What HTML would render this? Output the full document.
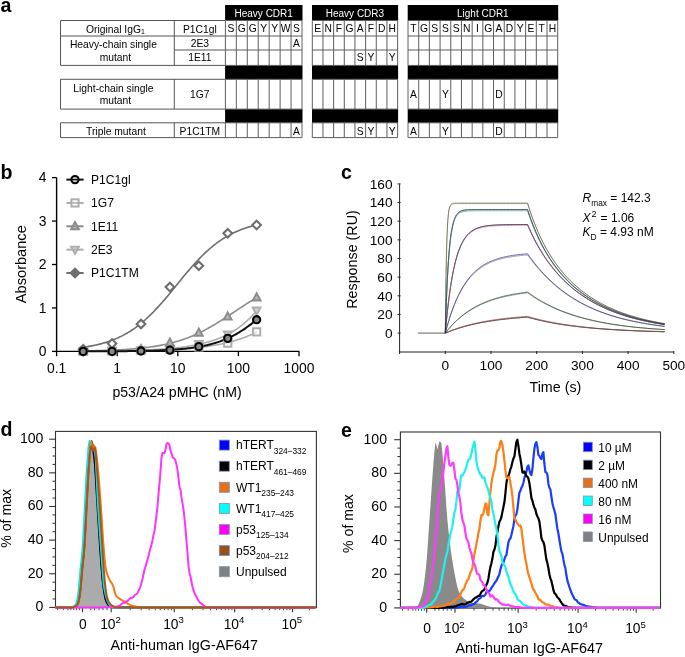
<!DOCTYPE html>
<html><head><meta charset="utf-8"><style>
html,body{margin:0;padding:0;background:#fff;width:685px;height:657px;overflow:hidden}
svg{display:block;will-change:transform}
text{font-family:"Liberation Sans", sans-serif}
</style></head><body>
<svg width="685" height="657" viewBox="0 0 685 657">
<text x="0.50" y="11.70" font-size="19.6" text-anchor="start" font-weight="bold" fill="#000" >a</text>
<text x="0.50" y="178.90" font-size="19.6" text-anchor="start" font-weight="bold" fill="#000" >b</text>
<text x="341.00" y="178.80" font-size="19.6" text-anchor="start" font-weight="bold" fill="#000" >c</text>
<text x="0.50" y="436.40" font-size="19.6" text-anchor="start" font-weight="bold" fill="#000" >d</text>
<text x="341.00" y="436.60" font-size="19.6" text-anchor="start" font-weight="bold" fill="#000" >e</text>
<rect x="225.10" y="5.00" width="77.40" height="15.50" fill="#000" stroke="none" stroke-width="0" />
<text x="263.70" y="16.90" font-size="10.0" text-anchor="middle" font-weight="normal" fill="#fff" >Heavy CDR1</text>
<rect x="225.10" y="65.40" width="77.40" height="13.90" fill="#000" stroke="none" stroke-width="0" />
<rect x="225.10" y="109.10" width="77.40" height="13.70" fill="#000" stroke="none" stroke-width="0" />
<rect x="312.00" y="5.00" width="86.10" height="15.50" fill="#000" stroke="none" stroke-width="0" />
<text x="354.95" y="16.90" font-size="10.0" text-anchor="middle" font-weight="normal" fill="#fff" >Heavy CDR3</text>
<rect x="312.00" y="65.40" width="86.10" height="13.90" fill="#000" stroke="none" stroke-width="0" />
<rect x="312.00" y="109.10" width="86.10" height="13.70" fill="#000" stroke="none" stroke-width="0" />
<rect x="407.70" y="5.00" width="150.50" height="15.50" fill="#000" stroke="none" stroke-width="0" />
<text x="482.85" y="16.90" font-size="10.0" text-anchor="middle" font-weight="normal" fill="#fff" >Light CDR1</text>
<rect x="407.70" y="65.40" width="150.50" height="13.90" fill="#000" stroke="none" stroke-width="0" />
<rect x="407.70" y="109.10" width="150.50" height="13.70" fill="#000" stroke="none" stroke-width="0" />
<line x1="60.50" y1="20.50" x2="225.40" y2="20.50" stroke="#555" stroke-width="1" />
<line x1="60.50" y1="36.00" x2="225.40" y2="36.00" stroke="#555" stroke-width="1" />
<line x1="174.30" y1="50.00" x2="225.40" y2="50.00" stroke="#555" stroke-width="1" />
<line x1="60.50" y1="65.40" x2="225.40" y2="65.40" stroke="#555" stroke-width="1" />
<line x1="60.50" y1="20.50" x2="60.50" y2="65.40" stroke="#555" stroke-width="1" />
<line x1="174.30" y1="20.50" x2="174.30" y2="65.40" stroke="#555" stroke-width="1" />
<line x1="60.50" y1="79.30" x2="225.40" y2="79.30" stroke="#555" stroke-width="1" />
<line x1="60.50" y1="109.10" x2="225.40" y2="109.10" stroke="#555" stroke-width="1" />
<line x1="60.50" y1="79.30" x2="60.50" y2="109.10" stroke="#555" stroke-width="1" />
<line x1="174.30" y1="79.30" x2="174.30" y2="109.10" stroke="#555" stroke-width="1" />
<line x1="60.50" y1="122.80" x2="225.40" y2="122.80" stroke="#555" stroke-width="1" />
<line x1="60.50" y1="137.60" x2="225.40" y2="137.60" stroke="#555" stroke-width="1" />
<line x1="60.50" y1="122.80" x2="60.50" y2="137.60" stroke="#555" stroke-width="1" />
<line x1="174.30" y1="122.80" x2="174.30" y2="137.60" stroke="#555" stroke-width="1" />
<line x1="225.40" y1="20.50" x2="302.00" y2="20.50" stroke="#5e5e5e" stroke-width="1" />
<line x1="225.40" y1="36.00" x2="302.00" y2="36.00" stroke="#5e5e5e" stroke-width="1" />
<line x1="225.40" y1="50.00" x2="302.00" y2="50.00" stroke="#5e5e5e" stroke-width="1" />
<line x1="225.40" y1="65.40" x2="302.00" y2="65.40" stroke="#5e5e5e" stroke-width="1" />
<line x1="225.40" y1="79.30" x2="302.00" y2="79.30" stroke="#5e5e5e" stroke-width="1" />
<line x1="225.40" y1="109.10" x2="302.00" y2="109.10" stroke="#5e5e5e" stroke-width="1" />
<line x1="225.40" y1="122.80" x2="302.00" y2="122.80" stroke="#5e5e5e" stroke-width="1" />
<line x1="225.40" y1="137.60" x2="302.00" y2="137.60" stroke="#5e5e5e" stroke-width="1" />
<line x1="225.40" y1="20.50" x2="225.40" y2="65.40" stroke="#5e5e5e" stroke-width="1" />
<line x1="225.40" y1="79.30" x2="225.40" y2="109.10" stroke="#5e5e5e" stroke-width="1" />
<line x1="225.40" y1="122.80" x2="225.40" y2="137.60" stroke="#5e5e5e" stroke-width="1" />
<line x1="236.34" y1="20.50" x2="236.34" y2="65.40" stroke="#5e5e5e" stroke-width="1" />
<line x1="236.34" y1="79.30" x2="236.34" y2="109.10" stroke="#5e5e5e" stroke-width="1" />
<line x1="236.34" y1="122.80" x2="236.34" y2="137.60" stroke="#5e5e5e" stroke-width="1" />
<line x1="247.29" y1="20.50" x2="247.29" y2="65.40" stroke="#5e5e5e" stroke-width="1" />
<line x1="247.29" y1="79.30" x2="247.29" y2="109.10" stroke="#5e5e5e" stroke-width="1" />
<line x1="247.29" y1="122.80" x2="247.29" y2="137.60" stroke="#5e5e5e" stroke-width="1" />
<line x1="258.23" y1="20.50" x2="258.23" y2="65.40" stroke="#5e5e5e" stroke-width="1" />
<line x1="258.23" y1="79.30" x2="258.23" y2="109.10" stroke="#5e5e5e" stroke-width="1" />
<line x1="258.23" y1="122.80" x2="258.23" y2="137.60" stroke="#5e5e5e" stroke-width="1" />
<line x1="269.17" y1="20.50" x2="269.17" y2="65.40" stroke="#5e5e5e" stroke-width="1" />
<line x1="269.17" y1="79.30" x2="269.17" y2="109.10" stroke="#5e5e5e" stroke-width="1" />
<line x1="269.17" y1="122.80" x2="269.17" y2="137.60" stroke="#5e5e5e" stroke-width="1" />
<line x1="280.11" y1="20.50" x2="280.11" y2="65.40" stroke="#5e5e5e" stroke-width="1" />
<line x1="280.11" y1="79.30" x2="280.11" y2="109.10" stroke="#5e5e5e" stroke-width="1" />
<line x1="280.11" y1="122.80" x2="280.11" y2="137.60" stroke="#5e5e5e" stroke-width="1" />
<line x1="291.06" y1="20.50" x2="291.06" y2="65.40" stroke="#5e5e5e" stroke-width="1" />
<line x1="291.06" y1="79.30" x2="291.06" y2="109.10" stroke="#5e5e5e" stroke-width="1" />
<line x1="291.06" y1="122.80" x2="291.06" y2="137.60" stroke="#5e5e5e" stroke-width="1" />
<line x1="302.00" y1="20.50" x2="302.00" y2="65.40" stroke="#5e5e5e" stroke-width="1" />
<line x1="302.00" y1="79.30" x2="302.00" y2="109.10" stroke="#5e5e5e" stroke-width="1" />
<line x1="302.00" y1="122.80" x2="302.00" y2="137.60" stroke="#5e5e5e" stroke-width="1" />
<text x="230.87" y="32.20" font-size="10.3" text-anchor="middle" font-weight="normal" fill="#000" >S</text>
<text x="241.81" y="32.20" font-size="10.3" text-anchor="middle" font-weight="normal" fill="#000" >G</text>
<text x="252.76" y="32.20" font-size="10.3" text-anchor="middle" font-weight="normal" fill="#000" >G</text>
<text x="263.70" y="32.20" font-size="10.3" text-anchor="middle" font-weight="normal" fill="#000" >Y</text>
<text x="274.64" y="32.20" font-size="10.3" text-anchor="middle" font-weight="normal" fill="#000" >Y</text>
<text x="285.59" y="32.20" font-size="10.3" text-anchor="middle" font-weight="normal" fill="#000" >W</text>
<text x="296.53" y="32.20" font-size="10.3" text-anchor="middle" font-weight="normal" fill="#000" >S</text>
<line x1="312.30" y1="20.50" x2="397.60" y2="20.50" stroke="#5e5e5e" stroke-width="1" />
<line x1="312.30" y1="36.00" x2="397.60" y2="36.00" stroke="#5e5e5e" stroke-width="1" />
<line x1="312.30" y1="50.00" x2="397.60" y2="50.00" stroke="#5e5e5e" stroke-width="1" />
<line x1="312.30" y1="65.40" x2="397.60" y2="65.40" stroke="#5e5e5e" stroke-width="1" />
<line x1="312.30" y1="79.30" x2="397.60" y2="79.30" stroke="#5e5e5e" stroke-width="1" />
<line x1="312.30" y1="109.10" x2="397.60" y2="109.10" stroke="#5e5e5e" stroke-width="1" />
<line x1="312.30" y1="122.80" x2="397.60" y2="122.80" stroke="#5e5e5e" stroke-width="1" />
<line x1="312.30" y1="137.60" x2="397.60" y2="137.60" stroke="#5e5e5e" stroke-width="1" />
<line x1="312.30" y1="20.50" x2="312.30" y2="65.40" stroke="#5e5e5e" stroke-width="1" />
<line x1="312.30" y1="79.30" x2="312.30" y2="109.10" stroke="#5e5e5e" stroke-width="1" />
<line x1="312.30" y1="122.80" x2="312.30" y2="137.60" stroke="#5e5e5e" stroke-width="1" />
<line x1="322.96" y1="20.50" x2="322.96" y2="65.40" stroke="#5e5e5e" stroke-width="1" />
<line x1="322.96" y1="79.30" x2="322.96" y2="109.10" stroke="#5e5e5e" stroke-width="1" />
<line x1="322.96" y1="122.80" x2="322.96" y2="137.60" stroke="#5e5e5e" stroke-width="1" />
<line x1="333.62" y1="20.50" x2="333.62" y2="65.40" stroke="#5e5e5e" stroke-width="1" />
<line x1="333.62" y1="79.30" x2="333.62" y2="109.10" stroke="#5e5e5e" stroke-width="1" />
<line x1="333.62" y1="122.80" x2="333.62" y2="137.60" stroke="#5e5e5e" stroke-width="1" />
<line x1="344.29" y1="20.50" x2="344.29" y2="65.40" stroke="#5e5e5e" stroke-width="1" />
<line x1="344.29" y1="79.30" x2="344.29" y2="109.10" stroke="#5e5e5e" stroke-width="1" />
<line x1="344.29" y1="122.80" x2="344.29" y2="137.60" stroke="#5e5e5e" stroke-width="1" />
<line x1="354.95" y1="20.50" x2="354.95" y2="65.40" stroke="#5e5e5e" stroke-width="1" />
<line x1="354.95" y1="79.30" x2="354.95" y2="109.10" stroke="#5e5e5e" stroke-width="1" />
<line x1="354.95" y1="122.80" x2="354.95" y2="137.60" stroke="#5e5e5e" stroke-width="1" />
<line x1="365.61" y1="20.50" x2="365.61" y2="65.40" stroke="#5e5e5e" stroke-width="1" />
<line x1="365.61" y1="79.30" x2="365.61" y2="109.10" stroke="#5e5e5e" stroke-width="1" />
<line x1="365.61" y1="122.80" x2="365.61" y2="137.60" stroke="#5e5e5e" stroke-width="1" />
<line x1="376.28" y1="20.50" x2="376.28" y2="65.40" stroke="#5e5e5e" stroke-width="1" />
<line x1="376.28" y1="79.30" x2="376.28" y2="109.10" stroke="#5e5e5e" stroke-width="1" />
<line x1="376.28" y1="122.80" x2="376.28" y2="137.60" stroke="#5e5e5e" stroke-width="1" />
<line x1="386.94" y1="20.50" x2="386.94" y2="65.40" stroke="#5e5e5e" stroke-width="1" />
<line x1="386.94" y1="79.30" x2="386.94" y2="109.10" stroke="#5e5e5e" stroke-width="1" />
<line x1="386.94" y1="122.80" x2="386.94" y2="137.60" stroke="#5e5e5e" stroke-width="1" />
<line x1="397.60" y1="20.50" x2="397.60" y2="65.40" stroke="#5e5e5e" stroke-width="1" />
<line x1="397.60" y1="79.30" x2="397.60" y2="109.10" stroke="#5e5e5e" stroke-width="1" />
<line x1="397.60" y1="122.80" x2="397.60" y2="137.60" stroke="#5e5e5e" stroke-width="1" />
<text x="317.63" y="32.20" font-size="10.3" text-anchor="middle" font-weight="normal" fill="#000" >E</text>
<text x="328.29" y="32.20" font-size="10.3" text-anchor="middle" font-weight="normal" fill="#000" >N</text>
<text x="338.96" y="32.20" font-size="10.3" text-anchor="middle" font-weight="normal" fill="#000" >F</text>
<text x="349.62" y="32.20" font-size="10.3" text-anchor="middle" font-weight="normal" fill="#000" >G</text>
<text x="360.28" y="32.20" font-size="10.3" text-anchor="middle" font-weight="normal" fill="#000" >A</text>
<text x="370.94" y="32.20" font-size="10.3" text-anchor="middle" font-weight="normal" fill="#000" >F</text>
<text x="381.61" y="32.20" font-size="10.3" text-anchor="middle" font-weight="normal" fill="#000" >D</text>
<text x="392.27" y="32.20" font-size="10.3" text-anchor="middle" font-weight="normal" fill="#000" >H</text>
<line x1="408.00" y1="20.50" x2="557.70" y2="20.50" stroke="#5e5e5e" stroke-width="1" />
<line x1="408.00" y1="36.00" x2="557.70" y2="36.00" stroke="#5e5e5e" stroke-width="1" />
<line x1="408.00" y1="50.00" x2="557.70" y2="50.00" stroke="#5e5e5e" stroke-width="1" />
<line x1="408.00" y1="65.40" x2="557.70" y2="65.40" stroke="#5e5e5e" stroke-width="1" />
<line x1="408.00" y1="79.30" x2="557.70" y2="79.30" stroke="#5e5e5e" stroke-width="1" />
<line x1="408.00" y1="109.10" x2="557.70" y2="109.10" stroke="#5e5e5e" stroke-width="1" />
<line x1="408.00" y1="122.80" x2="557.70" y2="122.80" stroke="#5e5e5e" stroke-width="1" />
<line x1="408.00" y1="137.60" x2="557.70" y2="137.60" stroke="#5e5e5e" stroke-width="1" />
<line x1="408.00" y1="20.50" x2="408.00" y2="65.40" stroke="#5e5e5e" stroke-width="1" />
<line x1="408.00" y1="79.30" x2="408.00" y2="109.10" stroke="#5e5e5e" stroke-width="1" />
<line x1="408.00" y1="122.80" x2="408.00" y2="137.60" stroke="#5e5e5e" stroke-width="1" />
<line x1="418.69" y1="20.50" x2="418.69" y2="65.40" stroke="#5e5e5e" stroke-width="1" />
<line x1="418.69" y1="79.30" x2="418.69" y2="109.10" stroke="#5e5e5e" stroke-width="1" />
<line x1="418.69" y1="122.80" x2="418.69" y2="137.60" stroke="#5e5e5e" stroke-width="1" />
<line x1="429.39" y1="20.50" x2="429.39" y2="65.40" stroke="#5e5e5e" stroke-width="1" />
<line x1="429.39" y1="79.30" x2="429.39" y2="109.10" stroke="#5e5e5e" stroke-width="1" />
<line x1="429.39" y1="122.80" x2="429.39" y2="137.60" stroke="#5e5e5e" stroke-width="1" />
<line x1="440.08" y1="20.50" x2="440.08" y2="65.40" stroke="#5e5e5e" stroke-width="1" />
<line x1="440.08" y1="79.30" x2="440.08" y2="109.10" stroke="#5e5e5e" stroke-width="1" />
<line x1="440.08" y1="122.80" x2="440.08" y2="137.60" stroke="#5e5e5e" stroke-width="1" />
<line x1="450.77" y1="20.50" x2="450.77" y2="65.40" stroke="#5e5e5e" stroke-width="1" />
<line x1="450.77" y1="79.30" x2="450.77" y2="109.10" stroke="#5e5e5e" stroke-width="1" />
<line x1="450.77" y1="122.80" x2="450.77" y2="137.60" stroke="#5e5e5e" stroke-width="1" />
<line x1="461.46" y1="20.50" x2="461.46" y2="65.40" stroke="#5e5e5e" stroke-width="1" />
<line x1="461.46" y1="79.30" x2="461.46" y2="109.10" stroke="#5e5e5e" stroke-width="1" />
<line x1="461.46" y1="122.80" x2="461.46" y2="137.60" stroke="#5e5e5e" stroke-width="1" />
<line x1="472.16" y1="20.50" x2="472.16" y2="65.40" stroke="#5e5e5e" stroke-width="1" />
<line x1="472.16" y1="79.30" x2="472.16" y2="109.10" stroke="#5e5e5e" stroke-width="1" />
<line x1="472.16" y1="122.80" x2="472.16" y2="137.60" stroke="#5e5e5e" stroke-width="1" />
<line x1="482.85" y1="20.50" x2="482.85" y2="65.40" stroke="#5e5e5e" stroke-width="1" />
<line x1="482.85" y1="79.30" x2="482.85" y2="109.10" stroke="#5e5e5e" stroke-width="1" />
<line x1="482.85" y1="122.80" x2="482.85" y2="137.60" stroke="#5e5e5e" stroke-width="1" />
<line x1="493.54" y1="20.50" x2="493.54" y2="65.40" stroke="#5e5e5e" stroke-width="1" />
<line x1="493.54" y1="79.30" x2="493.54" y2="109.10" stroke="#5e5e5e" stroke-width="1" />
<line x1="493.54" y1="122.80" x2="493.54" y2="137.60" stroke="#5e5e5e" stroke-width="1" />
<line x1="504.24" y1="20.50" x2="504.24" y2="65.40" stroke="#5e5e5e" stroke-width="1" />
<line x1="504.24" y1="79.30" x2="504.24" y2="109.10" stroke="#5e5e5e" stroke-width="1" />
<line x1="504.24" y1="122.80" x2="504.24" y2="137.60" stroke="#5e5e5e" stroke-width="1" />
<line x1="514.93" y1="20.50" x2="514.93" y2="65.40" stroke="#5e5e5e" stroke-width="1" />
<line x1="514.93" y1="79.30" x2="514.93" y2="109.10" stroke="#5e5e5e" stroke-width="1" />
<line x1="514.93" y1="122.80" x2="514.93" y2="137.60" stroke="#5e5e5e" stroke-width="1" />
<line x1="525.62" y1="20.50" x2="525.62" y2="65.40" stroke="#5e5e5e" stroke-width="1" />
<line x1="525.62" y1="79.30" x2="525.62" y2="109.10" stroke="#5e5e5e" stroke-width="1" />
<line x1="525.62" y1="122.80" x2="525.62" y2="137.60" stroke="#5e5e5e" stroke-width="1" />
<line x1="536.31" y1="20.50" x2="536.31" y2="65.40" stroke="#5e5e5e" stroke-width="1" />
<line x1="536.31" y1="79.30" x2="536.31" y2="109.10" stroke="#5e5e5e" stroke-width="1" />
<line x1="536.31" y1="122.80" x2="536.31" y2="137.60" stroke="#5e5e5e" stroke-width="1" />
<line x1="547.01" y1="20.50" x2="547.01" y2="65.40" stroke="#5e5e5e" stroke-width="1" />
<line x1="547.01" y1="79.30" x2="547.01" y2="109.10" stroke="#5e5e5e" stroke-width="1" />
<line x1="547.01" y1="122.80" x2="547.01" y2="137.60" stroke="#5e5e5e" stroke-width="1" />
<line x1="557.70" y1="20.50" x2="557.70" y2="65.40" stroke="#5e5e5e" stroke-width="1" />
<line x1="557.70" y1="79.30" x2="557.70" y2="109.10" stroke="#5e5e5e" stroke-width="1" />
<line x1="557.70" y1="122.80" x2="557.70" y2="137.60" stroke="#5e5e5e" stroke-width="1" />
<text x="413.35" y="32.20" font-size="10.3" text-anchor="middle" font-weight="normal" fill="#000" >T</text>
<text x="424.04" y="32.20" font-size="10.3" text-anchor="middle" font-weight="normal" fill="#000" >G</text>
<text x="434.73" y="32.20" font-size="10.3" text-anchor="middle" font-weight="normal" fill="#000" >S</text>
<text x="445.43" y="32.20" font-size="10.3" text-anchor="middle" font-weight="normal" fill="#000" >S</text>
<text x="456.12" y="32.20" font-size="10.3" text-anchor="middle" font-weight="normal" fill="#000" >S</text>
<text x="466.81" y="32.20" font-size="10.3" text-anchor="middle" font-weight="normal" fill="#000" >N</text>
<text x="477.50" y="32.20" font-size="10.3" text-anchor="middle" font-weight="normal" fill="#000" >I</text>
<text x="488.20" y="32.20" font-size="10.3" text-anchor="middle" font-weight="normal" fill="#000" >G</text>
<text x="498.89" y="32.20" font-size="10.3" text-anchor="middle" font-weight="normal" fill="#000" >A</text>
<text x="509.58" y="32.20" font-size="10.3" text-anchor="middle" font-weight="normal" fill="#000" >D</text>
<text x="520.28" y="32.20" font-size="10.3" text-anchor="middle" font-weight="normal" fill="#000" >Y</text>
<text x="530.97" y="32.20" font-size="10.3" text-anchor="middle" font-weight="normal" fill="#000" >E</text>
<text x="541.66" y="32.20" font-size="10.3" text-anchor="middle" font-weight="normal" fill="#000" >T</text>
<text x="552.35" y="32.20" font-size="10.3" text-anchor="middle" font-weight="normal" fill="#000" >H</text>
<text x="115.40" y="32.50" font-size="10.3" text-anchor="middle" font-weight="normal" fill="#000" >Original IgG<tspan font-size="7" dy="1.5">1</tspan></text>
<text x="113.40" y="48.00" font-size="10.3" text-anchor="middle" font-weight="normal" fill="#000" >Heavy-chain single</text>
<text x="115.40" y="60.50" font-size="10.3" text-anchor="middle" font-weight="normal" fill="#000" >mutant</text>
<text x="113.40" y="92.00" font-size="10.3" text-anchor="middle" font-weight="normal" fill="#000" >Light-chain single</text>
<text x="115.40" y="104.40" font-size="10.3" text-anchor="middle" font-weight="normal" fill="#000" >mutant</text>
<text x="115.90" y="134.90" font-size="10.3" text-anchor="middle" font-weight="normal" fill="#000" >Triple mutant</text>
<text x="199.85" y="32.50" font-size="10.3" text-anchor="middle" font-weight="normal" fill="#000" >P1C1gl</text>
<text x="199.85" y="47.10" font-size="10.3" text-anchor="middle" font-weight="normal" fill="#000" >2E3</text>
<text x="199.85" y="61.30" font-size="10.3" text-anchor="middle" font-weight="normal" fill="#000" >1E11</text>
<text x="199.85" y="98.00" font-size="10.3" text-anchor="middle" font-weight="normal" fill="#000" >1G7</text>
<text x="199.85" y="134.90" font-size="10.3" text-anchor="middle" font-weight="normal" fill="#000" >P1C1TM</text>
<text x="296.53" y="47.10" font-size="10.3" text-anchor="middle" font-weight="normal" fill="#000" >A</text>
<text x="360.28" y="61.30" font-size="10.3" text-anchor="middle" font-weight="normal" fill="#000" >S</text>
<text x="360.28" y="134.90" font-size="10.3" text-anchor="middle" font-weight="normal" fill="#000" >S</text>
<text x="370.94" y="61.30" font-size="10.3" text-anchor="middle" font-weight="normal" fill="#000" >Y</text>
<text x="370.94" y="134.90" font-size="10.3" text-anchor="middle" font-weight="normal" fill="#000" >Y</text>
<text x="392.27" y="61.30" font-size="10.3" text-anchor="middle" font-weight="normal" fill="#000" >Y</text>
<text x="392.27" y="134.90" font-size="10.3" text-anchor="middle" font-weight="normal" fill="#000" >Y</text>
<text x="413.35" y="98.00" font-size="10.3" text-anchor="middle" font-weight="normal" fill="#000" >A</text>
<text x="413.35" y="134.90" font-size="10.3" text-anchor="middle" font-weight="normal" fill="#000" >A</text>
<text x="445.43" y="98.00" font-size="10.3" text-anchor="middle" font-weight="normal" fill="#000" >Y</text>
<text x="445.43" y="134.90" font-size="10.3" text-anchor="middle" font-weight="normal" fill="#000" >Y</text>
<text x="498.89" y="98.00" font-size="10.3" text-anchor="middle" font-weight="normal" fill="#000" >D</text>
<text x="498.89" y="134.90" font-size="10.3" text-anchor="middle" font-weight="normal" fill="#000" >D</text>
<text x="296.53" y="134.90" font-size="10.3" text-anchor="middle" font-weight="normal" fill="#000" >A</text>
<line x1="56.60" y1="177.50" x2="56.60" y2="352.10" stroke="#000" stroke-width="1.4" />
<line x1="56.00" y1="351.40" x2="299.40" y2="351.40" stroke="#000" stroke-width="1.4" />
<line x1="52.00" y1="351.40" x2="56.60" y2="351.40" stroke="#000" stroke-width="1.3" />
<text x="46.50" y="356.20" font-size="13.9" text-anchor="end" font-weight="normal" fill="#000" >0</text>
<line x1="52.00" y1="307.95" x2="56.60" y2="307.95" stroke="#000" stroke-width="1.3" />
<text x="46.50" y="312.75" font-size="13.9" text-anchor="end" font-weight="normal" fill="#000" >1</text>
<line x1="52.00" y1="264.50" x2="56.60" y2="264.50" stroke="#000" stroke-width="1.3" />
<text x="46.50" y="269.30" font-size="13.9" text-anchor="end" font-weight="normal" fill="#000" >2</text>
<line x1="52.00" y1="221.05" x2="56.60" y2="221.05" stroke="#000" stroke-width="1.3" />
<text x="46.50" y="225.85" font-size="13.9" text-anchor="end" font-weight="normal" fill="#000" >3</text>
<line x1="52.00" y1="177.60" x2="56.60" y2="177.60" stroke="#000" stroke-width="1.3" />
<text x="46.50" y="182.40" font-size="13.9" text-anchor="end" font-weight="normal" fill="#000" >4</text>
<line x1="56.60" y1="351.40" x2="56.60" y2="356.20" stroke="#000" stroke-width="1.3" />
<text x="56.60" y="372.70" font-size="13.9" text-anchor="middle" font-weight="normal" fill="#000" >0.1</text>
<line x1="117.20" y1="351.40" x2="117.20" y2="356.20" stroke="#000" stroke-width="1.3" />
<text x="117.20" y="372.70" font-size="13.9" text-anchor="middle" font-weight="normal" fill="#000" >1</text>
<line x1="177.80" y1="351.40" x2="177.80" y2="356.20" stroke="#000" stroke-width="1.3" />
<text x="177.80" y="372.70" font-size="13.9" text-anchor="middle" font-weight="normal" fill="#000" >10</text>
<line x1="238.40" y1="351.40" x2="238.40" y2="356.20" stroke="#000" stroke-width="1.3" />
<text x="238.40" y="372.70" font-size="13.9" text-anchor="middle" font-weight="normal" fill="#000" >100</text>
<line x1="299.00" y1="351.40" x2="299.00" y2="356.20" stroke="#000" stroke-width="1.3" />
<text x="299.00" y="372.70" font-size="13.9" text-anchor="middle" font-weight="normal" fill="#000" >1000</text>
<text x="26.20" y="264.20" font-size="14.6" text-anchor="middle" font-weight="normal" fill="#000" transform="rotate(-90 26.2 264.2)">Absorbance</text>
<text x="177.00" y="396.80" font-size="14.1" text-anchor="middle" font-weight="normal" fill="#000" >p53/A24 pMHC (nM)</text>
<polyline points="83.13,351.23 84.59,351.23 86.04,351.22 87.50,351.21 88.96,351.21 90.42,351.20 91.88,351.19 93.33,351.18 94.79,351.17 96.25,351.16 97.71,351.15 99.17,351.14 100.62,351.13 102.08,351.12 103.54,351.11 105.00,351.10 106.46,351.08 107.92,351.07 109.37,351.06 110.83,351.04 112.29,351.03 113.75,351.01 115.21,351.00 116.66,350.98 118.12,350.97 119.58,350.95 121.04,350.93 122.50,350.91 123.95,350.89 125.41,350.87 126.87,350.85 128.33,350.82 129.79,350.80 131.25,350.78 132.70,350.75 134.16,350.72 135.62,350.70 137.08,350.67 138.54,350.64 139.99,350.61 141.45,350.58 142.91,350.54 144.37,350.51 145.83,350.47 147.28,350.43 148.74,350.39 150.20,350.35 151.66,350.31 153.12,350.26 154.57,350.22 156.03,350.17 157.49,350.12 158.95,350.07 160.41,350.01 161.87,349.95 163.32,349.89 164.78,349.83 166.24,349.77 167.70,349.70 169.16,349.63 170.61,349.56 172.07,349.49 173.53,349.41 174.99,349.33 176.45,349.24 177.90,349.15 179.36,349.06 180.82,348.97 182.28,348.87 183.74,348.76 185.20,348.65 186.65,348.54 188.11,348.43 189.57,348.30 191.03,348.18 192.49,348.05 193.94,347.91 195.40,347.77 196.86,347.62 198.32,347.46 199.78,347.30 201.23,347.14 202.69,346.96 204.15,346.78 205.61,346.59 207.07,346.40 208.52,346.19 209.98,345.98 211.44,345.76 212.90,345.53 214.36,345.29 215.82,345.04 217.27,344.78 218.73,344.51 220.19,344.23 221.65,343.94 223.11,343.63 224.56,343.32 226.02,342.99 227.48,342.65 228.94,342.29 230.40,341.92 231.85,341.53 233.31,341.13 234.77,340.71 236.23,340.28 237.69,339.83 239.15,339.36 240.60,338.87 242.06,338.36 243.52,337.83 244.98,337.28 246.44,336.70 247.89,336.11 249.35,335.49 250.81,334.84 252.27,334.17 253.73,333.47 255.18,332.75 256.64,331.99" fill="none" stroke="#adadad" stroke-width="1.6" stroke-linejoin="round" />
<polyline points="83.13,351.19 84.59,351.19 86.04,351.18 87.50,351.17 88.96,351.15 90.42,351.14 91.88,351.13 93.33,351.12 94.79,351.11 96.25,351.09 97.71,351.08 99.17,351.06 100.62,351.05 102.08,351.03 103.54,351.02 105.00,351.00 106.46,350.98 107.92,350.96 109.37,350.94 110.83,350.92 112.29,350.90 113.75,350.88 115.21,350.85 116.66,350.83 118.12,350.80 119.58,350.77 121.04,350.75 122.50,350.72 123.95,350.68 125.41,350.65 126.87,350.62 128.33,350.58 129.79,350.54 131.25,350.50 132.70,350.46 134.16,350.42 135.62,350.38 137.08,350.33 138.54,350.28 139.99,350.23 141.45,350.18 142.91,350.12 144.37,350.06 145.83,350.00 147.28,349.94 148.74,349.87 150.20,349.80 151.66,349.73 153.12,349.65 154.57,349.57 156.03,349.49 157.49,349.40 158.95,349.31 160.41,349.21 161.87,349.11 163.32,349.01 164.78,348.90 166.24,348.79 167.70,348.67 169.16,348.54 170.61,348.41 172.07,348.28 173.53,348.14 174.99,347.99 176.45,347.83 177.90,347.67 179.36,347.50 180.82,347.32 182.28,347.13 183.74,346.94 185.20,346.74 186.65,346.52 188.11,346.30 189.57,346.07 191.03,345.83 192.49,345.57 193.94,345.31 195.40,345.03 196.86,344.74 198.32,344.44 199.78,344.12 201.23,343.79 202.69,343.44 204.15,343.08 205.61,342.70 207.07,342.31 208.52,341.89 209.98,341.46 211.44,341.01 212.90,340.54 214.36,340.05 215.82,339.53 217.27,338.99 218.73,338.43 220.19,337.84 221.65,337.23 223.11,336.58 224.56,335.91 226.02,335.21 227.48,334.48 228.94,333.71 230.40,332.91 231.85,332.08 233.31,331.20 234.77,330.29 236.23,329.34 237.69,328.34 239.15,327.30 240.60,326.21 242.06,325.08 243.52,323.89 244.98,322.66 246.44,321.36 247.89,320.01 249.35,318.60 250.81,317.13 252.27,315.59 253.73,313.99 255.18,312.32 256.64,310.57" fill="none" stroke="#adadad" stroke-width="1.6" stroke-linejoin="round" />
<polyline points="83.13,350.92 84.59,350.90 86.04,350.87 87.50,350.85 88.96,350.82 90.42,350.79 91.88,350.76 93.33,350.73 94.79,350.70 96.25,350.66 97.71,350.62 99.17,350.58 100.62,350.54 102.08,350.50 103.54,350.46 105.00,350.41 106.46,350.36 107.92,350.31 109.37,350.25 110.83,350.20 112.29,350.14 113.75,350.07 115.21,350.01 116.66,349.94 118.12,349.87 119.58,349.79 121.04,349.71 122.50,349.63 123.95,349.54 125.41,349.45 126.87,349.35 128.33,349.25 129.79,349.15 131.25,349.04 132.70,348.92 134.16,348.80 135.62,348.67 137.08,348.54 138.54,348.40 139.99,348.26 141.45,348.11 142.91,347.95 144.37,347.78 145.83,347.61 147.28,347.42 148.74,347.23 150.20,347.04 151.66,346.83 153.12,346.61 154.57,346.38 156.03,346.15 157.49,345.90 158.95,345.64 160.41,345.38 161.87,345.10 163.32,344.80 164.78,344.50 166.24,344.18 167.70,343.85 169.16,343.51 170.61,343.16 172.07,342.78 173.53,342.40 174.99,342.00 176.45,341.58 177.90,341.15 179.36,340.71 180.82,340.24 182.28,339.76 183.74,339.26 185.20,338.75 186.65,338.22 188.11,337.67 189.57,337.10 191.03,336.51 192.49,335.91 193.94,335.29 195.40,334.65 196.86,333.99 198.32,333.31 199.78,332.62 201.23,331.90 202.69,331.17 204.15,330.42 205.61,329.65 207.07,328.87 208.52,328.06 209.98,327.25 211.44,326.41 212.90,325.56 214.36,324.70 215.82,323.82 217.27,322.93 218.73,322.03 220.19,321.12 221.65,320.19 223.11,319.26 224.56,318.31 226.02,317.36 227.48,316.41 228.94,315.44 230.40,314.48 231.85,313.51 233.31,312.53 234.77,311.56 236.23,310.59 237.69,309.62 239.15,308.65 240.60,307.69 242.06,306.73 243.52,305.77 244.98,304.83 246.44,303.89 247.89,302.96 249.35,302.05 250.81,301.14 252.27,300.24 253.73,299.36 255.18,298.49 256.64,297.64" fill="none" stroke="#8c8c8c" stroke-width="1.6" stroke-linejoin="round" />
<polyline points="83.13,347.35 84.59,347.13 86.04,346.90 87.50,346.66 88.96,346.41 90.42,346.14 91.88,345.87 93.33,345.57 94.79,345.26 96.25,344.94 97.71,344.60 99.17,344.25 100.62,343.87 102.08,343.48 103.54,343.07 105.00,342.64 106.46,342.19 107.92,341.71 109.37,341.22 110.83,340.70 112.29,340.16 113.75,339.59 115.21,339.00 116.66,338.38 118.12,337.73 119.58,337.05 121.04,336.35 122.50,335.62 123.95,334.85 125.41,334.05 126.87,333.22 128.33,332.36 129.79,331.47 131.25,330.53 132.70,329.57 134.16,328.57 135.62,327.53 137.08,326.46 138.54,325.35 139.99,324.20 141.45,323.01 142.91,321.79 144.37,320.53 145.83,319.24 147.28,317.90 148.74,316.53 150.20,315.13 151.66,313.69 153.12,312.22 154.57,310.71 156.03,309.17 157.49,307.60 158.95,306.01 160.41,304.38 161.87,302.73 163.32,301.06 164.78,299.36 166.24,297.64 167.70,295.91 169.16,294.16 170.61,292.39 172.07,290.62 173.53,288.84 174.99,287.05 176.45,285.26 177.90,283.46 179.36,281.67 180.82,279.89 182.28,278.11 183.74,276.34 185.20,274.59 186.65,272.84 188.11,271.12 189.57,269.41 191.03,267.73 192.49,266.07 193.94,264.43 195.40,262.82 196.86,261.24 198.32,259.69 199.78,258.18 201.23,256.69 202.69,255.24 204.15,253.82 205.61,252.43 207.07,251.09 208.52,249.78 209.98,248.50 211.44,247.27 212.90,246.07 214.36,244.90 215.82,243.78 217.27,242.69 218.73,241.64 220.19,240.62 221.65,239.64 223.11,238.70 224.56,237.79 226.02,236.91 227.48,236.07 228.94,235.26 230.40,234.48 231.85,233.73 233.31,233.02 234.77,232.33 236.23,231.67 237.69,231.04 239.15,230.44 240.60,229.86 242.06,229.31 243.52,228.78 244.98,228.27 246.44,227.79 247.89,227.33 249.35,226.89 250.81,226.47 252.27,226.07 253.73,225.69 255.18,225.33 256.64,224.98" fill="none" stroke="#6e6e6e" stroke-width="1.6" stroke-linejoin="round" />
<polyline points="83.13,351.35 84.59,351.35 86.04,351.35 87.50,351.34 88.96,351.34 90.42,351.34 91.88,351.33 93.33,351.33 94.79,351.32 96.25,351.32 97.71,351.31 99.17,351.31 100.62,351.30 102.08,351.30 103.54,351.29 105.00,351.29 106.46,351.28 107.92,351.27 109.37,351.26 110.83,351.26 112.29,351.25 113.75,351.24 115.21,351.23 116.66,351.22 118.12,351.21 119.58,351.20 121.04,351.18 122.50,351.17 123.95,351.16 125.41,351.14 126.87,351.13 128.33,351.11 129.79,351.09 131.25,351.08 132.70,351.06 134.16,351.04 135.62,351.01 137.08,350.99 138.54,350.97 139.99,350.94 141.45,350.91 142.91,350.88 144.37,350.85 145.83,350.82 147.28,350.79 148.74,350.75 150.20,350.71 151.66,350.67 153.12,350.63 154.57,350.58 156.03,350.53 157.49,350.48 158.95,350.43 160.41,350.37 161.87,350.31 163.32,350.24 164.78,350.18 166.24,350.10 167.70,350.03 169.16,349.95 170.61,349.86 172.07,349.77 173.53,349.67 174.99,349.57 176.45,349.47 177.90,349.35 179.36,349.23 180.82,349.11 182.28,348.97 183.74,348.83 185.20,348.68 186.65,348.53 188.11,348.36 189.57,348.18 191.03,348.00 192.49,347.80 193.94,347.60 195.40,347.38 196.86,347.15 198.32,346.91 199.78,346.65 201.23,346.38 202.69,346.10 204.15,345.80 205.61,345.49 207.07,345.16 208.52,344.81 209.98,344.45 211.44,344.06 212.90,343.66 214.36,343.24 215.82,342.79 217.27,342.33 218.73,341.84 220.19,341.33 221.65,340.80 223.11,340.24 224.56,339.66 226.02,339.05 227.48,338.42 228.94,337.75 230.40,337.06 231.85,336.35 233.31,335.60 234.77,334.82 236.23,334.02 237.69,333.18 239.15,332.32 240.60,331.42 242.06,330.50 243.52,329.54 244.98,328.56 246.44,327.55 247.89,326.50 249.35,325.43 250.81,324.34 252.27,323.21 253.73,322.06 255.18,320.89 256.64,319.69" fill="none" stroke="#111" stroke-width="2.0" stroke-linejoin="round" />
<rect x="79.56" y="347.80" width="7.2" height="7.2" fill="#fff" fill-opacity="0.6" stroke="#adadad" stroke-width="2"/>
<rect x="108.47" y="347.37" width="7.2" height="7.2" fill="#fff" fill-opacity="0.6" stroke="#adadad" stroke-width="2"/>
<rect x="137.39" y="346.93" width="7.2" height="7.2" fill="#fff" fill-opacity="0.6" stroke="#adadad" stroke-width="2"/>
<rect x="166.30" y="345.63" width="7.2" height="7.2" fill="#fff" fill-opacity="0.6" stroke="#adadad" stroke-width="2"/>
<rect x="195.22" y="343.45" width="7.2" height="7.2" fill="#fff" fill-opacity="0.6" stroke="#adadad" stroke-width="2"/>
<rect x="224.13" y="339.54" width="7.2" height="7.2" fill="#fff" fill-opacity="0.6" stroke="#adadad" stroke-width="2"/>
<rect x="253.04" y="328.25" width="7.2" height="7.2" fill="#fff" fill-opacity="0.6" stroke="#adadad" stroke-width="2"/>
<polygon points="83.16,355.70 87.06,348.40 79.26,348.40" fill="#d0d0d0" stroke="#adadad" stroke-width="1.9"/>
<polygon points="112.07,355.27 115.97,347.97 108.17,347.97" fill="#d0d0d0" stroke="#adadad" stroke-width="1.9"/>
<polygon points="140.99,354.40 144.89,347.10 137.09,347.10" fill="#d0d0d0" stroke="#adadad" stroke-width="1.9"/>
<polygon points="169.90,353.09 173.80,345.79 166.00,345.79" fill="#d0d0d0" stroke="#adadad" stroke-width="1.9"/>
<polygon points="198.82,348.31 202.72,341.01 194.92,341.01" fill="#d0d0d0" stroke="#adadad" stroke-width="1.9"/>
<polygon points="227.73,338.75 231.63,331.45 223.83,331.45" fill="#d0d0d0" stroke="#adadad" stroke-width="1.9"/>
<polygon points="256.64,314.86 260.54,307.56 252.74,307.56" fill="#d0d0d0" stroke="#adadad" stroke-width="1.9"/>
<polygon points="83.16,346.67 87.06,353.97 79.26,353.97" fill="#b4b4b4" stroke="#8c8c8c" stroke-width="1.9" stroke-linejoin="miter"/>
<polygon points="112.07,346.23 115.97,353.53 108.17,353.53" fill="#b4b4b4" stroke="#8c8c8c" stroke-width="1.9" stroke-linejoin="miter"/>
<polygon points="140.99,344.93 144.89,352.23 137.09,352.23" fill="#b4b4b4" stroke="#8c8c8c" stroke-width="1.9" stroke-linejoin="miter"/>
<polygon points="169.90,338.41 173.80,345.71 166.00,345.71" fill="#b4b4b4" stroke="#8c8c8c" stroke-width="1.9" stroke-linejoin="miter"/>
<polygon points="198.82,328.42 202.72,335.72 194.92,335.72" fill="#b4b4b4" stroke="#8c8c8c" stroke-width="1.9" stroke-linejoin="miter"/>
<polygon points="227.73,312.34 231.63,319.64 223.83,319.64" fill="#b4b4b4" stroke="#8c8c8c" stroke-width="1.9" stroke-linejoin="miter"/>
<polygon points="256.64,293.22 260.54,300.52 252.74,300.52" fill="#b4b4b4" stroke="#8c8c8c" stroke-width="1.9" stroke-linejoin="miter"/>
<polygon points="83.16,344.93 87.46,349.23 83.16,353.53 78.86,349.23" fill="#fff" stroke="#6e6e6e" stroke-width="2.1"/>
<polygon points="112.07,339.28 116.37,343.58 112.07,347.88 107.77,343.58" fill="#fff" stroke="#6e6e6e" stroke-width="2.1"/>
<polygon points="140.99,319.73 145.29,324.03 140.99,328.33 136.69,324.03" fill="#fff" stroke="#6e6e6e" stroke-width="2.1"/>
<polygon points="169.90,282.79 174.20,287.09 169.90,291.39 165.60,287.09" fill="#fff" stroke="#6e6e6e" stroke-width="2.1"/>
<polygon points="198.82,261.50 203.12,265.80 198.82,270.10 194.52,265.80" fill="#fff" stroke="#6e6e6e" stroke-width="2.1"/>
<polygon points="227.73,228.92 232.03,233.22 227.73,237.52 223.43,233.22" fill="#fff" stroke="#6e6e6e" stroke-width="2.1"/>
<polygon points="256.64,220.66 260.94,224.96 256.64,229.26 252.34,224.96" fill="#fff" stroke="#6e6e6e" stroke-width="2.1"/>
<circle cx="83.16" cy="351.40" r="3.6" fill="#8a8a8a" stroke="#000" stroke-width="2.1"/>
<circle cx="112.07" cy="351.40" r="3.6" fill="#8a8a8a" stroke="#000" stroke-width="2.1"/>
<circle cx="140.99" cy="350.97" r="3.6" fill="#8a8a8a" stroke="#000" stroke-width="2.1"/>
<circle cx="169.90" cy="350.10" r="3.6" fill="#8a8a8a" stroke="#000" stroke-width="2.1"/>
<circle cx="198.82" cy="346.62" r="3.6" fill="#8a8a8a" stroke="#000" stroke-width="2.1"/>
<circle cx="227.73" cy="338.36" r="3.6" fill="#8a8a8a" stroke="#000" stroke-width="2.1"/>
<circle cx="256.64" cy="319.68" r="3.6" fill="#8a8a8a" stroke="#000" stroke-width="2.1"/>
<line x1="66.40" y1="179.60" x2="83.60" y2="179.60" stroke="#111" stroke-width="2.0" />
<circle cx="75.00" cy="179.60" r="3.6" fill="#cfcfcf" stroke="#000" stroke-width="2.1"/>
<line x1="71.50" y1="179.60" x2="78.50" y2="179.60" stroke="#111" stroke-width="1.4" />
<text x="91.00" y="183.90" font-size="12.1" text-anchor="start" font-weight="normal" fill="#000" >P1C1gl</text>
<line x1="66.40" y1="202.95" x2="83.60" y2="202.95" stroke="#adadad" stroke-width="2.0" />
<rect x="71.40" y="199.35" width="7.2" height="7.2" fill="#fff" fill-opacity="0.6" stroke="#adadad" stroke-width="2"/>
<line x1="71.50" y1="202.95" x2="78.50" y2="202.95" stroke="#adadad" stroke-width="1.4" />
<text x="91.00" y="207.25" font-size="12.1" text-anchor="start" font-weight="normal" fill="#000" >1G7</text>
<line x1="66.40" y1="226.30" x2="83.60" y2="226.30" stroke="#8c8c8c" stroke-width="2.0" />
<polygon points="75.00,222.00 78.90,229.30 71.10,229.30" fill="#b4b4b4" stroke="#8c8c8c" stroke-width="1.9" stroke-linejoin="miter"/>
<line x1="71.50" y1="226.30" x2="78.50" y2="226.30" stroke="#8c8c8c" stroke-width="1.4" />
<text x="91.00" y="230.60" font-size="12.1" text-anchor="start" font-weight="normal" fill="#000" >1E11</text>
<line x1="66.40" y1="249.65" x2="83.60" y2="249.65" stroke="#adadad" stroke-width="2.0" />
<polygon points="75.00,253.95 78.90,246.65 71.10,246.65" fill="#d0d0d0" stroke="#adadad" stroke-width="1.9"/>
<line x1="71.50" y1="249.65" x2="78.50" y2="249.65" stroke="#adadad" stroke-width="1.4" />
<text x="91.00" y="253.95" font-size="12.1" text-anchor="start" font-weight="normal" fill="#000" >2E3</text>
<line x1="66.40" y1="273.00" x2="83.60" y2="273.00" stroke="#6e6e6e" stroke-width="2.0" />
<polygon points="75.00,268.70 79.30,273.00 75.00,277.30 70.70,273.00" fill="#6e6e6e" stroke="#6e6e6e" stroke-width="2.1"/>
<text x="91.00" y="277.30" font-size="12.1" text-anchor="start" font-weight="normal" fill="#000" >P1C1TM</text>
<line x1="399.60" y1="184.20" x2="399.60" y2="352.40" stroke="#222" stroke-width="1.0" />
<line x1="399.10" y1="352.00" x2="673.90" y2="352.00" stroke="#222" stroke-width="1.0" />
<line x1="397.60" y1="183.90" x2="400.60" y2="183.90" stroke="#222" stroke-width="1.0" />
<text x="392.60" y="188.70" font-size="13.7" text-anchor="end" font-weight="normal" fill="#000" >160</text>
<line x1="397.60" y1="202.55" x2="400.60" y2="202.55" stroke="#222" stroke-width="1.0" />
<text x="392.60" y="207.35" font-size="13.7" text-anchor="end" font-weight="normal" fill="#000" >140</text>
<line x1="397.60" y1="221.20" x2="400.60" y2="221.20" stroke="#222" stroke-width="1.0" />
<text x="392.60" y="226.00" font-size="13.7" text-anchor="end" font-weight="normal" fill="#000" >120</text>
<line x1="397.60" y1="239.85" x2="400.60" y2="239.85" stroke="#222" stroke-width="1.0" />
<text x="392.60" y="244.65" font-size="13.7" text-anchor="end" font-weight="normal" fill="#000" >100</text>
<line x1="397.60" y1="258.50" x2="400.60" y2="258.50" stroke="#222" stroke-width="1.0" />
<text x="392.60" y="263.30" font-size="13.7" text-anchor="end" font-weight="normal" fill="#000" >80</text>
<line x1="397.60" y1="277.15" x2="400.60" y2="277.15" stroke="#222" stroke-width="1.0" />
<text x="392.60" y="281.95" font-size="13.7" text-anchor="end" font-weight="normal" fill="#000" >60</text>
<line x1="397.60" y1="295.80" x2="400.60" y2="295.80" stroke="#222" stroke-width="1.0" />
<text x="392.60" y="300.60" font-size="13.7" text-anchor="end" font-weight="normal" fill="#000" >40</text>
<line x1="397.60" y1="314.45" x2="400.60" y2="314.45" stroke="#222" stroke-width="1.0" />
<text x="392.60" y="319.25" font-size="13.7" text-anchor="end" font-weight="normal" fill="#000" >20</text>
<line x1="397.60" y1="333.10" x2="400.60" y2="333.10" stroke="#222" stroke-width="1.0" />
<text x="392.60" y="337.90" font-size="13.7" text-anchor="end" font-weight="normal" fill="#000" >0</text>
<line x1="399.60" y1="351.00" x2="399.60" y2="354.00" stroke="#222" stroke-width="1.0" />
<line x1="445.30" y1="351.00" x2="445.30" y2="354.00" stroke="#222" stroke-width="1.0" />
<text x="445.30" y="369.60" font-size="13.7" text-anchor="middle" font-weight="normal" fill="#000" >0</text>
<line x1="491.00" y1="351.00" x2="491.00" y2="354.00" stroke="#222" stroke-width="1.0" />
<text x="491.00" y="369.60" font-size="13.7" text-anchor="middle" font-weight="normal" fill="#000" >100</text>
<line x1="536.70" y1="351.00" x2="536.70" y2="354.00" stroke="#222" stroke-width="1.0" />
<text x="536.70" y="369.60" font-size="13.7" text-anchor="middle" font-weight="normal" fill="#000" >200</text>
<line x1="582.40" y1="351.00" x2="582.40" y2="354.00" stroke="#222" stroke-width="1.0" />
<text x="582.40" y="369.60" font-size="13.7" text-anchor="middle" font-weight="normal" fill="#000" >300</text>
<line x1="628.10" y1="351.00" x2="628.10" y2="354.00" stroke="#222" stroke-width="1.0" />
<text x="628.10" y="369.60" font-size="13.7" text-anchor="middle" font-weight="normal" fill="#000" >400</text>
<line x1="673.80" y1="351.00" x2="673.80" y2="354.00" stroke="#222" stroke-width="1.0" />
<text x="673.80" y="369.60" font-size="13.7" text-anchor="middle" font-weight="normal" fill="#000" >500</text>
<text x="357.30" y="259.50" font-size="14.3" text-anchor="middle" font-weight="normal" fill="#000" transform="rotate(-90 357.3 259.5)">Response (RU)</text>
<text x="555.40" y="392.30" font-size="14.3" text-anchor="middle" font-weight="normal" fill="#000" >Time (s)</text>
<text x="582.6" y="201.8" font-size="12"><tspan font-style="italic">R</tspan><tspan font-size="8.3" dy="4.2">max</tspan><tspan dy="-4.2"> = 142.3</tspan></text>
<text x="582.6" y="221.6" font-size="12"><tspan font-style="italic">X</tspan><tspan font-size="9" dx="0.8" dy="-4.6">2</tspan><tspan dx="0.8" dy="4.6"> = 1.06</tspan></text>
<text x="582.6" y="235.9" font-size="12"><tspan font-style="italic">K</tspan><tspan font-size="8.4" dy="4.4">D</tspan><tspan dy="-4.4"> = 4.93 nM</tspan></text>
<line x1="417.88" y1="333.10" x2="445.30" y2="333.10" stroke="#555" stroke-width="0.9" />
<polyline points="445.30,333.10 445.30,333.10 445.65,301.18 446.00,277.09 446.35,258.90 446.71,245.18 447.06,234.82 447.41,227.01 447.76,221.11 448.11,216.65 448.46,213.29 448.82,210.76 449.17,208.84 449.52,207.40 449.87,206.31 450.22,205.48 450.57,204.86 450.92,204.39 451.28,204.04 451.63,203.77 451.98,203.57 452.33,203.42 452.68,203.30 453.03,203.22 453.39,203.15 453.74,203.10 454.09,203.06 454.44,203.04 454.79,203.02 455.14,203.00 455.49,202.99 455.85,202.98 456.20,202.97 456.55,202.97 456.90,202.96 457.25,202.96 457.60,202.96 457.96,202.96 458.31,202.95 458.66,202.95 459.01,202.95 459.01,202.95 460.41,202.95 461.81,202.95 463.21,202.95 464.61,202.95 466.00,202.95 467.40,202.95 468.80,202.95 470.20,202.95 471.60,202.95 473.00,202.95 474.40,202.95 475.80,202.95 477.20,202.95 478.60,202.95 479.99,202.95 481.39,202.95 482.79,202.95 484.19,202.95 485.59,202.95 486.99,202.95 488.39,202.95 489.79,202.95 491.19,202.95 492.59,202.95 493.98,202.95 495.38,202.95 496.78,202.95 498.18,202.95 499.58,202.95 500.98,202.95 502.38,202.95 503.78,202.95 505.18,202.95 506.58,202.95 507.97,202.95 509.37,202.95 510.77,202.95 512.17,202.95 513.57,202.95 514.97,202.95 516.37,202.95 517.77,202.95 519.17,202.95 520.57,202.95 521.96,202.95 523.36,202.95 524.76,202.95 526.16,202.95 527.56,202.95 527.56,202.95 529.30,208.44 531.03,213.61 532.77,218.47 534.50,223.05 536.24,227.38 537.97,231.47 539.71,235.35 541.44,239.02 543.18,242.51 544.91,245.83 546.65,248.98 548.39,251.99 550.12,254.86 551.86,257.60 553.59,260.22 555.33,262.73 557.06,265.13 558.80,267.43 560.53,269.64 562.27,271.75 564.00,273.79 565.74,275.74 567.48,277.63 569.21,279.44 570.95,281.18 572.68,282.86 574.42,284.48 576.15,286.04 577.89,287.54 579.62,288.99 581.36,290.39 583.09,291.75 584.83,293.06 586.57,294.32 588.30,295.54 590.04,296.72 591.77,297.86 593.51,298.96 595.24,300.03 596.98,301.06 598.71,302.06 600.45,303.02 602.18,303.96 603.92,304.86 605.65,305.74 607.39,306.59 609.13,307.41 610.86,308.20 612.60,308.97 614.33,309.72 616.07,310.44 617.80,311.14 619.54,311.82 621.27,312.47 623.01,313.11 624.74,313.72 626.48,314.32 628.22,314.90 629.95,315.46 631.69,316.00 633.42,316.53 635.16,317.04 636.89,317.53 638.63,318.01 640.36,318.47 642.10,318.92 643.83,319.36 645.57,319.78 647.31,320.19 649.04,320.58 650.78,320.97 652.51,321.34 654.25,321.70 655.98,322.05 657.72,322.39 659.45,322.72 661.19,323.04 662.92,323.35 664.66,323.65" fill="none" stroke="#b0a37a" stroke-width="0.9" stroke-linejoin="round" />
<polyline points="445.30,333.10 445.30,333.10 445.65,321.64 446.00,311.26 446.35,301.84 446.71,293.31 447.06,285.58 447.41,278.57 447.76,272.22 448.11,266.47 448.46,261.25 448.82,256.52 449.17,252.24 449.52,248.35 449.87,244.83 450.22,241.64 450.57,238.75 450.92,236.13 451.28,233.76 451.63,231.60 451.98,229.65 452.33,227.88 452.68,226.28 453.03,224.83 453.39,223.51 453.74,222.32 454.09,221.24 454.44,220.26 454.79,219.37 455.14,218.56 455.49,217.83 455.85,217.17 456.20,216.57 456.55,216.03 456.90,215.54 457.25,215.09 457.60,214.69 457.96,214.32 458.31,213.99 458.66,213.69 459.01,213.41 459.01,213.41 460.41,212.56 461.81,211.98 463.21,211.59 464.61,211.33 466.00,211.15 467.40,211.03 468.80,210.94 470.20,210.89 471.60,210.85 473.00,210.83 474.40,210.81 475.80,210.80 477.20,210.79 478.60,210.78 479.99,210.78 481.39,210.78 482.79,210.78 484.19,210.78 485.59,210.78 486.99,210.77 488.39,210.77 489.79,210.77 491.19,210.77 492.59,210.77 493.98,210.77 495.38,210.77 496.78,210.77 498.18,210.77 499.58,210.77 500.98,210.77 502.38,210.77 503.78,210.77 505.18,210.77 506.58,210.77 507.97,210.77 509.37,210.77 510.77,210.77 512.17,210.77 513.57,210.77 514.97,210.77 516.37,210.77 517.77,210.77 519.17,210.77 520.57,210.77 521.96,210.77 523.36,210.77 524.76,210.77 526.16,210.77 527.56,210.77 527.56,210.77 529.30,215.94 531.03,220.79 532.77,225.36 534.50,229.67 536.24,233.73 537.97,237.58 539.71,241.22 541.44,244.67 543.18,247.95 544.91,251.07 546.65,254.04 548.39,256.87 550.12,259.56 551.86,262.14 553.59,264.60 555.33,266.96 557.06,269.21 558.80,271.38 560.53,273.45 562.27,275.44 564.00,277.35 565.74,279.19 567.48,280.96 569.21,282.66 570.95,284.30 572.68,285.88 574.42,287.40 576.15,288.87 577.89,290.28 579.62,291.64 581.36,292.96 583.09,294.23 584.83,295.46 586.57,296.65 588.30,297.80 590.04,298.90 591.77,299.98 593.51,301.01 595.24,302.02 596.98,302.99 598.71,303.92 600.45,304.83 602.18,305.71 603.92,306.56 605.65,307.38 607.39,308.18 609.13,308.95 610.86,309.70 612.60,310.42 614.33,311.12 616.07,311.80 617.80,312.46 619.54,313.09 621.27,313.71 623.01,314.31 624.74,314.89 626.48,315.45 628.22,315.99 629.95,316.52 631.69,317.03 633.42,317.52 635.16,318.00 636.89,318.47 638.63,318.92 640.36,319.35 642.10,319.77 643.83,320.18 645.57,320.58 647.31,320.96 649.04,321.34 650.78,321.70 652.51,322.05 654.25,322.39 655.98,322.72 657.72,323.03 659.45,323.34 661.19,323.64 662.92,323.93 664.66,324.21" fill="none" stroke="#5fae9c" stroke-width="0.9" stroke-linejoin="round" />
<polyline points="445.30,333.10 445.30,333.10 445.65,321.53 446.00,311.04 446.35,301.53 446.71,292.91 447.06,285.10 447.41,278.02 447.76,271.61 448.11,265.79 448.46,260.52 448.82,255.75 449.17,251.42 449.52,247.50 449.87,243.94 450.22,240.72 450.57,237.80 450.92,235.15 451.28,232.75 451.63,230.58 451.98,228.61 452.33,226.82 452.68,225.20 453.03,223.73 453.39,222.40 453.74,221.20 454.09,220.11 454.44,219.12 454.79,218.22 455.14,217.41 455.49,216.67 455.85,216.00 456.20,215.40 456.55,214.85 456.90,214.35 457.25,213.90 457.60,213.49 457.96,213.12 458.31,212.78 458.66,212.48 459.01,212.21 459.01,212.21 460.41,211.34 461.81,210.76 463.21,210.36 464.61,210.10 466.00,209.91 467.40,209.79 468.80,209.71 470.20,209.65 471.60,209.62 473.00,209.59 474.40,209.57 475.80,209.56 477.20,209.55 478.60,209.55 479.99,209.55 481.39,209.54 482.79,209.54 484.19,209.54 485.59,209.54 486.99,209.54 488.39,209.54 489.79,209.54 491.19,209.54 492.59,209.54 493.98,209.54 495.38,209.54 496.78,209.54 498.18,209.54 499.58,209.54 500.98,209.54 502.38,209.54 503.78,209.54 505.18,209.54 506.58,209.54 507.97,209.54 509.37,209.54 510.77,209.54 512.17,209.54 513.57,209.54 514.97,209.54 516.37,209.54 517.77,209.54 519.17,209.54 520.57,209.54 521.96,209.54 523.36,209.54 524.76,209.54 526.16,209.54 527.56,209.54 527.56,209.54 529.30,214.75 531.03,219.66 532.77,224.27 534.50,228.62 536.24,232.73 537.97,236.61 539.71,240.29 541.44,243.78 543.18,247.09 544.91,250.24 546.65,253.24 548.39,256.10 550.12,258.82 551.86,261.42 553.59,263.91 555.33,266.29 557.06,268.57 558.80,270.75 560.53,272.85 562.27,274.86 564.00,276.79 565.74,278.65 567.48,280.43 569.21,282.15 570.95,283.81 572.68,285.40 574.42,286.94 576.15,288.42 577.89,289.85 579.62,291.23 581.36,292.56 583.09,293.84 584.83,295.08 586.57,296.28 588.30,297.44 590.04,298.56 591.77,299.64 593.51,300.69 595.24,301.70 596.98,302.68 598.71,303.63 600.45,304.55 602.18,305.43 603.92,306.29 605.65,307.12 607.39,307.93 609.13,308.71 610.86,309.46 612.60,310.19 614.33,310.90 616.07,311.59 617.80,312.25 619.54,312.89 621.27,313.52 623.01,314.12 624.74,314.70 626.48,315.27 628.22,315.82 629.95,316.35 631.69,316.87 633.42,317.37 635.16,317.85 636.89,318.32 638.63,318.77 640.36,319.21 642.10,319.64 643.83,320.05 645.57,320.45 647.31,320.84 649.04,321.22 650.78,321.58 652.51,321.94 654.25,322.28 655.98,322.61 657.72,322.93 659.45,323.25 661.19,323.55 662.92,323.84 664.66,324.12" fill="none" stroke="#86c9d2" stroke-width="0.9" stroke-linejoin="round" />
<polyline points="445.30,333.10 445.30,333.10 445.65,329.13 446.00,325.30 446.35,321.62 446.71,318.07 447.06,314.65 447.41,311.35 447.76,308.18 448.11,305.12 448.46,302.17 448.82,299.33 449.17,296.60 449.52,293.96 449.87,291.42 450.22,288.97 450.57,286.62 450.92,284.35 451.28,282.16 451.63,280.05 451.98,278.02 452.33,276.06 452.68,274.18 453.03,272.36 453.39,270.61 453.74,268.93 454.09,267.30 454.44,265.74 454.79,264.23 455.14,262.78 455.49,261.38 455.85,260.03 456.20,258.73 456.55,257.48 456.90,256.28 457.25,255.12 457.60,254.00 457.96,252.92 458.31,251.88 458.66,250.88 459.01,249.92 459.01,249.92 460.41,246.42 461.81,243.40 463.21,240.80 464.61,238.56 466.00,236.62 467.40,234.95 468.80,233.52 470.20,232.28 471.60,231.21 473.00,230.29 474.40,229.49 475.80,228.81 477.20,228.22 478.60,227.71 479.99,227.27 481.39,226.89 482.79,226.56 484.19,226.28 485.59,226.04 486.99,225.83 488.39,225.65 489.79,225.49 491.19,225.36 492.59,225.24 493.98,225.14 495.38,225.06 496.78,224.98 498.18,224.92 499.58,224.86 500.98,224.82 502.38,224.77 503.78,224.74 505.18,224.71 506.58,224.68 507.97,224.66 509.37,224.64 510.77,224.62 512.17,224.61 513.57,224.60 514.97,224.59 516.37,224.58 517.77,224.57 519.17,224.56 520.57,224.56 521.96,224.55 523.36,224.55 524.76,224.54 526.16,224.54 527.56,224.54 527.56,224.54 529.30,228.53 531.03,232.34 532.77,235.96 534.50,239.41 536.24,242.71 537.97,245.86 539.71,248.87 541.44,251.75 543.18,254.52 544.91,257.17 546.65,259.71 548.39,262.15 550.12,264.50 551.86,266.75 553.59,268.92 555.33,271.01 557.06,273.02 558.80,274.96 560.53,276.83 562.27,278.63 564.00,280.37 565.74,282.05 567.48,283.67 569.21,285.23 570.95,286.74 572.68,288.20 574.42,289.61 576.15,290.98 577.89,292.30 579.62,293.57 581.36,294.81 583.09,296.00 584.83,297.15 586.57,298.27 588.30,299.35 590.04,300.40 591.77,301.41 593.51,302.40 595.24,303.35 596.98,304.27 598.71,305.16 600.45,306.02 602.18,306.86 603.92,307.67 605.65,308.45 607.39,309.21 609.13,309.95 610.86,310.66 612.60,311.35 614.33,312.02 616.07,312.67 617.80,313.30 619.54,313.90 621.27,314.49 623.01,315.07 624.74,315.62 626.48,316.16 628.22,316.68 629.95,317.18 631.69,317.67 633.42,318.15 635.16,318.60 636.89,319.05 638.63,319.48 640.36,319.90 642.10,320.30 643.83,320.70 645.57,321.08 647.31,321.45 649.04,321.80 650.78,322.15 652.51,322.49 654.25,322.81 655.98,323.13 657.72,323.43 659.45,323.73 661.19,324.02 662.92,324.30 664.66,324.57" fill="none" stroke="#c27ab8" stroke-width="0.9" stroke-linejoin="round" />
<polyline points="445.30,333.10 445.30,333.10 445.65,329.16 446.00,325.37 446.35,321.71 446.71,318.19 447.06,314.80 447.41,311.53 447.76,308.38 448.11,305.34 448.46,302.42 448.82,299.60 449.17,296.89 449.52,294.27 449.87,291.75 450.22,289.33 450.57,286.99 450.92,284.74 451.28,282.57 451.63,280.48 451.98,278.46 452.33,276.52 452.68,274.65 453.03,272.85 453.39,271.11 453.74,269.44 454.09,267.83 454.44,266.28 454.79,264.78 455.14,263.34 455.49,261.96 455.85,260.62 456.20,259.33 456.55,258.09 456.90,256.89 457.25,255.74 457.60,254.63 457.96,253.56 458.31,252.53 458.66,251.54 459.01,250.58 459.01,250.58 460.41,247.11 461.81,244.12 463.21,241.54 464.61,239.31 466.00,237.39 467.40,235.74 468.80,234.31 470.20,233.08 471.60,232.02 473.00,231.11 474.40,230.32 475.80,229.64 477.20,229.05 478.60,228.55 479.99,228.11 481.39,227.74 482.79,227.41 484.19,227.13 485.59,226.89 486.99,226.69 488.39,226.51 489.79,226.35 491.19,226.22 492.59,226.10 493.98,226.01 495.38,225.92 496.78,225.85 498.18,225.78 499.58,225.73 500.98,225.68 502.38,225.64 503.78,225.61 505.18,225.58 506.58,225.55 507.97,225.53 509.37,225.51 510.77,225.49 512.17,225.48 513.57,225.46 514.97,225.45 516.37,225.44 517.77,225.44 519.17,225.43 520.57,225.42 521.96,225.42 523.36,225.41 524.76,225.41 526.16,225.41 527.56,225.40 527.56,225.40 529.30,229.37 531.03,233.14 532.77,236.74 534.50,240.16 536.24,243.43 537.97,246.56 539.71,249.54 541.44,252.40 543.18,255.15 544.91,257.77 546.65,260.30 548.39,262.72 550.12,265.04 551.86,267.28 553.59,269.43 555.33,271.51 557.06,273.50 558.80,275.42 560.53,277.28 562.27,279.07 564.00,280.79 565.74,282.46 567.48,284.06 569.21,285.61 570.95,287.11 572.68,288.56 574.42,289.96 576.15,291.31 577.89,292.62 579.62,293.89 581.36,295.11 583.09,296.30 584.83,297.44 586.57,298.55 588.30,299.62 590.04,300.66 591.77,301.67 593.51,302.64 595.24,303.58 596.98,304.50 598.71,305.38 600.45,306.24 602.18,307.07 603.92,307.87 605.65,308.65 607.39,309.40 609.13,310.13 610.86,310.84 612.60,311.52 614.33,312.19 616.07,312.83 617.80,313.45 619.54,314.06 621.27,314.64 623.01,315.21 624.74,315.76 626.48,316.29 628.22,316.81 629.95,317.31 631.69,317.80 633.42,318.26 635.16,318.72 636.89,319.16 638.63,319.59 640.36,320.00 642.10,320.41 643.83,320.80 645.57,321.17 647.31,321.54 649.04,321.89 650.78,322.24 652.51,322.57 654.25,322.89 655.98,323.21 657.72,323.51 659.45,323.80 661.19,324.09 662.92,324.37 664.66,324.63" fill="none" stroke="#d8a7c8" stroke-width="0.9" stroke-linejoin="round" />
<polyline points="445.30,333.10 445.30,333.10 445.65,331.74 446.00,330.41 446.35,329.10 446.71,327.81 447.06,326.54 447.41,325.29 447.76,324.07 448.11,322.86 448.46,321.68 448.82,320.51 449.17,319.37 449.52,318.24 449.87,317.13 450.22,316.04 450.57,314.97 450.92,313.92 451.28,312.88 451.63,311.87 451.98,310.87 452.33,309.88 452.68,308.92 453.03,307.96 453.39,307.03 453.74,306.11 454.09,305.21 454.44,304.32 454.79,303.44 455.14,302.58 455.49,301.74 455.85,300.91 456.20,300.09 456.55,299.29 456.90,298.50 457.25,297.72 457.60,296.96 457.96,296.21 458.31,295.47 458.66,294.75 459.01,294.03 459.01,294.03 460.41,291.31 461.81,288.77 463.21,286.39 464.61,284.17 466.00,282.09 467.40,280.15 468.80,278.33 470.20,276.63 471.60,275.04 473.00,273.56 474.40,272.17 475.80,270.88 477.20,269.66 478.60,268.53 479.99,267.47 481.39,266.48 482.79,265.55 484.19,264.69 485.59,263.88 486.99,263.12 488.39,262.41 489.79,261.75 491.19,261.14 492.59,260.56 493.98,260.02 495.38,259.51 496.78,259.04 498.18,258.60 499.58,258.19 500.98,257.80 502.38,257.44 503.78,257.10 505.18,256.79 506.58,256.49 507.97,256.22 509.37,255.96 510.77,255.72 512.17,255.50 513.57,255.28 514.97,255.09 516.37,254.90 517.77,254.73 519.17,254.57 520.57,254.42 521.96,254.28 523.36,254.15 524.76,254.03 526.16,253.91 527.56,253.81 527.56,253.81 529.30,256.24 531.03,258.59 532.77,260.88 534.50,263.09 536.24,265.24 537.97,267.32 539.71,269.34 541.44,271.29 543.18,273.19 544.91,275.02 546.65,276.80 548.39,278.53 550.12,280.20 551.86,281.82 553.59,283.40 555.33,284.92 557.06,286.40 558.80,287.83 560.53,289.22 562.27,290.56 564.00,291.87 565.74,293.13 567.48,294.36 569.21,295.54 570.95,296.70 572.68,297.81 574.42,298.89 576.15,299.94 577.89,300.96 579.62,301.94 581.36,302.90 583.09,303.83 584.83,304.72 586.57,305.59 588.30,306.44 590.04,307.25 591.77,308.05 593.51,308.81 595.24,309.56 596.98,310.28 598.71,310.98 600.45,311.66 602.18,312.32 603.92,312.95 605.65,313.57 607.39,314.17 609.13,314.75 610.86,315.31 612.60,315.86 614.33,316.39 616.07,316.90 617.80,317.40 619.54,317.88 621.27,318.34 623.01,318.80 624.74,319.23 626.48,319.66 628.22,320.07 629.95,320.47 631.69,320.86 633.42,321.23 635.16,321.60 636.89,321.95 638.63,322.29 640.36,322.62 642.10,322.94 643.83,323.26 645.57,323.56 647.31,323.85 649.04,324.13 650.78,324.41 652.51,324.68 654.25,324.93 655.98,325.18 657.72,325.43 659.45,325.66 661.19,325.89 662.92,326.11 664.66,326.33" fill="none" stroke="#5a58a8" stroke-width="0.9" stroke-linejoin="round" />
<polyline points="445.30,333.10 445.30,333.10 445.65,332.64 446.00,332.19 446.35,331.74 446.71,331.30 447.06,330.86 447.41,330.43 447.76,330.00 448.11,329.57 448.46,329.15 448.82,328.74 449.17,328.32 449.52,327.91 449.87,327.51 450.22,327.11 450.57,326.71 450.92,326.32 451.28,325.93 451.63,325.55 451.98,325.17 452.33,324.79 452.68,324.42 453.03,324.05 453.39,323.69 453.74,323.32 454.09,322.97 454.44,322.61 454.79,322.26 455.14,321.91 455.49,321.57 455.85,321.23 456.20,320.89 456.55,320.56 456.90,320.23 457.25,319.90 457.60,319.58 457.96,319.26 458.31,318.94 458.66,318.63 459.01,318.32 459.01,318.32 460.41,317.11 461.81,315.96 463.21,314.85 464.61,313.78 466.00,312.76 467.40,311.77 468.80,310.83 470.20,309.92 471.60,309.05 473.00,308.21 474.40,307.41 475.80,306.63 477.20,305.89 478.60,305.18 479.99,304.50 481.39,303.84 482.79,303.21 484.19,302.60 485.59,302.02 486.99,301.46 488.39,300.93 489.79,300.41 491.19,299.92 492.59,299.44 493.98,298.98 495.38,298.55 496.78,298.12 498.18,297.72 499.58,297.33 500.98,296.96 502.38,296.60 503.78,296.26 505.18,295.93 506.58,295.61 507.97,295.31 509.37,295.01 510.77,294.73 512.17,294.46 513.57,294.20 514.97,293.95 516.37,293.71 517.77,293.49 519.17,293.26 520.57,293.05 521.96,292.85 523.36,292.65 524.76,292.47 526.16,292.29 527.56,292.11 527.56,292.11 529.30,293.37 531.03,294.59 532.77,295.77 534.50,296.91 536.24,298.02 537.97,299.10 539.71,300.14 541.44,301.15 543.18,302.13 544.91,303.08 546.65,304.00 548.39,304.89 550.12,305.76 551.86,306.60 553.59,307.41 555.33,308.20 557.06,308.96 558.80,309.70 560.53,310.42 562.27,311.11 564.00,311.79 565.74,312.44 567.48,313.07 569.21,313.69 570.95,314.28 572.68,314.86 574.42,315.42 576.15,315.96 577.89,316.49 579.62,317.00 581.36,317.49 583.09,317.97 584.83,318.43 586.57,318.88 588.30,319.32 590.04,319.74 591.77,320.15 593.51,320.55 595.24,320.93 596.98,321.31 598.71,321.67 600.45,322.02 602.18,322.36 603.92,322.69 605.65,323.01 607.39,323.32 609.13,323.62 610.86,323.91 612.60,324.19 614.33,324.46 616.07,324.73 617.80,324.98 619.54,325.23 621.27,325.47 623.01,325.71 624.74,325.93 626.48,326.15 628.22,326.37 629.95,326.57 631.69,326.77 633.42,326.97 635.16,327.15 636.89,327.34 638.63,327.51 640.36,327.68 642.10,327.85 643.83,328.01 645.57,328.17 647.31,328.32 649.04,328.47 650.78,328.61 652.51,328.75 654.25,328.88 655.98,329.01 657.72,329.13 659.45,329.26 661.19,329.37 662.92,329.49 664.66,329.60" fill="none" stroke="#4f7250" stroke-width="0.9" stroke-linejoin="round" />
<polyline points="445.30,333.10 445.30,333.10 445.65,332.94 446.00,332.79 446.35,332.63 446.71,332.48 447.06,332.33 447.41,332.18 447.76,332.03 448.11,331.88 448.46,331.74 448.82,331.59 449.17,331.45 449.52,331.30 449.87,331.16 450.22,331.02 450.57,330.88 450.92,330.74 451.28,330.60 451.63,330.47 451.98,330.33 452.33,330.20 452.68,330.06 453.03,329.93 453.39,329.80 453.74,329.67 454.09,329.54 454.44,329.41 454.79,329.29 455.14,329.16 455.49,329.03 455.85,328.91 456.20,328.79 456.55,328.66 456.90,328.54 457.25,328.42 457.60,328.30 457.96,328.18 458.31,328.07 458.66,327.95 459.01,327.83 459.01,327.83 460.41,327.38 461.81,326.94 463.21,326.52 464.61,326.11 466.00,325.71 467.40,325.33 468.80,324.95 470.20,324.59 471.60,324.24 473.00,323.90 474.40,323.57 475.80,323.25 477.20,322.94 478.60,322.64 479.99,322.35 481.39,322.06 482.79,321.79 484.19,321.53 485.59,321.27 486.99,321.02 488.39,320.78 489.79,320.55 491.19,320.32 492.59,320.10 493.98,319.89 495.38,319.68 496.78,319.48 498.18,319.29 499.58,319.10 500.98,318.92 502.38,318.74 503.78,318.57 505.18,318.41 506.58,318.25 507.97,318.09 509.37,317.94 510.77,317.80 512.17,317.66 513.57,317.52 514.97,317.39 516.37,317.26 517.77,317.13 519.17,317.01 520.57,316.90 521.96,316.78 523.36,316.67 524.76,316.57 526.16,316.46 527.56,316.36 527.56,316.36 529.30,316.88 531.03,317.37 532.77,317.86 534.50,318.32 536.24,318.78 537.97,319.21 539.71,319.64 541.44,320.05 543.18,320.45 544.91,320.84 546.65,321.22 548.39,321.58 550.12,321.93 551.86,322.28 553.59,322.61 555.33,322.93 557.06,323.24 558.80,323.54 560.53,323.84 562.27,324.12 564.00,324.40 565.74,324.66 567.48,324.92 569.21,325.17 570.95,325.42 572.68,325.65 574.42,325.88 576.15,326.10 577.89,326.32 579.62,326.52 581.36,326.73 583.09,326.92 584.83,327.11 586.57,327.29 588.30,327.47 590.04,327.64 591.77,327.81 593.51,327.97 595.24,328.13 596.98,328.28 598.71,328.43 600.45,328.57 602.18,328.71 603.92,328.85 605.65,328.98 607.39,329.10 609.13,329.23 610.86,329.35 612.60,329.46 614.33,329.57 616.07,329.68 617.80,329.79 619.54,329.89 621.27,329.99 623.01,330.08 624.74,330.17 626.48,330.26 628.22,330.35 629.95,330.43 631.69,330.52 633.42,330.60 635.16,330.67 636.89,330.75 638.63,330.82 640.36,330.89 642.10,330.96 643.83,331.02 645.57,331.09 647.31,331.15 649.04,331.21 650.78,331.27 652.51,331.32 654.25,331.38 655.98,331.43 657.72,331.48 659.45,331.53 661.19,331.58 662.92,331.62 664.66,331.67" fill="none" stroke="#c5606a" stroke-width="0.9" stroke-linejoin="round" />
<polyline points="445.30,333.10 445.30,333.10 445.65,332.95 446.00,332.80 446.35,332.66 446.71,332.51 447.06,332.37 447.41,332.22 447.76,332.08 448.11,331.94 448.46,331.80 448.82,331.66 449.17,331.53 449.52,331.39 449.87,331.25 450.22,331.12 450.57,330.99 450.92,330.85 451.28,330.72 451.63,330.59 451.98,330.46 452.33,330.34 452.68,330.21 453.03,330.08 453.39,329.96 453.74,329.83 454.09,329.71 454.44,329.59 454.79,329.47 455.14,329.35 455.49,329.23 455.85,329.11 456.20,328.99 456.55,328.88 456.90,328.76 457.25,328.64 457.60,328.53 457.96,328.42 458.31,328.31 458.66,328.20 459.01,328.08 459.01,328.08 460.41,327.65 461.81,327.24 463.21,326.83 464.61,326.44 466.00,326.06 467.40,325.70 468.80,325.34 470.20,324.99 471.60,324.66 473.00,324.33 474.40,324.02 475.80,323.72 477.20,323.42 478.60,323.14 479.99,322.86 481.39,322.59 482.79,322.33 484.19,322.08 485.59,321.83 486.99,321.60 488.39,321.37 489.79,321.14 491.19,320.93 492.59,320.72 493.98,320.52 495.38,320.32 496.78,320.13 498.18,319.95 499.58,319.77 500.98,319.60 502.38,319.43 503.78,319.27 505.18,319.11 506.58,318.96 507.97,318.81 509.37,318.66 510.77,318.53 512.17,318.39 513.57,318.26 514.97,318.13 516.37,318.01 517.77,317.89 519.17,317.78 520.57,317.67 521.96,317.56 523.36,317.45 524.76,317.35 526.16,317.25 527.56,317.16 527.56,317.16 529.30,317.65 531.03,318.12 532.77,318.58 534.50,319.03 536.24,319.46 537.97,319.88 539.71,320.28 541.44,320.67 543.18,321.06 544.91,321.42 546.65,321.78 548.39,322.13 550.12,322.47 551.86,322.79 553.59,323.11 555.33,323.41 557.06,323.71 558.80,324.00 560.53,324.28 562.27,324.55 564.00,324.81 565.74,325.07 567.48,325.31 569.21,325.55 570.95,325.78 572.68,326.01 574.42,326.22 576.15,326.43 577.89,326.64 579.62,326.84 581.36,327.03 583.09,327.22 584.83,327.40 586.57,327.57 588.30,327.74 590.04,327.90 591.77,328.06 593.51,328.22 595.24,328.37 596.98,328.51 598.71,328.65 600.45,328.79 602.18,328.92 603.92,329.05 605.65,329.17 607.39,329.29 609.13,329.41 610.86,329.52 612.60,329.63 614.33,329.74 616.07,329.84 617.80,329.94 619.54,330.04 621.27,330.13 623.01,330.22 624.74,330.31 626.48,330.40 628.22,330.48 629.95,330.56 631.69,330.64 633.42,330.71 635.16,330.79 636.89,330.86 638.63,330.93 640.36,330.99 642.10,331.06 643.83,331.12 645.57,331.18 647.31,331.24 649.04,331.30 650.78,331.35 652.51,331.41 654.25,331.46 655.98,331.51 657.72,331.56 659.45,331.60 661.19,331.65 662.92,331.70 664.66,331.74" fill="none" stroke="#d49a9a" stroke-width="0.9" stroke-linejoin="round" />
<polyline points="445.30,333.10 445.30,333.10 445.65,301.34 446.00,277.37 446.35,259.27 446.71,245.62 447.06,235.31 447.41,227.53 447.76,221.66 448.11,217.23 448.46,213.89 448.82,211.36 449.17,209.46 449.52,208.02 449.87,206.94 450.22,206.12 450.57,205.50 450.92,205.03 451.28,204.68 451.63,204.42 451.98,204.21 452.33,204.06 452.68,203.95 453.03,203.86 453.39,203.80 453.74,203.75 454.09,203.71 454.44,203.68 454.79,203.66 455.14,203.65 455.49,203.63 455.85,203.63 456.20,203.62 456.55,203.61 456.90,203.61 457.25,203.61 457.60,203.60 457.96,203.60 458.31,203.60 458.66,203.60 459.01,203.60 459.01,203.60 460.41,203.60 461.81,203.60 463.21,203.60 464.61,203.60 466.00,203.60 467.40,203.60 468.80,203.60 470.20,203.60 471.60,203.60 473.00,203.60 474.40,203.60 475.80,203.60 477.20,203.60 478.60,203.60 479.99,203.60 481.39,203.60 482.79,203.60 484.19,203.60 485.59,203.60 486.99,203.60 488.39,203.60 489.79,203.60 491.19,203.60 492.59,203.60 493.98,203.60 495.38,203.60 496.78,203.60 498.18,203.60 499.58,203.60 500.98,203.60 502.38,203.60 503.78,203.60 505.18,203.60 506.58,203.60 507.97,203.60 509.37,203.60 510.77,203.60 512.17,203.60 513.57,203.60 514.97,203.60 516.37,203.60 517.77,203.60 519.17,203.60 520.57,203.60 521.96,203.60 523.36,203.60 524.76,203.60 526.16,203.60 527.56,203.60 527.56,203.60 529.30,209.06 531.03,214.20 532.77,219.04 534.50,223.60 536.24,227.90 537.97,231.98 539.71,235.83 541.44,239.49 543.18,242.96 544.91,246.26 546.65,249.40 548.39,252.39 550.12,255.25 551.86,257.98 553.59,260.58 555.33,263.08 557.06,265.47 558.80,267.76 560.53,269.95 562.27,272.06 564.00,274.08 565.74,276.03 567.48,277.90 569.21,279.70 570.95,281.44 572.68,283.11 574.42,284.72 576.15,286.27 577.89,287.77 579.62,289.21 581.36,290.61 583.09,291.95 584.83,293.25 586.57,294.51 588.30,295.73 590.04,296.90 591.77,298.03 593.51,299.13 595.24,300.19 596.98,301.22 598.71,302.21 600.45,303.17 602.18,304.10 603.92,305.00 605.65,305.87 607.39,306.72 609.13,307.53 610.86,308.33 612.60,309.09 614.33,309.83 616.07,310.55 617.80,311.25 619.54,311.92 621.27,312.57 623.01,313.21 624.74,313.82 626.48,314.41 628.22,314.99 629.95,315.55 631.69,316.09 633.42,316.61 635.16,317.12 636.89,317.61 638.63,318.08 640.36,318.54 642.10,318.99 643.83,319.43 645.57,319.85 647.31,320.25 649.04,320.65 650.78,321.03 652.51,321.40 654.25,321.76 655.98,322.11 657.72,322.44 659.45,322.77 661.19,323.09 662.92,323.40 664.66,323.69" fill="none" stroke="#2a2a2a" stroke-width="0.55" stroke-linejoin="round" stroke-opacity="0.75"/>
<polyline points="445.30,333.10 445.30,333.10 445.65,321.53 446.00,311.04 446.35,301.53 446.71,292.91 447.06,285.10 447.41,278.02 447.76,271.61 448.11,265.79 448.46,260.52 448.82,255.75 449.17,251.42 449.52,247.50 449.87,243.94 450.22,240.72 450.57,237.80 450.92,235.15 451.28,232.75 451.63,230.58 451.98,228.61 452.33,226.82 452.68,225.20 453.03,223.73 453.39,222.40 453.74,221.20 454.09,220.11 454.44,219.12 454.79,218.22 455.14,217.41 455.49,216.67 455.85,216.00 456.20,215.40 456.55,214.85 456.90,214.35 457.25,213.90 457.60,213.49 457.96,213.12 458.31,212.78 458.66,212.48 459.01,212.21 459.01,212.21 460.41,211.34 461.81,210.76 463.21,210.36 464.61,210.10 466.00,209.91 467.40,209.79 468.80,209.71 470.20,209.65 471.60,209.62 473.00,209.59 474.40,209.57 475.80,209.56 477.20,209.55 478.60,209.55 479.99,209.55 481.39,209.54 482.79,209.54 484.19,209.54 485.59,209.54 486.99,209.54 488.39,209.54 489.79,209.54 491.19,209.54 492.59,209.54 493.98,209.54 495.38,209.54 496.78,209.54 498.18,209.54 499.58,209.54 500.98,209.54 502.38,209.54 503.78,209.54 505.18,209.54 506.58,209.54 507.97,209.54 509.37,209.54 510.77,209.54 512.17,209.54 513.57,209.54 514.97,209.54 516.37,209.54 517.77,209.54 519.17,209.54 520.57,209.54 521.96,209.54 523.36,209.54 524.76,209.54 526.16,209.54 527.56,209.54 527.56,209.54 529.30,214.75 531.03,219.66 532.77,224.27 534.50,228.62 536.24,232.73 537.97,236.61 539.71,240.29 541.44,243.78 543.18,247.09 544.91,250.24 546.65,253.24 548.39,256.10 550.12,258.82 551.86,261.42 553.59,263.91 555.33,266.29 557.06,268.57 558.80,270.75 560.53,272.85 562.27,274.86 564.00,276.79 565.74,278.65 567.48,280.43 569.21,282.15 570.95,283.81 572.68,285.40 574.42,286.94 576.15,288.42 577.89,289.85 579.62,291.23 581.36,292.56 583.09,293.84 584.83,295.08 586.57,296.28 588.30,297.44 590.04,298.56 591.77,299.64 593.51,300.69 595.24,301.70 596.98,302.68 598.71,303.63 600.45,304.55 602.18,305.43 603.92,306.29 605.65,307.12 607.39,307.93 609.13,308.71 610.86,309.46 612.60,310.19 614.33,310.90 616.07,311.59 617.80,312.25 619.54,312.89 621.27,313.52 623.01,314.12 624.74,314.70 626.48,315.27 628.22,315.82 629.95,316.35 631.69,316.87 633.42,317.37 635.16,317.85 636.89,318.32 638.63,318.77 640.36,319.21 642.10,319.64 643.83,320.05 645.57,320.45 647.31,320.84 649.04,321.22 650.78,321.58 652.51,321.94 654.25,322.28 655.98,322.61 657.72,322.93 659.45,323.25 661.19,323.55 662.92,323.84 664.66,324.12" fill="none" stroke="#2a2a2a" stroke-width="0.55" stroke-linejoin="round" stroke-opacity="0.75"/>
<polyline points="445.30,333.10 445.30,333.10 445.65,321.53 446.00,311.04 446.35,301.53 446.71,292.91 447.06,285.10 447.41,278.02 447.76,271.61 448.11,265.79 448.46,260.52 448.82,255.75 449.17,251.42 449.52,247.50 449.87,243.94 450.22,240.72 450.57,237.80 450.92,235.15 451.28,232.75 451.63,230.58 451.98,228.61 452.33,226.82 452.68,225.20 453.03,223.73 453.39,222.40 453.74,221.20 454.09,220.11 454.44,219.12 454.79,218.22 455.14,217.41 455.49,216.67 455.85,216.00 456.20,215.40 456.55,214.85 456.90,214.35 457.25,213.90 457.60,213.49 457.96,213.12 458.31,212.78 458.66,212.48 459.01,212.21 459.01,212.21 460.41,211.34 461.81,210.76 463.21,210.36 464.61,210.10 466.00,209.91 467.40,209.79 468.80,209.71 470.20,209.65 471.60,209.62 473.00,209.59 474.40,209.57 475.80,209.56 477.20,209.55 478.60,209.55 479.99,209.55 481.39,209.54 482.79,209.54 484.19,209.54 485.59,209.54 486.99,209.54 488.39,209.54 489.79,209.54 491.19,209.54 492.59,209.54 493.98,209.54 495.38,209.54 496.78,209.54 498.18,209.54 499.58,209.54 500.98,209.54 502.38,209.54 503.78,209.54 505.18,209.54 506.58,209.54 507.97,209.54 509.37,209.54 510.77,209.54 512.17,209.54 513.57,209.54 514.97,209.54 516.37,209.54 517.77,209.54 519.17,209.54 520.57,209.54 521.96,209.54 523.36,209.54 524.76,209.54 526.16,209.54 527.56,209.54 527.56,209.54 529.30,214.75 531.03,219.66 532.77,224.27 534.50,228.62 536.24,232.73 537.97,236.61 539.71,240.29 541.44,243.78 543.18,247.09 544.91,250.24 546.65,253.24 548.39,256.10 550.12,258.82 551.86,261.42 553.59,263.91 555.33,266.29 557.06,268.57 558.80,270.75 560.53,272.85 562.27,274.86 564.00,276.79 565.74,278.65 567.48,280.43 569.21,282.15 570.95,283.81 572.68,285.40 574.42,286.94 576.15,288.42 577.89,289.85 579.62,291.23 581.36,292.56 583.09,293.84 584.83,295.08 586.57,296.28 588.30,297.44 590.04,298.56 591.77,299.64 593.51,300.69 595.24,301.70 596.98,302.68 598.71,303.63 600.45,304.55 602.18,305.43 603.92,306.29 605.65,307.12 607.39,307.93 609.13,308.71 610.86,309.46 612.60,310.19 614.33,310.90 616.07,311.59 617.80,312.25 619.54,312.89 621.27,313.52 623.01,314.12 624.74,314.70 626.48,315.27 628.22,315.82 629.95,316.35 631.69,316.87 633.42,317.37 635.16,317.85 636.89,318.32 638.63,318.77 640.36,319.21 642.10,319.64 643.83,320.05 645.57,320.45 647.31,320.84 649.04,321.22 650.78,321.58 652.51,321.94 654.25,322.28 655.98,322.61 657.72,322.93 659.45,323.25 661.19,323.55 662.92,323.84 664.66,324.12" fill="none" stroke="#2a2a2a" stroke-width="0.55" stroke-linejoin="round" stroke-opacity="0.75"/>
<polyline points="445.30,333.10 445.30,333.10 445.65,329.13 446.00,325.30 446.35,321.62 446.71,318.07 447.06,314.65 447.41,311.35 447.76,308.18 448.11,305.12 448.46,302.17 448.82,299.33 449.17,296.60 449.52,293.96 449.87,291.42 450.22,288.97 450.57,286.62 450.92,284.35 451.28,282.16 451.63,280.05 451.98,278.02 452.33,276.06 452.68,274.18 453.03,272.36 453.39,270.61 453.74,268.93 454.09,267.30 454.44,265.74 454.79,264.23 455.14,262.78 455.49,261.38 455.85,260.03 456.20,258.73 456.55,257.48 456.90,256.28 457.25,255.12 457.60,254.00 457.96,252.92 458.31,251.88 458.66,250.88 459.01,249.92 459.01,249.92 460.41,246.42 461.81,243.40 463.21,240.80 464.61,238.56 466.00,236.62 467.40,234.95 468.80,233.52 470.20,232.28 471.60,231.21 473.00,230.29 474.40,229.49 475.80,228.81 477.20,228.22 478.60,227.71 479.99,227.27 481.39,226.89 482.79,226.56 484.19,226.28 485.59,226.04 486.99,225.83 488.39,225.65 489.79,225.49 491.19,225.36 492.59,225.24 493.98,225.14 495.38,225.06 496.78,224.98 498.18,224.92 499.58,224.86 500.98,224.82 502.38,224.77 503.78,224.74 505.18,224.71 506.58,224.68 507.97,224.66 509.37,224.64 510.77,224.62 512.17,224.61 513.57,224.60 514.97,224.59 516.37,224.58 517.77,224.57 519.17,224.56 520.57,224.56 521.96,224.55 523.36,224.55 524.76,224.54 526.16,224.54 527.56,224.54 527.56,224.54 529.30,228.53 531.03,232.34 532.77,235.96 534.50,239.41 536.24,242.71 537.97,245.86 539.71,248.87 541.44,251.75 543.18,254.52 544.91,257.17 546.65,259.71 548.39,262.15 550.12,264.50 551.86,266.75 553.59,268.92 555.33,271.01 557.06,273.02 558.80,274.96 560.53,276.83 562.27,278.63 564.00,280.37 565.74,282.05 567.48,283.67 569.21,285.23 570.95,286.74 572.68,288.20 574.42,289.61 576.15,290.98 577.89,292.30 579.62,293.57 581.36,294.81 583.09,296.00 584.83,297.15 586.57,298.27 588.30,299.35 590.04,300.40 591.77,301.41 593.51,302.40 595.24,303.35 596.98,304.27 598.71,305.16 600.45,306.02 602.18,306.86 603.92,307.67 605.65,308.45 607.39,309.21 609.13,309.95 610.86,310.66 612.60,311.35 614.33,312.02 616.07,312.67 617.80,313.30 619.54,313.90 621.27,314.49 623.01,315.07 624.74,315.62 626.48,316.16 628.22,316.68 629.95,317.18 631.69,317.67 633.42,318.15 635.16,318.60 636.89,319.05 638.63,319.48 640.36,319.90 642.10,320.30 643.83,320.70 645.57,321.08 647.31,321.45 649.04,321.80 650.78,322.15 652.51,322.49 654.25,322.81 655.98,323.13 657.72,323.43 659.45,323.73 661.19,324.02 662.92,324.30 664.66,324.57" fill="none" stroke="#2a2a2a" stroke-width="0.55" stroke-linejoin="round" stroke-opacity="0.75"/>
<polyline points="445.30,333.10 445.30,333.10 445.65,329.13 446.00,325.30 446.35,321.62 446.71,318.07 447.06,314.65 447.41,311.35 447.76,308.18 448.11,305.12 448.46,302.17 448.82,299.33 449.17,296.60 449.52,293.96 449.87,291.42 450.22,288.97 450.57,286.62 450.92,284.35 451.28,282.16 451.63,280.05 451.98,278.02 452.33,276.06 452.68,274.18 453.03,272.36 453.39,270.61 453.74,268.93 454.09,267.30 454.44,265.74 454.79,264.23 455.14,262.78 455.49,261.38 455.85,260.03 456.20,258.73 456.55,257.48 456.90,256.28 457.25,255.12 457.60,254.00 457.96,252.92 458.31,251.88 458.66,250.88 459.01,249.92 459.01,249.92 460.41,246.42 461.81,243.40 463.21,240.80 464.61,238.56 466.00,236.62 467.40,234.95 468.80,233.52 470.20,232.28 471.60,231.21 473.00,230.29 474.40,229.49 475.80,228.81 477.20,228.22 478.60,227.71 479.99,227.27 481.39,226.89 482.79,226.56 484.19,226.28 485.59,226.04 486.99,225.83 488.39,225.65 489.79,225.49 491.19,225.36 492.59,225.24 493.98,225.14 495.38,225.06 496.78,224.98 498.18,224.92 499.58,224.86 500.98,224.82 502.38,224.77 503.78,224.74 505.18,224.71 506.58,224.68 507.97,224.66 509.37,224.64 510.77,224.62 512.17,224.61 513.57,224.60 514.97,224.59 516.37,224.58 517.77,224.57 519.17,224.56 520.57,224.56 521.96,224.55 523.36,224.55 524.76,224.54 526.16,224.54 527.56,224.54 527.56,224.54 529.30,228.53 531.03,232.34 532.77,235.96 534.50,239.41 536.24,242.71 537.97,245.86 539.71,248.87 541.44,251.75 543.18,254.52 544.91,257.17 546.65,259.71 548.39,262.15 550.12,264.50 551.86,266.75 553.59,268.92 555.33,271.01 557.06,273.02 558.80,274.96 560.53,276.83 562.27,278.63 564.00,280.37 565.74,282.05 567.48,283.67 569.21,285.23 570.95,286.74 572.68,288.20 574.42,289.61 576.15,290.98 577.89,292.30 579.62,293.57 581.36,294.81 583.09,296.00 584.83,297.15 586.57,298.27 588.30,299.35 590.04,300.40 591.77,301.41 593.51,302.40 595.24,303.35 596.98,304.27 598.71,305.16 600.45,306.02 602.18,306.86 603.92,307.67 605.65,308.45 607.39,309.21 609.13,309.95 610.86,310.66 612.60,311.35 614.33,312.02 616.07,312.67 617.80,313.30 619.54,313.90 621.27,314.49 623.01,315.07 624.74,315.62 626.48,316.16 628.22,316.68 629.95,317.18 631.69,317.67 633.42,318.15 635.16,318.60 636.89,319.05 638.63,319.48 640.36,319.90 642.10,320.30 643.83,320.70 645.57,321.08 647.31,321.45 649.04,321.80 650.78,322.15 652.51,322.49 654.25,322.81 655.98,323.13 657.72,323.43 659.45,323.73 661.19,324.02 662.92,324.30 664.66,324.57" fill="none" stroke="#2a2a2a" stroke-width="0.55" stroke-linejoin="round" stroke-opacity="0.75"/>
<polyline points="445.30,333.10 445.30,333.10 445.65,331.76 446.00,330.45 446.35,329.16 446.71,327.89 447.06,326.64 447.41,325.41 447.76,324.20 448.11,323.01 448.46,321.84 448.82,320.70 449.17,319.57 449.52,318.46 449.87,317.37 450.22,316.29 450.57,315.24 450.92,314.20 451.28,313.18 451.63,312.18 451.98,311.19 452.33,310.23 452.68,309.27 453.03,308.34 453.39,307.41 453.74,306.51 454.09,305.62 454.44,304.74 454.79,303.88 455.14,303.04 455.49,302.20 455.85,301.38 456.20,300.58 456.55,299.79 456.90,299.01 457.25,298.25 457.60,297.50 457.96,296.76 458.31,296.03 458.66,295.31 459.01,294.61 459.01,294.61 460.41,291.93 461.81,289.42 463.21,287.08 464.61,284.89 466.00,282.84 467.40,280.93 468.80,279.14 470.20,277.47 471.60,275.90 473.00,274.44 474.40,273.07 475.80,271.80 477.20,270.60 478.60,269.48 479.99,268.44 481.39,267.46 482.79,266.55 484.19,265.70 485.59,264.90 486.99,264.16 488.39,263.46 489.79,262.81 491.19,262.20 492.59,261.63 493.98,261.10 495.38,260.60 496.78,260.13 498.18,259.70 499.58,259.29 500.98,258.91 502.38,258.56 503.78,258.23 505.18,257.92 506.58,257.63 507.97,257.35 509.37,257.10 510.77,256.86 512.17,256.64 513.57,256.43 514.97,256.24 516.37,256.06 517.77,255.89 519.17,255.73 520.57,255.58 521.96,255.45 523.36,255.32 524.76,255.20 526.16,255.08 527.56,254.98 527.56,254.98 529.30,257.37 531.03,259.69 532.77,261.94 534.50,264.13 536.24,266.24 537.97,268.29 539.71,270.28 541.44,272.20 543.18,274.07 544.91,275.88 546.65,277.64 548.39,279.34 550.12,280.98 551.86,282.58 553.59,284.13 555.33,285.63 557.06,287.09 558.80,288.50 560.53,289.87 562.27,291.19 564.00,292.48 565.74,293.72 567.48,294.93 569.21,296.10 570.95,297.23 572.68,298.33 574.42,299.40 576.15,300.43 577.89,301.43 579.62,302.40 581.36,303.35 583.09,304.26 584.83,305.14 586.57,306.00 588.30,306.83 590.04,307.64 591.77,308.42 593.51,309.17 595.24,309.91 596.98,310.62 598.71,311.31 600.45,311.98 602.18,312.62 603.92,313.25 605.65,313.86 607.39,314.45 609.13,315.02 610.86,315.58 612.60,316.11 614.33,316.63 616.07,317.14 617.80,317.63 619.54,318.10 621.27,318.56 623.01,319.01 624.74,319.44 626.48,319.86 628.22,320.26 629.95,320.66 631.69,321.04 633.42,321.41 635.16,321.77 636.89,322.12 638.63,322.45 640.36,322.78 642.10,323.09 643.83,323.40 645.57,323.70 647.31,323.99 649.04,324.27 650.78,324.54 652.51,324.80 654.25,325.05 655.98,325.30 657.72,325.54 659.45,325.77 661.19,326.00 662.92,326.21 664.66,326.43" fill="none" stroke="#2a2a2a" stroke-width="0.55" stroke-linejoin="round" stroke-opacity="0.75"/>
<polyline points="445.30,333.10 445.30,333.10 445.65,332.65 446.00,332.21 446.35,331.77 446.71,331.34 447.06,330.91 447.41,330.48 447.76,330.06 448.11,329.64 448.46,329.23 448.82,328.82 449.17,328.42 449.52,328.02 449.87,327.62 450.22,327.23 450.57,326.84 450.92,326.45 451.28,326.07 451.63,325.70 451.98,325.32 452.33,324.95 452.68,324.59 453.03,324.23 453.39,323.87 453.74,323.52 454.09,323.16 454.44,322.82 454.79,322.47 455.14,322.13 455.49,321.80 455.85,321.46 456.20,321.13 456.55,320.81 456.90,320.48 457.25,320.16 457.60,319.85 457.96,319.53 458.31,319.22 458.66,318.91 459.01,318.61 459.01,318.61 460.41,317.43 461.81,316.29 463.21,315.20 464.61,314.16 466.00,313.15 467.40,312.19 468.80,311.26 470.20,310.37 471.60,309.52 473.00,308.70 474.40,307.91 475.80,307.15 477.20,306.43 478.60,305.73 479.99,305.06 481.39,304.41 482.79,303.79 484.19,303.20 485.59,302.63 486.99,302.08 488.39,301.56 489.79,301.05 491.19,300.57 492.59,300.10 493.98,299.65 495.38,299.22 496.78,298.81 498.18,298.41 499.58,298.03 500.98,297.67 502.38,297.32 503.78,296.98 505.18,296.66 506.58,296.34 507.97,296.05 509.37,295.76 510.77,295.48 512.17,295.22 513.57,294.97 514.97,294.72 516.37,294.49 517.77,294.26 519.17,294.05 520.57,293.84 521.96,293.64 523.36,293.45 524.76,293.26 526.16,293.09 527.56,292.92 527.56,292.92 529.30,294.15 531.03,295.34 532.77,296.50 534.50,297.62 536.24,298.71 537.97,299.77 539.71,300.79 541.44,301.78 543.18,302.74 544.91,303.67 546.65,304.57 548.39,305.45 550.12,306.29 551.86,307.12 553.59,307.91 555.33,308.68 557.06,309.43 558.80,310.16 560.53,310.86 562.27,311.54 564.00,312.21 565.74,312.85 567.48,313.47 569.21,314.07 570.95,314.65 572.68,315.22 574.42,315.77 576.15,316.30 577.89,316.81 579.62,317.31 581.36,317.80 583.09,318.27 584.83,318.72 586.57,319.16 588.30,319.59 590.04,320.00 591.77,320.40 593.51,320.79 595.24,321.17 596.98,321.54 598.71,321.89 600.45,322.23 602.18,322.57 603.92,322.89 605.65,323.20 607.39,323.51 609.13,323.80 610.86,324.09 612.60,324.36 614.33,324.63 616.07,324.89 617.80,325.14 619.54,325.39 621.27,325.62 623.01,325.85 624.74,326.07 626.48,326.29 628.22,326.50 629.95,326.70 631.69,326.90 633.42,327.09 635.16,327.27 636.89,327.45 638.63,327.62 640.36,327.79 642.10,327.95 643.83,328.11 645.57,328.26 647.31,328.41 649.04,328.56 650.78,328.70 652.51,328.83 654.25,328.96 655.98,329.09 657.72,329.21 659.45,329.33 661.19,329.45 662.92,329.56 664.66,329.67" fill="none" stroke="#2a2a2a" stroke-width="0.55" stroke-linejoin="round" stroke-opacity="0.75"/>
<polyline points="445.30,333.10 445.30,333.10 445.65,332.95 446.00,332.80 446.35,332.66 446.71,332.51 447.06,332.37 447.41,332.22 447.76,332.08 448.11,331.94 448.46,331.80 448.82,331.66 449.17,331.53 449.52,331.39 449.87,331.25 450.22,331.12 450.57,330.99 450.92,330.85 451.28,330.72 451.63,330.59 451.98,330.46 452.33,330.34 452.68,330.21 453.03,330.08 453.39,329.96 453.74,329.83 454.09,329.71 454.44,329.59 454.79,329.47 455.14,329.35 455.49,329.23 455.85,329.11 456.20,328.99 456.55,328.88 456.90,328.76 457.25,328.64 457.60,328.53 457.96,328.42 458.31,328.31 458.66,328.20 459.01,328.08 459.01,328.08 460.41,327.65 461.81,327.24 463.21,326.83 464.61,326.44 466.00,326.06 467.40,325.70 468.80,325.34 470.20,324.99 471.60,324.66 473.00,324.33 474.40,324.02 475.80,323.72 477.20,323.42 478.60,323.14 479.99,322.86 481.39,322.59 482.79,322.33 484.19,322.08 485.59,321.83 486.99,321.60 488.39,321.37 489.79,321.14 491.19,320.93 492.59,320.72 493.98,320.52 495.38,320.32 496.78,320.13 498.18,319.95 499.58,319.77 500.98,319.60 502.38,319.43 503.78,319.27 505.18,319.11 506.58,318.96 507.97,318.81 509.37,318.66 510.77,318.53 512.17,318.39 513.57,318.26 514.97,318.13 516.37,318.01 517.77,317.89 519.17,317.78 520.57,317.67 521.96,317.56 523.36,317.45 524.76,317.35 526.16,317.25 527.56,317.16 527.56,317.16 529.30,317.65 531.03,318.12 532.77,318.58 534.50,319.03 536.24,319.46 537.97,319.88 539.71,320.28 541.44,320.67 543.18,321.06 544.91,321.42 546.65,321.78 548.39,322.13 550.12,322.47 551.86,322.79 553.59,323.11 555.33,323.41 557.06,323.71 558.80,324.00 560.53,324.28 562.27,324.55 564.00,324.81 565.74,325.07 567.48,325.31 569.21,325.55 570.95,325.78 572.68,326.01 574.42,326.22 576.15,326.43 577.89,326.64 579.62,326.84 581.36,327.03 583.09,327.22 584.83,327.40 586.57,327.57 588.30,327.74 590.04,327.90 591.77,328.06 593.51,328.22 595.24,328.37 596.98,328.51 598.71,328.65 600.45,328.79 602.18,328.92 603.92,329.05 605.65,329.17 607.39,329.29 609.13,329.41 610.86,329.52 612.60,329.63 614.33,329.74 616.07,329.84 617.80,329.94 619.54,330.04 621.27,330.13 623.01,330.22 624.74,330.31 626.48,330.40 628.22,330.48 629.95,330.56 631.69,330.64 633.42,330.71 635.16,330.79 636.89,330.86 638.63,330.93 640.36,330.99 642.10,331.06 643.83,331.12 645.57,331.18 647.31,331.24 649.04,331.30 650.78,331.35 652.51,331.41 654.25,331.46 655.98,331.51 657.72,331.56 659.45,331.60 661.19,331.65 662.92,331.70 664.66,331.74" fill="none" stroke="#2a2a2a" stroke-width="0.55" stroke-linejoin="round" stroke-opacity="0.75"/>
<polyline points="445.30,333.10 445.30,333.10 445.65,332.95 446.00,332.80 446.35,332.66 446.71,332.51 447.06,332.37 447.41,332.22 447.76,332.08 448.11,331.94 448.46,331.80 448.82,331.66 449.17,331.53 449.52,331.39 449.87,331.25 450.22,331.12 450.57,330.99 450.92,330.85 451.28,330.72 451.63,330.59 451.98,330.46 452.33,330.34 452.68,330.21 453.03,330.08 453.39,329.96 453.74,329.83 454.09,329.71 454.44,329.59 454.79,329.47 455.14,329.35 455.49,329.23 455.85,329.11 456.20,328.99 456.55,328.88 456.90,328.76 457.25,328.64 457.60,328.53 457.96,328.42 458.31,328.31 458.66,328.20 459.01,328.08 459.01,328.08 460.41,327.65 461.81,327.24 463.21,326.83 464.61,326.44 466.00,326.06 467.40,325.70 468.80,325.34 470.20,324.99 471.60,324.66 473.00,324.33 474.40,324.02 475.80,323.72 477.20,323.42 478.60,323.14 479.99,322.86 481.39,322.59 482.79,322.33 484.19,322.08 485.59,321.83 486.99,321.60 488.39,321.37 489.79,321.14 491.19,320.93 492.59,320.72 493.98,320.52 495.38,320.32 496.78,320.13 498.18,319.95 499.58,319.77 500.98,319.60 502.38,319.43 503.78,319.27 505.18,319.11 506.58,318.96 507.97,318.81 509.37,318.66 510.77,318.53 512.17,318.39 513.57,318.26 514.97,318.13 516.37,318.01 517.77,317.89 519.17,317.78 520.57,317.67 521.96,317.56 523.36,317.45 524.76,317.35 526.16,317.25 527.56,317.16 527.56,317.16 529.30,317.65 531.03,318.12 532.77,318.58 534.50,319.03 536.24,319.46 537.97,319.88 539.71,320.28 541.44,320.67 543.18,321.06 544.91,321.42 546.65,321.78 548.39,322.13 550.12,322.47 551.86,322.79 553.59,323.11 555.33,323.41 557.06,323.71 558.80,324.00 560.53,324.28 562.27,324.55 564.00,324.81 565.74,325.07 567.48,325.31 569.21,325.55 570.95,325.78 572.68,326.01 574.42,326.22 576.15,326.43 577.89,326.64 579.62,326.84 581.36,327.03 583.09,327.22 584.83,327.40 586.57,327.57 588.30,327.74 590.04,327.90 591.77,328.06 593.51,328.22 595.24,328.37 596.98,328.51 598.71,328.65 600.45,328.79 602.18,328.92 603.92,329.05 605.65,329.17 607.39,329.29 609.13,329.41 610.86,329.52 612.60,329.63 614.33,329.74 616.07,329.84 617.80,329.94 619.54,330.04 621.27,330.13 623.01,330.22 624.74,330.31 626.48,330.40 628.22,330.48 629.95,330.56 631.69,330.64 633.42,330.71 635.16,330.79 636.89,330.86 638.63,330.93 640.36,330.99 642.10,331.06 643.83,331.12 645.57,331.18 647.31,331.24 649.04,331.30 650.78,331.35 652.51,331.41 654.25,331.46 655.98,331.51 657.72,331.56 659.45,331.60 661.19,331.65 662.92,331.70 664.66,331.74" fill="none" stroke="#2a2a2a" stroke-width="0.55" stroke-linejoin="round" stroke-opacity="0.75"/>
<rect x="55.50" y="431.40" width="260.90" height="176.20" fill="none" stroke="#333" stroke-width="1.1"/>
<line x1="49.30" y1="607.40" x2="55.50" y2="607.40" stroke="#333" stroke-width="1.1" />
<text x="43.40" y="611.30" font-size="14.1" text-anchor="end" font-weight="normal" fill="#000" >0</text>
<line x1="52.50" y1="598.99" x2="55.50" y2="598.99" stroke="#333" stroke-width="1.0" />
<line x1="52.50" y1="590.58" x2="55.50" y2="590.58" stroke="#333" stroke-width="1.0" />
<line x1="52.50" y1="582.17" x2="55.50" y2="582.17" stroke="#333" stroke-width="1.0" />
<line x1="49.30" y1="573.76" x2="55.50" y2="573.76" stroke="#333" stroke-width="1.1" />
<text x="43.40" y="577.66" font-size="14.1" text-anchor="end" font-weight="normal" fill="#000" >20</text>
<line x1="52.50" y1="565.35" x2="55.50" y2="565.35" stroke="#333" stroke-width="1.0" />
<line x1="52.50" y1="556.94" x2="55.50" y2="556.94" stroke="#333" stroke-width="1.0" />
<line x1="52.50" y1="548.53" x2="55.50" y2="548.53" stroke="#333" stroke-width="1.0" />
<line x1="49.30" y1="540.12" x2="55.50" y2="540.12" stroke="#333" stroke-width="1.1" />
<text x="43.40" y="544.02" font-size="14.1" text-anchor="end" font-weight="normal" fill="#000" >40</text>
<line x1="52.50" y1="531.71" x2="55.50" y2="531.71" stroke="#333" stroke-width="1.0" />
<line x1="52.50" y1="523.30" x2="55.50" y2="523.30" stroke="#333" stroke-width="1.0" />
<line x1="52.50" y1="514.89" x2="55.50" y2="514.89" stroke="#333" stroke-width="1.0" />
<line x1="49.30" y1="506.48" x2="55.50" y2="506.48" stroke="#333" stroke-width="1.1" />
<text x="43.40" y="510.38" font-size="14.1" text-anchor="end" font-weight="normal" fill="#000" >60</text>
<line x1="52.50" y1="498.07" x2="55.50" y2="498.07" stroke="#333" stroke-width="1.0" />
<line x1="52.50" y1="489.66" x2="55.50" y2="489.66" stroke="#333" stroke-width="1.0" />
<line x1="52.50" y1="481.25" x2="55.50" y2="481.25" stroke="#333" stroke-width="1.0" />
<line x1="49.30" y1="472.84" x2="55.50" y2="472.84" stroke="#333" stroke-width="1.1" />
<text x="43.40" y="476.74" font-size="14.1" text-anchor="end" font-weight="normal" fill="#000" >80</text>
<line x1="52.50" y1="464.43" x2="55.50" y2="464.43" stroke="#333" stroke-width="1.0" />
<line x1="52.50" y1="456.02" x2="55.50" y2="456.02" stroke="#333" stroke-width="1.0" />
<line x1="52.50" y1="447.61" x2="55.50" y2="447.61" stroke="#333" stroke-width="1.0" />
<line x1="49.30" y1="439.20" x2="55.50" y2="439.20" stroke="#333" stroke-width="1.1" />
<text x="43.40" y="443.10" font-size="14.1" text-anchor="end" font-weight="normal" fill="#000" >100</text>
<line x1="82.50" y1="607.60" x2="82.50" y2="612.20" stroke="#333" stroke-width="1.1" />
<line x1="111.20" y1="607.60" x2="111.20" y2="612.20" stroke="#333" stroke-width="1.1" />
<line x1="174.20" y1="607.60" x2="174.20" y2="612.20" stroke="#333" stroke-width="1.1" />
<line x1="234.70" y1="607.60" x2="234.70" y2="612.20" stroke="#333" stroke-width="1.1" />
<line x1="292.50" y1="607.60" x2="292.50" y2="612.20" stroke="#333" stroke-width="1.1" />
<line x1="130.16" y1="607.60" x2="130.16" y2="610.20" stroke="#333" stroke-width="0.9" />
<line x1="141.26" y1="607.60" x2="141.26" y2="610.20" stroke="#333" stroke-width="0.9" />
<line x1="149.13" y1="607.60" x2="149.13" y2="610.20" stroke="#333" stroke-width="0.9" />
<line x1="155.24" y1="607.60" x2="155.24" y2="610.20" stroke="#333" stroke-width="0.9" />
<line x1="160.22" y1="607.60" x2="160.22" y2="610.20" stroke="#333" stroke-width="0.9" />
<line x1="164.44" y1="607.60" x2="164.44" y2="610.20" stroke="#333" stroke-width="0.9" />
<line x1="168.09" y1="607.60" x2="168.09" y2="610.20" stroke="#333" stroke-width="0.9" />
<line x1="171.32" y1="607.60" x2="171.32" y2="610.20" stroke="#333" stroke-width="0.9" />
<line x1="192.41" y1="607.60" x2="192.41" y2="610.20" stroke="#333" stroke-width="0.9" />
<line x1="203.07" y1="607.60" x2="203.07" y2="610.20" stroke="#333" stroke-width="0.9" />
<line x1="210.62" y1="607.60" x2="210.62" y2="610.20" stroke="#333" stroke-width="0.9" />
<line x1="216.49" y1="607.60" x2="216.49" y2="610.20" stroke="#333" stroke-width="0.9" />
<line x1="221.28" y1="607.60" x2="221.28" y2="610.20" stroke="#333" stroke-width="0.9" />
<line x1="225.33" y1="607.60" x2="225.33" y2="610.20" stroke="#333" stroke-width="0.9" />
<line x1="228.84" y1="607.60" x2="228.84" y2="610.20" stroke="#333" stroke-width="0.9" />
<line x1="231.93" y1="607.60" x2="231.93" y2="610.20" stroke="#333" stroke-width="0.9" />
<line x1="252.10" y1="607.60" x2="252.10" y2="610.20" stroke="#333" stroke-width="0.9" />
<line x1="262.28" y1="607.60" x2="262.28" y2="610.20" stroke="#333" stroke-width="0.9" />
<line x1="269.50" y1="607.60" x2="269.50" y2="610.20" stroke="#333" stroke-width="0.9" />
<line x1="275.10" y1="607.60" x2="275.10" y2="610.20" stroke="#333" stroke-width="0.9" />
<line x1="279.68" y1="607.60" x2="279.68" y2="610.20" stroke="#333" stroke-width="0.9" />
<line x1="283.55" y1="607.60" x2="283.55" y2="610.20" stroke="#333" stroke-width="0.9" />
<line x1="286.90" y1="607.60" x2="286.90" y2="610.20" stroke="#333" stroke-width="0.9" />
<line x1="289.86" y1="607.60" x2="289.86" y2="610.20" stroke="#333" stroke-width="0.9" />
<line x1="309.38" y1="607.60" x2="309.38" y2="610.20" stroke="#333" stroke-width="0.9" />
<line x1="57.60" y1="607.60" x2="57.60" y2="610.20" stroke="#333" stroke-width="0.9" />
<line x1="63.30" y1="607.60" x2="63.30" y2="610.20" stroke="#333" stroke-width="0.9" />
<line x1="68.00" y1="607.60" x2="68.00" y2="610.20" stroke="#333" stroke-width="0.9" />
<line x1="70.90" y1="607.60" x2="70.90" y2="610.20" stroke="#333" stroke-width="0.9" />
<line x1="73.70" y1="607.60" x2="73.70" y2="610.20" stroke="#333" stroke-width="0.9" />
<line x1="76.60" y1="607.60" x2="76.60" y2="610.20" stroke="#333" stroke-width="0.9" />
<line x1="79.40" y1="607.60" x2="79.40" y2="610.20" stroke="#333" stroke-width="0.9" />
<line x1="90.80" y1="607.60" x2="90.80" y2="610.20" stroke="#333" stroke-width="0.9" />
<line x1="94.60" y1="607.60" x2="94.60" y2="610.20" stroke="#333" stroke-width="0.9" />
<line x1="99.00" y1="607.60" x2="99.00" y2="610.20" stroke="#333" stroke-width="0.9" />
<line x1="103.00" y1="607.60" x2="103.00" y2="610.20" stroke="#333" stroke-width="0.9" />
<line x1="107.00" y1="607.60" x2="107.00" y2="610.20" stroke="#333" stroke-width="0.9" />
<text x="82.90" y="629.00" font-size="13.8" text-anchor="middle" font-weight="normal" fill="#000" >0</text>
<text x="100.20" y="629.00" font-size="13.8">10<tspan font-size="9.6" dy="-5.8">2</tspan></text>
<text x="163.20" y="629.00" font-size="13.8">10<tspan font-size="9.6" dy="-5.8">3</tspan></text>
<text x="223.70" y="629.00" font-size="13.8">10<tspan font-size="9.6" dy="-5.8">4</tspan></text>
<text x="281.50" y="629.00" font-size="13.8">10<tspan font-size="9.6" dy="-5.8">5</tspan></text>
<text x="184.30" y="650.00" font-size="14.35" text-anchor="middle" font-weight="normal" fill="#000" >Anti-human IgG-AF647</text>
<text x="11.40" y="518.30" font-size="14.1" text-anchor="middle" font-weight="normal" fill="#000" transform="rotate(-90 11.4 518.3)">% of max</text>
<polygon points="55.50,607.40 55.50,607.40 56.50,607.40 57.50,607.40 58.50,607.40 59.50,607.40 60.50,607.40 61.50,607.40 62.50,607.40 63.50,607.40 64.50,607.40 65.50,607.40 66.50,607.40 67.50,607.40 68.50,607.40 69.50,607.40 70.50,607.39 71.50,607.29 72.50,607.10 73.50,606.81 74.50,606.44 75.50,605.98 76.50,605.28 77.50,603.56 78.50,600.51 79.50,594.38 80.50,585.67 81.50,572.90 82.50,562.37 83.50,553.56 84.50,539.55 85.50,519.74 86.50,499.75 87.50,480.82 88.50,464.43 89.50,450.78 90.50,441.54 91.50,443.71 92.50,449.22 93.50,448.58 94.50,447.62 95.50,457.09 96.50,479.26 97.50,499.13 98.50,518.96 99.50,536.76 100.50,550.82 101.50,562.82 102.50,574.14 103.50,583.63 104.50,590.20 105.50,595.36 106.50,599.26 107.50,601.85 108.50,603.85 109.50,605.27 110.50,606.06 111.50,606.66 112.50,607.11 113.50,607.37 114.50,607.40 115.50,607.40 116.50,607.40 117.50,607.40 118.50,607.40 119.50,607.40 120.50,607.40 121.50,607.40 122.50,607.40 123.50,607.40 124.50,607.40 125.50,607.40 126.50,607.40 127.50,607.40 128.50,607.40 129.50,607.40 130.50,607.40 131.50,607.40 132.50,607.40 133.50,607.40 134.50,607.40 135.50,607.40 136.50,607.40 137.50,607.40 138.50,607.40 139.50,607.40 140.50,607.40 141.50,607.40 142.50,607.40 143.50,607.40 144.50,607.40 145.50,607.40 146.50,607.40 147.50,607.40 148.50,607.40 149.50,607.40 150.50,607.40 151.50,607.40 152.50,607.40 153.50,607.40 154.50,607.40 155.50,607.40 156.50,607.40 157.50,607.40 158.50,607.40 159.50,607.40 160.50,607.40 161.50,607.40 162.50,607.40 163.50,607.40 164.50,607.40 165.50,607.40 166.50,607.40 167.50,607.40 168.50,607.40 169.50,607.40 170.50,607.40 171.50,607.40 172.50,607.40 173.50,607.40 174.50,607.40 175.50,607.40 176.50,607.40 177.50,607.40 178.50,607.40 179.50,607.40 180.50,607.40 181.50,607.40 182.50,607.40 183.50,607.40 184.50,607.40 185.50,607.40 186.50,607.40 187.50,607.40 188.50,607.40 189.50,607.40 190.50,607.40 191.50,607.40 192.50,607.40 193.50,607.40 194.50,607.40 195.50,607.40 196.50,607.40 197.50,607.40 198.50,607.40 199.50,607.40 200.50,607.40 201.50,607.40 202.50,607.40 203.50,607.40 204.50,607.40 205.50,607.40 206.50,607.40 207.50,607.40 208.50,607.40 209.50,607.40 210.50,607.40 211.50,607.40 212.50,607.40 213.50,607.40 214.50,607.40 215.50,607.40 216.50,607.40 217.50,607.40 218.50,607.40 219.50,607.40 220.50,607.40 221.50,607.40 222.50,607.40 223.50,607.40 224.50,607.40 225.50,607.40 226.50,607.40 227.50,607.40 228.50,607.40 229.50,607.40 230.50,607.40 231.50,607.40 232.50,607.40 233.50,607.40 234.50,607.40 235.50,607.40 236.50,607.40 237.50,607.40 238.50,607.40 239.50,607.40 240.50,607.40 241.50,607.40 242.50,607.40 243.50,607.40 244.50,607.40 245.50,607.40 246.50,607.40 247.50,607.40 248.50,607.40 249.50,607.40 250.50,607.40 251.50,607.40 252.50,607.40 253.50,607.40 254.50,607.40 255.50,607.40 256.50,607.40 257.50,607.40 258.50,607.40 259.50,607.40 260.50,607.40 261.50,607.40 262.50,607.40 263.50,607.40 264.50,607.40 265.50,607.40 266.50,607.40 267.50,607.40 268.50,607.40 269.50,607.40 270.50,607.40 271.50,607.40 272.50,607.40 273.50,607.40 274.50,607.40 275.50,607.40 276.50,607.40 277.50,607.40 278.50,607.40 279.50,607.40 280.50,607.40 281.50,607.40 282.50,607.40 283.50,607.40 284.50,607.40 285.50,607.40 286.50,607.40 287.50,607.40 288.50,607.40 289.50,607.40 290.50,607.40 291.50,607.40 292.50,607.40 293.50,607.40 294.50,607.40 295.50,607.40 296.50,607.40 297.50,607.40 298.50,607.40 299.50,607.40 300.50,607.40 301.50,607.40 302.50,607.40 303.50,607.40 304.50,607.40 305.50,607.40 306.50,607.40 307.50,607.40 308.50,607.40 309.50,607.40 310.50,607.40 311.50,607.40 312.50,607.40 313.50,607.40 314.50,607.40 315.50,607.40 315.50,607.40" fill="#ababab" stroke="#555" stroke-width="0.6"/>
<polyline points="55.50,607.40 56.50,607.40 57.50,607.40 58.50,607.40 59.50,607.40 60.50,607.40 61.50,607.40 62.50,607.40 63.50,607.40 64.50,607.40 65.50,607.40 66.50,607.40 67.50,607.40 68.50,607.40 69.50,607.40 70.50,607.40 71.50,607.33 72.50,607.17 73.50,606.91 74.50,606.56 75.50,606.13 76.50,605.58 77.50,604.19 78.50,601.74 79.50,596.48 80.50,588.84 81.50,576.81 82.50,565.05 83.50,556.44 84.50,544.60 85.50,525.96 86.50,505.42 87.50,486.51 88.50,468.71 89.50,454.80 90.50,443.34 91.50,441.64 92.50,447.64 93.50,453.90 94.50,460.35 95.50,469.76 96.50,483.96 97.50,499.75 98.50,516.33 99.50,533.91 100.50,550.21 101.50,565.49 102.50,578.98 103.50,587.70 104.50,594.30 105.50,599.08 106.50,601.90 107.50,603.91 108.50,605.28 109.50,606.06 110.50,606.66 111.50,607.11 112.50,607.37 113.50,607.40 114.50,607.40 115.50,607.40 116.50,607.40 117.50,607.40 118.50,607.40 119.50,607.40 120.50,607.40 121.50,607.40 122.50,607.40 123.50,607.40 124.50,607.40 125.50,607.40 126.50,607.40 127.50,607.40 128.50,607.40 129.50,607.40 130.50,607.40 131.50,607.40 132.50,607.40 133.50,607.40 134.50,607.40 135.50,607.40 136.50,607.40 137.50,607.40 138.50,607.40 139.50,607.40 140.50,607.40 141.50,607.40 142.50,607.40 143.50,607.40 144.50,607.40 145.50,607.40 146.50,607.40 147.50,607.40 148.50,607.40 149.50,607.40 150.50,607.40 151.50,607.40 152.50,607.40 153.50,607.40 154.50,607.40 155.50,607.40 156.50,607.40 157.50,607.40 158.50,607.40 159.50,607.40 160.50,607.40 161.50,607.40 162.50,607.40 163.50,607.40 164.50,607.40 165.50,607.40 166.50,607.40 167.50,607.40 168.50,607.40 169.50,607.40 170.50,607.40 171.50,607.40 172.50,607.40 173.50,607.40 174.50,607.40 175.50,607.40 176.50,607.40 177.50,607.40 178.50,607.40 179.50,607.40 180.50,607.40 181.50,607.40 182.50,607.40 183.50,607.40 184.50,607.40 185.50,607.40 186.50,607.40 187.50,607.40 188.50,607.40 189.50,607.40 190.50,607.40 191.50,607.40 192.50,607.40 193.50,607.40 194.50,607.40 195.50,607.40 196.50,607.40 197.50,607.40 198.50,607.40 199.50,607.40 200.50,607.40 201.50,607.40 202.50,607.40 203.50,607.40 204.50,607.40 205.50,607.40 206.50,607.40 207.50,607.40 208.50,607.40 209.50,607.40 210.50,607.40 211.50,607.40 212.50,607.40 213.50,607.40 214.50,607.40 215.50,607.40 216.50,607.40 217.50,607.40 218.50,607.40 219.50,607.40 220.50,607.40 221.50,607.40 222.50,607.40 223.50,607.40 224.50,607.40 225.50,607.40 226.50,607.40 227.50,607.40 228.50,607.40 229.50,607.40 230.50,607.40 231.50,607.40 232.50,607.40 233.50,607.40 234.50,607.40 235.50,607.40 236.50,607.40 237.50,607.40 238.50,607.40 239.50,607.40 240.50,607.40 241.50,607.40 242.50,607.40 243.50,607.40 244.50,607.40 245.50,607.40 246.50,607.40 247.50,607.40 248.50,607.40 249.50,607.40 250.50,607.40 251.50,607.40 252.50,607.40 253.50,607.40 254.50,607.40 255.50,607.40 256.50,607.40 257.50,607.40 258.50,607.40 259.50,607.40 260.50,607.40 261.50,607.40 262.50,607.40 263.50,607.40 264.50,607.40 265.50,607.40 266.50,607.40 267.50,607.40 268.50,607.40 269.50,607.40 270.50,607.40 271.50,607.40 272.50,607.40 273.50,607.40 274.50,607.40 275.50,607.40 276.50,607.40 277.50,607.40 278.50,607.40 279.50,607.40 280.50,607.40 281.50,607.40 282.50,607.40 283.50,607.40 284.50,607.40 285.50,607.40 286.50,607.40 287.50,607.40 288.50,607.40 289.50,607.40 290.50,607.40 291.50,607.40 292.50,607.40 293.50,607.40 294.50,607.40 295.50,607.40 296.50,607.40 297.50,607.40 298.50,607.40 299.50,607.40 300.50,607.40 301.50,607.40 302.50,607.40 303.50,607.40 304.50,607.40 305.50,607.40 306.50,607.40 307.50,607.40 308.50,607.40 309.50,607.40 310.50,607.40 311.50,607.40 312.50,607.40 313.50,607.40 314.50,607.40 315.50,607.40" fill="none" stroke="#1030e0" stroke-width="1.8" stroke-linejoin="round" />
<polyline points="55.50,607.40 56.50,607.40 57.50,607.40 58.50,607.40 59.50,607.40 60.50,607.40 61.50,607.40 62.50,607.40 63.50,607.40 64.50,607.40 65.50,607.40 66.50,607.40 67.50,607.40 68.50,607.40 69.50,607.40 70.50,607.40 71.50,607.32 72.50,607.14 73.50,606.88 74.50,606.52 75.50,606.08 76.50,605.50 77.50,603.99 78.50,601.37 79.50,595.80 80.50,587.85 81.50,575.49 82.50,564.13 83.50,555.52 84.50,542.98 85.50,523.90 86.50,503.48 87.50,484.60 88.50,467.21 89.50,453.43 90.50,442.63 91.50,441.29 92.50,444.00 93.50,449.06 94.50,459.38 95.50,473.82 96.50,491.35 97.50,507.85 98.50,524.30 99.50,540.13 100.50,554.32 101.50,567.82 102.50,579.42 103.50,587.58 104.50,594.17 105.50,599.06 106.50,601.90 107.50,603.91 108.50,605.28 109.50,606.06 110.50,606.66 111.50,607.11 112.50,607.37 113.50,607.40 114.50,607.40 115.50,607.40 116.50,607.40 117.50,607.40 118.50,607.40 119.50,607.40 120.50,607.40 121.50,607.40 122.50,607.40 123.50,607.40 124.50,607.40 125.50,607.40 126.50,607.40 127.50,607.40 128.50,607.40 129.50,607.40 130.50,607.40 131.50,607.40 132.50,607.40 133.50,607.40 134.50,607.40 135.50,607.40 136.50,607.40 137.50,607.40 138.50,607.40 139.50,607.40 140.50,607.40 141.50,607.40 142.50,607.40 143.50,607.40 144.50,607.40 145.50,607.40 146.50,607.40 147.50,607.40 148.50,607.40 149.50,607.40 150.50,607.40 151.50,607.40 152.50,607.40 153.50,607.40 154.50,607.40 155.50,607.40 156.50,607.40 157.50,607.40 158.50,607.40 159.50,607.40 160.50,607.40 161.50,607.40 162.50,607.40 163.50,607.40 164.50,607.40 165.50,607.40 166.50,607.40 167.50,607.40 168.50,607.40 169.50,607.40 170.50,607.40 171.50,607.40 172.50,607.40 173.50,607.40 174.50,607.40 175.50,607.40 176.50,607.40 177.50,607.40 178.50,607.40 179.50,607.40 180.50,607.40 181.50,607.40 182.50,607.40 183.50,607.40 184.50,607.40 185.50,607.40 186.50,607.40 187.50,607.40 188.50,607.40 189.50,607.40 190.50,607.40 191.50,607.40 192.50,607.40 193.50,607.40 194.50,607.40 195.50,607.40 196.50,607.40 197.50,607.40 198.50,607.40 199.50,607.40 200.50,607.40 201.50,607.40 202.50,607.40 203.50,607.40 204.50,607.40 205.50,607.40 206.50,607.40 207.50,607.40 208.50,607.40 209.50,607.40 210.50,607.40 211.50,607.40 212.50,607.40 213.50,607.40 214.50,607.40 215.50,607.40 216.50,607.40 217.50,607.40 218.50,607.40 219.50,607.40 220.50,607.40 221.50,607.40 222.50,607.40 223.50,607.40 224.50,607.40 225.50,607.40 226.50,607.40 227.50,607.40 228.50,607.40 229.50,607.40 230.50,607.40 231.50,607.40 232.50,607.40 233.50,607.40 234.50,607.40 235.50,607.40 236.50,607.40 237.50,607.40 238.50,607.40 239.50,607.40 240.50,607.40 241.50,607.40 242.50,607.40 243.50,607.40 244.50,607.40 245.50,607.40 246.50,607.40 247.50,607.40 248.50,607.40 249.50,607.40 250.50,607.40 251.50,607.40 252.50,607.40 253.50,607.40 254.50,607.40 255.50,607.40 256.50,607.40 257.50,607.40 258.50,607.40 259.50,607.40 260.50,607.40 261.50,607.40 262.50,607.40 263.50,607.40 264.50,607.40 265.50,607.40 266.50,607.40 267.50,607.40 268.50,607.40 269.50,607.40 270.50,607.40 271.50,607.40 272.50,607.40 273.50,607.40 274.50,607.40 275.50,607.40 276.50,607.40 277.50,607.40 278.50,607.40 279.50,607.40 280.50,607.40 281.50,607.40 282.50,607.40 283.50,607.40 284.50,607.40 285.50,607.40 286.50,607.40 287.50,607.40 288.50,607.40 289.50,607.40 290.50,607.40 291.50,607.40 292.50,607.40 293.50,607.40 294.50,607.40 295.50,607.40 296.50,607.40 297.50,607.40 298.50,607.40 299.50,607.40 300.50,607.40 301.50,607.40 302.50,607.40 303.50,607.40 304.50,607.40 305.50,607.40 306.50,607.40 307.50,607.40 308.50,607.40 309.50,607.40 310.50,607.40 311.50,607.40 312.50,607.40 313.50,607.40 314.50,607.40 315.50,607.40" fill="none" stroke="#000" stroke-width="1.8" stroke-linejoin="round" />
<polyline points="55.50,607.40 56.50,607.40 57.50,607.40 58.50,607.40 59.50,607.40 60.50,607.40 61.50,607.40 62.50,607.40 63.50,607.40 64.50,607.40 65.50,607.40 66.50,607.40 67.50,607.40 68.50,607.40 69.50,607.36 70.50,607.23 71.50,607.00 72.50,606.68 73.50,606.27 74.50,605.77 75.50,604.72 76.50,602.61 77.50,598.38 78.50,591.36 79.50,580.75 80.50,568.10 81.50,559.02 82.50,548.94 83.50,532.02 84.50,511.44 85.50,492.27 86.50,473.61 87.50,458.98 88.50,446.08 89.50,440.89 90.50,441.87 91.50,443.97 92.50,446.45 93.50,448.61 94.50,450.87 95.50,457.34 96.50,476.75 97.50,498.05 98.50,514.11 99.50,529.18 100.50,543.40 101.50,557.21 102.50,571.53 103.50,583.35 104.50,590.04 105.50,594.82 106.50,598.54 107.50,601.30 108.50,603.30 109.50,605.06 110.50,606.47 111.50,607.29 112.50,607.40 113.50,607.40 114.50,607.40 115.50,607.40 116.50,607.40 117.50,607.40 118.50,607.40 119.50,607.40 120.50,607.40 121.50,607.40 122.50,607.40 123.50,607.40 124.50,607.40 125.50,607.40 126.50,607.40 127.50,607.40 128.50,607.40 129.50,607.40 130.50,607.40 131.50,607.40 132.50,607.40 133.50,607.40 134.50,607.40 135.50,607.40 136.50,607.40 137.50,607.40 138.50,607.40 139.50,607.40 140.50,607.40 141.50,607.40 142.50,607.40 143.50,607.40 144.50,607.40 145.50,607.40 146.50,607.40 147.50,607.40 148.50,607.40 149.50,607.40 150.50,607.40 151.50,607.40 152.50,607.40 153.50,607.40 154.50,607.40 155.50,607.40 156.50,607.40 157.50,607.40 158.50,607.40 159.50,607.40 160.50,607.40 161.50,607.40 162.50,607.40 163.50,607.40 164.50,607.40 165.50,607.40 166.50,607.40 167.50,607.40 168.50,607.40 169.50,607.40 170.50,607.40 171.50,607.40 172.50,607.40 173.50,607.40 174.50,607.40 175.50,607.40 176.50,607.40 177.50,607.40 178.50,607.40 179.50,607.40 180.50,607.40 181.50,607.40 182.50,607.40 183.50,607.40 184.50,607.40 185.50,607.40 186.50,607.40 187.50,607.40 188.50,607.40 189.50,607.40 190.50,607.40 191.50,607.40 192.50,607.40 193.50,607.40 194.50,607.40 195.50,607.40 196.50,607.40 197.50,607.40 198.50,607.40 199.50,607.40 200.50,607.40 201.50,607.40 202.50,607.40 203.50,607.40 204.50,607.40 205.50,607.40 206.50,607.40 207.50,607.40 208.50,607.40 209.50,607.40 210.50,607.40 211.50,607.40 212.50,607.40 213.50,607.40 214.50,607.40 215.50,607.40 216.50,607.40 217.50,607.40 218.50,607.40 219.50,607.40 220.50,607.40 221.50,607.40 222.50,607.40 223.50,607.40 224.50,607.40 225.50,607.40 226.50,607.40 227.50,607.40 228.50,607.40 229.50,607.40 230.50,607.40 231.50,607.40 232.50,607.40 233.50,607.40 234.50,607.40 235.50,607.40 236.50,607.40 237.50,607.40 238.50,607.40 239.50,607.40 240.50,607.40 241.50,607.40 242.50,607.40 243.50,607.40 244.50,607.40 245.50,607.40 246.50,607.40 247.50,607.40 248.50,607.40 249.50,607.40 250.50,607.40 251.50,607.40 252.50,607.40 253.50,607.40 254.50,607.40 255.50,607.40 256.50,607.40 257.50,607.40 258.50,607.40 259.50,607.40 260.50,607.40 261.50,607.40 262.50,607.40 263.50,607.40 264.50,607.40 265.50,607.40 266.50,607.40 267.50,607.40 268.50,607.40 269.50,607.40 270.50,607.40 271.50,607.40 272.50,607.40 273.50,607.40 274.50,607.40 275.50,607.40 276.50,607.40 277.50,607.40 278.50,607.40 279.50,607.40 280.50,607.40 281.50,607.40 282.50,607.40 283.50,607.40 284.50,607.40 285.50,607.40 286.50,607.40 287.50,607.40 288.50,607.40 289.50,607.40 290.50,607.40 291.50,607.40 292.50,607.40 293.50,607.40 294.50,607.40 295.50,607.40 296.50,607.40 297.50,607.40 298.50,607.40 299.50,607.40 300.50,607.40 301.50,607.40 302.50,607.40 303.50,607.40 304.50,607.40 305.50,607.40 306.50,607.40 307.50,607.40 308.50,607.40 309.50,607.40 310.50,607.40 311.50,607.40 312.50,607.40 313.50,607.40 314.50,607.40 315.50,607.40" fill="none" stroke="#00e8f0" stroke-width="1.8" stroke-linejoin="round" />
<polyline points="55.50,607.40 56.50,607.40 57.50,607.40 58.50,607.40 59.50,607.40 60.50,607.40 61.50,607.40 62.50,607.40 63.50,607.40 64.50,607.40 65.50,607.40 66.50,607.40 67.50,607.40 68.50,607.40 69.50,607.40 70.50,607.40 71.50,607.34 72.50,607.19 73.50,606.94 74.50,606.60 75.50,606.17 76.50,605.66 77.50,604.38 78.50,602.07 79.50,597.14 80.50,589.75 81.50,578.13 82.50,566.02 83.50,557.32 84.50,546.13 85.50,528.01 86.50,507.39 87.50,488.43 88.50,470.28 89.50,456.18 90.50,444.16 91.50,441.66 92.50,448.52 93.50,448.34 94.50,446.13 95.50,447.95 96.50,455.26 97.50,463.79 98.50,474.85 99.50,487.74 100.50,501.09 101.50,515.83 102.50,531.48 103.50,545.61 104.50,557.86 105.50,567.03 106.50,571.85 107.50,575.16 108.50,577.62 109.50,579.56 110.50,581.36 111.50,582.87 112.50,584.51 113.50,586.96 114.50,590.90 115.50,594.55 116.50,596.26 117.50,597.26 118.50,598.01 119.50,598.66 120.50,599.32 121.50,599.92 122.50,600.47 123.50,601.01 124.50,601.56 125.50,602.17 126.50,602.83 127.50,603.50 128.50,604.12 129.50,604.65 130.50,605.07 131.50,605.43 132.50,605.74 133.50,606.02 134.50,606.27 135.50,606.52 136.50,606.75 137.50,606.96 138.50,607.15 139.50,607.32 140.50,607.40 141.50,607.40 142.50,607.40 143.50,607.40 144.50,607.40 145.50,607.40 146.50,607.40 147.50,607.40 148.50,607.40 149.50,607.40 150.50,607.40 151.50,607.40 152.50,607.40 153.50,607.40 154.50,607.40 155.50,607.40 156.50,607.40 157.50,607.40 158.50,607.40 159.50,607.40 160.50,607.40 161.50,607.40 162.50,607.40 163.50,607.40 164.50,607.40 165.50,607.40 166.50,607.40 167.50,607.40 168.50,607.40 169.50,607.40 170.50,607.40 171.50,607.40 172.50,607.40 173.50,607.40 174.50,607.40 175.50,607.40 176.50,607.40 177.50,607.40 178.50,607.40 179.50,607.40 180.50,607.40 181.50,607.40 182.50,607.40 183.50,607.40 184.50,607.40 185.50,607.40 186.50,607.40 187.50,607.40 188.50,607.40 189.50,607.40 190.50,607.40 191.50,607.40 192.50,607.40 193.50,607.40 194.50,607.40 195.50,607.40 196.50,607.40 197.50,607.40 198.50,607.40 199.50,607.40 200.50,607.40 201.50,607.40 202.50,607.40 203.50,607.40 204.50,607.40 205.50,607.40 206.50,607.40 207.50,607.40 208.50,607.40 209.50,607.40 210.50,607.40 211.50,607.40 212.50,607.40 213.50,607.40 214.50,607.40 215.50,607.40 216.50,607.40 217.50,607.40 218.50,607.40 219.50,607.40 220.50,607.40 221.50,607.40 222.50,607.40 223.50,607.40 224.50,607.40 225.50,607.40 226.50,607.40 227.50,607.40 228.50,607.40 229.50,607.40 230.50,607.40 231.50,607.40 232.50,607.40 233.50,607.40 234.50,607.40 235.50,607.40 236.50,607.40 237.50,607.40 238.50,607.40 239.50,607.40 240.50,607.40 241.50,607.40 242.50,607.40 243.50,607.40 244.50,607.40 245.50,607.40 246.50,607.40 247.50,607.40 248.50,607.40 249.50,607.40 250.50,607.40 251.50,607.40 252.50,607.40 253.50,607.40 254.50,607.40 255.50,607.40 256.50,607.40 257.50,607.40 258.50,607.40 259.50,607.40 260.50,607.40 261.50,607.40 262.50,607.40 263.50,607.40 264.50,607.40 265.50,607.40 266.50,607.40 267.50,607.40 268.50,607.40 269.50,607.40 270.50,607.40 271.50,607.40 272.50,607.40 273.50,607.40 274.50,607.40 275.50,607.40 276.50,607.40 277.50,607.40 278.50,607.40 279.50,607.40 280.50,607.40 281.50,607.40 282.50,607.40 283.50,607.40 284.50,607.40 285.50,607.40 286.50,607.40 287.50,607.40 288.50,607.40 289.50,607.40 290.50,607.40 291.50,607.40 292.50,607.40 293.50,607.40 294.50,607.40 295.50,607.40 296.50,607.40 297.50,607.40 298.50,607.40 299.50,607.40 300.50,607.40 301.50,607.40 302.50,607.40 303.50,607.40 304.50,607.40 305.50,607.40 306.50,607.40 307.50,607.40 308.50,607.40 309.50,607.40 310.50,607.40 311.50,607.40 312.50,607.40 313.50,607.40 314.50,607.40 315.50,607.40" fill="none" stroke="#f07c18" stroke-width="2.0" stroke-linejoin="round" />
<polyline points="55.50,607.40 56.50,607.40 57.50,607.40 58.50,607.40 59.50,607.40 60.50,607.40 61.50,607.40 62.50,607.40 63.50,607.40 64.50,607.40 65.50,607.40 66.50,607.40 67.50,607.40 68.50,607.40 69.50,607.40 70.50,607.40 71.50,607.40 72.50,607.40 73.50,607.40 74.50,607.40 75.50,607.40 76.50,607.40 77.50,607.40 78.50,607.40 79.50,607.40 80.50,607.40 81.50,607.40 82.50,607.40 83.50,607.40 84.50,607.40 85.50,607.40 86.50,607.40 87.50,607.40 88.50,607.40 89.50,607.40 90.50,607.40 91.50,607.40 92.50,607.40 93.50,607.40 94.50,607.40 95.50,607.40 96.50,607.40 97.50,607.40 98.50,607.40 99.50,607.40 100.50,607.40 101.50,607.40 102.50,607.37 103.50,607.37 104.50,607.31 105.50,607.23 106.50,607.29 107.50,607.28 108.50,607.16 109.50,607.12 110.50,607.06 111.50,606.98 112.50,606.92 113.50,606.73 114.50,606.75 115.50,606.77 116.50,606.60 117.50,606.33 118.50,606.03 119.50,605.67 120.50,604.99 121.50,604.11 122.50,603.18 123.50,602.95 124.50,602.74 125.50,601.61 126.50,601.30 127.50,601.04 128.50,599.96 129.50,598.90 130.50,598.08 131.50,597.96 132.50,597.66 133.50,596.92 134.50,595.47 135.50,594.61 136.50,594.26 137.50,592.79 138.50,590.99 139.50,588.79 140.50,586.27 141.50,582.78 142.50,578.73 143.50,574.19 144.50,569.62 145.50,566.64 146.50,563.08 147.50,559.77 148.50,555.88 149.50,551.82 150.50,548.11 151.50,544.74 152.50,540.09 153.50,535.03 154.50,531.21 155.50,523.31 156.50,514.88 157.50,506.37 158.50,494.18 159.50,483.69 160.50,471.12 161.50,457.30 162.50,452.96 163.50,452.93 164.50,453.15 165.50,449.26 166.50,443.92 167.50,442.79 168.50,443.53 169.50,445.21 170.50,450.58 171.50,453.53 172.50,456.40 173.50,458.22 174.50,458.62 175.50,460.87 176.50,464.54 177.50,470.06 178.50,478.49 179.50,486.65 180.50,490.23 181.50,497.37 182.50,503.14 183.50,509.73 184.50,518.20 185.50,528.50 186.50,541.21 187.50,553.16 188.50,565.86 189.50,572.93 190.50,576.56 191.50,581.98 192.50,586.81 193.50,590.17 194.50,593.21 195.50,594.99 196.50,596.83 197.50,598.92 198.50,600.48 199.50,601.89 200.50,603.06 201.50,603.64 202.50,604.40 203.50,605.32 204.50,606.01 205.50,606.66 206.50,606.90 207.50,607.06 208.50,607.18 209.50,607.28 210.50,607.37 211.50,607.40 212.50,607.40 213.50,607.40 214.50,607.40 215.50,607.40 216.50,607.40 217.50,607.40 218.50,607.40 219.50,607.40 220.50,607.40 221.50,607.40 222.50,607.40 223.50,607.40 224.50,607.40 225.50,607.40 226.50,607.40 227.50,607.40 228.50,607.40 229.50,607.40 230.50,607.40 231.50,607.40 232.50,607.40 233.50,607.40 234.50,607.40 235.50,607.40 236.50,607.40 237.50,607.40 238.50,607.40 239.50,607.40 240.50,607.40 241.50,607.40 242.50,607.40 243.50,607.40 244.50,607.40 245.50,607.40 246.50,607.40 247.50,607.40 248.50,607.40 249.50,607.40 250.50,607.40 251.50,607.40 252.50,607.40 253.50,607.40 254.50,607.40 255.50,607.40 256.50,607.40 257.50,607.40 258.50,607.40 259.50,607.40 260.50,607.40 261.50,607.40 262.50,607.40 263.50,607.40 264.50,607.40 265.50,607.40 266.50,607.40 267.50,607.40 268.50,607.40 269.50,607.40 270.50,607.40 271.50,607.40 272.50,607.40 273.50,607.40 274.50,607.40 275.50,607.40 276.50,607.40 277.50,607.40 278.50,607.40 279.50,607.40 280.50,607.40 281.50,607.40 282.50,607.40 283.50,607.40 284.50,607.40 285.50,607.40 286.50,607.40 287.50,607.40 288.50,607.40 289.50,607.40 290.50,607.40 291.50,607.40 292.50,607.40 293.50,607.40 294.50,607.40 295.50,607.40 296.50,607.40 297.50,607.40 298.50,607.40 299.50,607.40 300.50,607.40 301.50,607.40 302.50,607.40 303.50,607.40 304.50,607.40 305.50,607.40 306.50,607.40 307.50,607.40 308.50,607.40 309.50,607.40 310.50,607.40 311.50,607.40 312.50,607.40 313.50,607.40 314.50,607.40 315.50,607.40" fill="none" stroke="#ff33ff" stroke-width="2.0" stroke-linejoin="round" />
<polyline points="55.50,607.40 56.50,607.40 57.50,607.40 58.50,607.40 59.50,607.40 60.50,607.40 61.50,607.40 62.50,607.40 63.50,607.40 64.50,607.40 65.50,607.40 66.50,607.40 67.50,607.40 68.50,607.40 69.50,607.40 70.50,607.40 71.50,607.33 72.50,607.17 73.50,606.92 74.50,606.59 75.50,606.17 76.50,605.64 77.50,604.28 78.50,601.91 79.50,596.81 80.50,589.39 81.50,577.73 82.50,566.32 83.50,557.97 84.50,546.48 85.50,528.41 86.50,508.48 87.50,490.14 88.50,472.87 89.50,459.37 90.50,448.27 91.50,446.59 92.50,450.55 93.50,450.03 94.50,447.81 95.50,451.42 96.50,462.75 97.50,474.57 98.50,488.27 99.50,502.67 100.50,518.37 101.50,534.75 102.50,550.21 103.50,565.26 104.50,578.84 105.50,587.88 106.50,594.69 107.50,598.99 108.50,601.40 109.50,603.21 110.50,604.46 111.50,605.23 112.50,605.87 113.50,606.43 114.50,606.88 115.50,607.21 116.50,607.38 117.50,607.40 118.50,607.40 119.50,607.40 120.50,607.40 121.50,607.40 122.50,607.40 123.50,607.40 124.50,607.40 125.50,607.40 126.50,607.40 127.50,607.40 128.50,607.40 129.50,607.40 130.50,607.40 131.50,607.40 132.50,607.40 133.50,607.40 134.50,607.40 135.50,607.40 136.50,607.40 137.50,607.40 138.50,607.40 139.50,607.40 140.50,607.40 141.50,607.40 142.50,607.40 143.50,607.40 144.50,607.40 145.50,607.40 146.50,607.40 147.50,607.40 148.50,607.40 149.50,607.40 150.50,607.40 151.50,607.40 152.50,607.40 153.50,607.40 154.50,607.40 155.50,607.40 156.50,607.40 157.50,607.40 158.50,607.40 159.50,607.40 160.50,607.40 161.50,607.40 162.50,607.40 163.50,607.40 164.50,607.40 165.50,607.40 166.50,607.40 167.50,607.40 168.50,607.40 169.50,607.40 170.50,607.40 171.50,607.40 172.50,607.40 173.50,607.40 174.50,607.40 175.50,607.40 176.50,607.40 177.50,607.40 178.50,607.40 179.50,607.40 180.50,607.40 181.50,607.40 182.50,607.40 183.50,607.40 184.50,607.40 185.50,607.40 186.50,607.40 187.50,607.40 188.50,607.40 189.50,607.40 190.50,607.40 191.50,607.40 192.50,607.40 193.50,607.40 194.50,607.40 195.50,607.40 196.50,607.40 197.50,607.40 198.50,607.40 199.50,607.40 200.50,607.40 201.50,607.40 202.50,607.40 203.50,607.40 204.50,607.40 205.50,607.40 206.50,607.40 207.50,607.40 208.50,607.40 209.50,607.40 210.50,607.40 211.50,607.40 212.50,607.40 213.50,607.40 214.50,607.40 215.50,607.40 216.50,607.40 217.50,607.40 218.50,607.40 219.50,607.40 220.50,607.40 221.50,607.40 222.50,607.40 223.50,607.40 224.50,607.40 225.50,607.40 226.50,607.40 227.50,607.40 228.50,607.40 229.50,607.40 230.50,607.40 231.50,607.40 232.50,607.40 233.50,607.40 234.50,607.40 235.50,607.40 236.50,607.40 237.50,607.40 238.50,607.40 239.50,607.40 240.50,607.40 241.50,607.40 242.50,607.40 243.50,607.40 244.50,607.40 245.50,607.40 246.50,607.40 247.50,607.40 248.50,607.40 249.50,607.40 250.50,607.40 251.50,607.40 252.50,607.40 253.50,607.40 254.50,607.40 255.50,607.40 256.50,607.40 257.50,607.40 258.50,607.40 259.50,607.40 260.50,607.40 261.50,607.40 262.50,607.40 263.50,607.40 264.50,607.40 265.50,607.40 266.50,607.40 267.50,607.40 268.50,607.40 269.50,607.40 270.50,607.40 271.50,607.40 272.50,607.40 273.50,607.40 274.50,607.40 275.50,607.40 276.50,607.40 277.50,607.40 278.50,607.40 279.50,607.40 280.50,607.40 281.50,607.40 282.50,607.40 283.50,607.40 284.50,607.40 285.50,607.40 286.50,607.40 287.50,607.40 288.50,607.40 289.50,607.40 290.50,607.40 291.50,607.40 292.50,607.40 293.50,607.40 294.50,607.40 295.50,607.40 296.50,607.40 297.50,607.40 298.50,607.40 299.50,607.40 300.50,607.40 301.50,607.40 302.50,607.40 303.50,607.40 304.50,607.40 305.50,607.40 306.50,607.40 307.50,607.40 308.50,607.40 309.50,607.40 310.50,607.40 311.50,607.40 312.50,607.40 313.50,607.40 314.50,607.40 315.50,607.40" fill="none" stroke="#a8561e" stroke-width="2.0" stroke-linejoin="round" />
<rect x="219.30" y="440.10" width="10.00" height="10.00" fill="#0000ff" stroke="#7f93b0" stroke-width="0.8" />
<text x="236.0" y="449.30" font-size="12">hTERT<tspan font-size="8.4" dy="4.4">324–332</tspan></text>
<rect x="219.30" y="461.20" width="10.00" height="10.00" fill="#000000" stroke="#7f93b0" stroke-width="0.8" />
<text x="236.0" y="470.40" font-size="12">hTERT<tspan font-size="8.4" dy="4.4">461–469</tspan></text>
<rect x="219.30" y="482.30" width="10.00" height="10.00" fill="#e8701a" stroke="#7f93b0" stroke-width="0.8" />
<text x="236.0" y="491.50" font-size="12">WT1<tspan font-size="8.4" dy="4.4">235–243</tspan></text>
<rect x="219.30" y="503.40" width="10.00" height="10.00" fill="#00ffff" stroke="#7f93b0" stroke-width="0.8" />
<text x="236.0" y="512.60" font-size="12">WT1<tspan font-size="8.4" dy="4.4">417–425</tspan></text>
<rect x="219.30" y="524.50" width="10.00" height="10.00" fill="#ff00ff" stroke="#7f93b0" stroke-width="0.8" />
<text x="236.0" y="533.70" font-size="12">p53<tspan font-size="8.4" dy="4.4">125–134</tspan></text>
<rect x="219.30" y="545.60" width="10.00" height="10.00" fill="#96501a" stroke="#7f93b0" stroke-width="0.8" />
<text x="236.0" y="554.80" font-size="12">p53<tspan font-size="8.4" dy="4.4">204–212</tspan></text>
<rect x="219.30" y="566.70" width="10.00" height="10.00" fill="#808080" stroke="#7f93b0" stroke-width="0.8" />
<text x="236.0" y="575.90" font-size="12">Unpulsed</text>
<rect x="400.40" y="432.00" width="260.10" height="176.10" fill="none" stroke="#333" stroke-width="1.1"/>
<line x1="394.20" y1="607.90" x2="400.40" y2="607.90" stroke="#333" stroke-width="1.1" />
<text x="387.00" y="611.80" font-size="14.1" text-anchor="end" font-weight="normal" fill="#000" >0</text>
<line x1="397.40" y1="599.49" x2="400.40" y2="599.49" stroke="#333" stroke-width="1.0" />
<line x1="397.40" y1="591.08" x2="400.40" y2="591.08" stroke="#333" stroke-width="1.0" />
<line x1="397.40" y1="582.67" x2="400.40" y2="582.67" stroke="#333" stroke-width="1.0" />
<line x1="394.20" y1="574.26" x2="400.40" y2="574.26" stroke="#333" stroke-width="1.1" />
<text x="387.00" y="578.16" font-size="14.1" text-anchor="end" font-weight="normal" fill="#000" >20</text>
<line x1="397.40" y1="565.85" x2="400.40" y2="565.85" stroke="#333" stroke-width="1.0" />
<line x1="397.40" y1="557.44" x2="400.40" y2="557.44" stroke="#333" stroke-width="1.0" />
<line x1="397.40" y1="549.03" x2="400.40" y2="549.03" stroke="#333" stroke-width="1.0" />
<line x1="394.20" y1="540.62" x2="400.40" y2="540.62" stroke="#333" stroke-width="1.1" />
<text x="387.00" y="544.52" font-size="14.1" text-anchor="end" font-weight="normal" fill="#000" >40</text>
<line x1="397.40" y1="532.21" x2="400.40" y2="532.21" stroke="#333" stroke-width="1.0" />
<line x1="397.40" y1="523.80" x2="400.40" y2="523.80" stroke="#333" stroke-width="1.0" />
<line x1="397.40" y1="515.39" x2="400.40" y2="515.39" stroke="#333" stroke-width="1.0" />
<line x1="394.20" y1="506.98" x2="400.40" y2="506.98" stroke="#333" stroke-width="1.1" />
<text x="387.00" y="510.88" font-size="14.1" text-anchor="end" font-weight="normal" fill="#000" >60</text>
<line x1="397.40" y1="498.57" x2="400.40" y2="498.57" stroke="#333" stroke-width="1.0" />
<line x1="397.40" y1="490.16" x2="400.40" y2="490.16" stroke="#333" stroke-width="1.0" />
<line x1="397.40" y1="481.75" x2="400.40" y2="481.75" stroke="#333" stroke-width="1.0" />
<line x1="394.20" y1="473.34" x2="400.40" y2="473.34" stroke="#333" stroke-width="1.1" />
<text x="387.00" y="477.24" font-size="14.1" text-anchor="end" font-weight="normal" fill="#000" >80</text>
<line x1="397.40" y1="464.93" x2="400.40" y2="464.93" stroke="#333" stroke-width="1.0" />
<line x1="397.40" y1="456.52" x2="400.40" y2="456.52" stroke="#333" stroke-width="1.0" />
<line x1="397.40" y1="448.11" x2="400.40" y2="448.11" stroke="#333" stroke-width="1.0" />
<line x1="394.20" y1="439.70" x2="400.40" y2="439.70" stroke="#333" stroke-width="1.1" />
<text x="387.00" y="443.60" font-size="14.1" text-anchor="end" font-weight="normal" fill="#000" >100</text>
<line x1="426.70" y1="608.10" x2="426.70" y2="612.70" stroke="#333" stroke-width="1.1" />
<line x1="455.00" y1="608.10" x2="455.00" y2="612.70" stroke="#333" stroke-width="1.1" />
<line x1="518.10" y1="608.10" x2="518.10" y2="612.70" stroke="#333" stroke-width="1.1" />
<line x1="578.10" y1="608.10" x2="578.10" y2="612.70" stroke="#333" stroke-width="1.1" />
<line x1="636.20" y1="608.10" x2="636.20" y2="612.70" stroke="#333" stroke-width="1.1" />
<line x1="473.99" y1="608.10" x2="473.99" y2="610.70" stroke="#333" stroke-width="0.9" />
<line x1="485.11" y1="608.10" x2="485.11" y2="610.70" stroke="#333" stroke-width="0.9" />
<line x1="492.99" y1="608.10" x2="492.99" y2="610.70" stroke="#333" stroke-width="0.9" />
<line x1="499.11" y1="608.10" x2="499.11" y2="610.70" stroke="#333" stroke-width="0.9" />
<line x1="504.10" y1="608.10" x2="504.10" y2="610.70" stroke="#333" stroke-width="0.9" />
<line x1="508.33" y1="608.10" x2="508.33" y2="610.70" stroke="#333" stroke-width="0.9" />
<line x1="511.98" y1="608.10" x2="511.98" y2="610.70" stroke="#333" stroke-width="0.9" />
<line x1="515.21" y1="608.10" x2="515.21" y2="610.70" stroke="#333" stroke-width="0.9" />
<line x1="536.16" y1="608.10" x2="536.16" y2="610.70" stroke="#333" stroke-width="0.9" />
<line x1="546.73" y1="608.10" x2="546.73" y2="610.70" stroke="#333" stroke-width="0.9" />
<line x1="554.22" y1="608.10" x2="554.22" y2="610.70" stroke="#333" stroke-width="0.9" />
<line x1="560.04" y1="608.10" x2="560.04" y2="610.70" stroke="#333" stroke-width="0.9" />
<line x1="564.79" y1="608.10" x2="564.79" y2="610.70" stroke="#333" stroke-width="0.9" />
<line x1="568.81" y1="608.10" x2="568.81" y2="610.70" stroke="#333" stroke-width="0.9" />
<line x1="572.29" y1="608.10" x2="572.29" y2="610.70" stroke="#333" stroke-width="0.9" />
<line x1="575.35" y1="608.10" x2="575.35" y2="610.70" stroke="#333" stroke-width="0.9" />
<line x1="595.59" y1="608.10" x2="595.59" y2="610.70" stroke="#333" stroke-width="0.9" />
<line x1="605.82" y1="608.10" x2="605.82" y2="610.70" stroke="#333" stroke-width="0.9" />
<line x1="613.08" y1="608.10" x2="613.08" y2="610.70" stroke="#333" stroke-width="0.9" />
<line x1="618.71" y1="608.10" x2="618.71" y2="610.70" stroke="#333" stroke-width="0.9" />
<line x1="623.31" y1="608.10" x2="623.31" y2="610.70" stroke="#333" stroke-width="0.9" />
<line x1="627.20" y1="608.10" x2="627.20" y2="610.70" stroke="#333" stroke-width="0.9" />
<line x1="630.57" y1="608.10" x2="630.57" y2="610.70" stroke="#333" stroke-width="0.9" />
<line x1="633.54" y1="608.10" x2="633.54" y2="610.70" stroke="#333" stroke-width="0.9" />
<line x1="653.17" y1="608.10" x2="653.17" y2="610.70" stroke="#333" stroke-width="0.9" />
<line x1="402.50" y1="608.10" x2="402.50" y2="610.70" stroke="#333" stroke-width="0.9" />
<line x1="408.20" y1="608.10" x2="408.20" y2="610.70" stroke="#333" stroke-width="0.9" />
<line x1="412.90" y1="608.10" x2="412.90" y2="610.70" stroke="#333" stroke-width="0.9" />
<line x1="415.80" y1="608.10" x2="415.80" y2="610.70" stroke="#333" stroke-width="0.9" />
<line x1="418.60" y1="608.10" x2="418.60" y2="610.70" stroke="#333" stroke-width="0.9" />
<line x1="421.50" y1="608.10" x2="421.50" y2="610.70" stroke="#333" stroke-width="0.9" />
<line x1="424.30" y1="608.10" x2="424.30" y2="610.70" stroke="#333" stroke-width="0.9" />
<line x1="435.00" y1="608.10" x2="435.00" y2="610.70" stroke="#333" stroke-width="0.9" />
<line x1="438.80" y1="608.10" x2="438.80" y2="610.70" stroke="#333" stroke-width="0.9" />
<line x1="443.20" y1="608.10" x2="443.20" y2="610.70" stroke="#333" stroke-width="0.9" />
<line x1="447.20" y1="608.10" x2="447.20" y2="610.70" stroke="#333" stroke-width="0.9" />
<line x1="451.20" y1="608.10" x2="451.20" y2="610.70" stroke="#333" stroke-width="0.9" />
<text x="427.10" y="633.40" font-size="13.8" text-anchor="middle" font-weight="normal" fill="#000" >0</text>
<text x="444.00" y="633.40" font-size="13.8">10<tspan font-size="9.6" dy="-5.8">2</tspan></text>
<text x="507.10" y="633.40" font-size="13.8">10<tspan font-size="9.6" dy="-5.8">3</tspan></text>
<text x="567.10" y="633.40" font-size="13.8">10<tspan font-size="9.6" dy="-5.8">4</tspan></text>
<text x="625.20" y="633.40" font-size="13.8">10<tspan font-size="9.6" dy="-5.8">5</tspan></text>
<text x="529.20" y="653.20" font-size="14.35" text-anchor="middle" font-weight="normal" fill="#000" >Anti-human IgG-AF647</text>
<text x="352.60" y="523.50" font-size="14.1" text-anchor="middle" font-weight="normal" fill="#000" transform="rotate(-90 352.6 523.5)">% of max</text>
<polygon points="400.40,607.90 400.40,607.90 401.40,607.90 402.40,607.90 403.40,607.90 404.40,607.90 405.40,607.90 406.40,607.88 407.40,607.85 408.40,607.80 409.40,607.74 410.40,607.65 411.40,607.55 412.40,607.43 413.40,607.28 414.40,607.12 415.40,606.93 416.40,606.72 417.40,606.04 418.40,604.53 419.40,602.34 420.40,599.60 421.40,596.46 422.40,592.90 423.40,587.61 424.40,580.63 425.40,572.40 426.40,563.02 427.40,550.51 428.40,535.81 429.40,520.64 430.40,506.41 431.40,491.77 432.40,477.19 433.40,463.82 434.40,452.12 435.40,442.46 436.40,445.01 437.40,449.73 438.40,445.22 439.40,441.39 440.40,441.70 441.40,443.31 442.40,452.89 443.40,466.34 444.40,478.74 445.40,492.61 446.40,506.88 447.40,519.86 448.40,530.13 449.40,539.05 450.40,547.16 451.40,554.50 452.40,561.11 453.40,567.03 454.40,572.58 455.40,577.92 456.40,582.82 457.40,587.03 458.40,590.32 459.40,592.53 460.40,594.29 461.40,595.79 462.40,597.07 463.40,598.14 464.40,599.03 465.40,599.78 466.40,600.45 467.40,601.06 468.40,601.59 469.40,602.03 470.40,602.37 471.40,602.60 472.40,602.78 473.40,602.92 474.40,603.03 475.40,603.14 476.40,603.23 477.40,603.33 478.40,603.45 479.40,603.59 480.40,603.77 481.40,604.02 482.40,604.31 483.40,604.65 484.40,605.00 485.40,605.37 486.40,605.73 487.40,606.06 488.40,606.36 489.40,606.61 490.40,606.79 491.40,606.96 492.40,607.12 493.40,607.27 494.40,607.41 495.40,607.54 496.40,607.66 497.40,607.75 498.40,607.83 499.40,607.88 500.40,607.90 501.40,607.90 502.40,607.90 503.40,607.90 504.40,607.90 505.40,607.90 506.40,607.90 507.40,607.90 508.40,607.90 509.40,607.90 510.40,607.90 511.40,607.90 512.40,607.90 513.40,607.90 514.40,607.90 515.40,607.90 516.40,607.90 517.40,607.90 518.40,607.90 519.40,607.90 520.40,607.90 521.40,607.90 522.40,607.90 523.40,607.90 524.40,607.90 525.40,607.90 526.40,607.90 527.40,607.90 528.40,607.90 529.40,607.90 530.40,607.90 531.40,607.90 532.40,607.90 533.40,607.90 534.40,607.90 535.40,607.90 536.40,607.90 537.40,607.90 538.40,607.90 539.40,607.90 540.40,607.90 541.40,607.90 542.40,607.90 543.40,607.90 544.40,607.90 545.40,607.90 546.40,607.90 547.40,607.90 548.40,607.90 549.40,607.90 550.40,607.90 551.40,607.90 552.40,607.90 553.40,607.90 554.40,607.90 555.40,607.90 556.40,607.90 557.40,607.90 558.40,607.90 559.40,607.90 560.40,607.90 561.40,607.90 562.40,607.90 563.40,607.90 564.40,607.90 565.40,607.90 566.40,607.90 567.40,607.90 568.40,607.90 569.40,607.90 570.40,607.90 571.40,607.90 572.40,607.90 573.40,607.90 574.40,607.90 575.40,607.90 576.40,607.90 577.40,607.90 578.40,607.90 579.40,607.90 580.40,607.90 581.40,607.90 582.40,607.90 583.40,607.90 584.40,607.90 585.40,607.90 586.40,607.90 587.40,607.90 588.40,607.90 589.40,607.90 590.40,607.90 591.40,607.90 592.40,607.90 593.40,607.90 594.40,607.90 595.40,607.90 596.40,607.90 597.40,607.90 598.40,607.90 599.40,607.90 600.40,607.90 601.40,607.90 602.40,607.90 603.40,607.90 604.40,607.90 605.40,607.90 606.40,607.90 607.40,607.90 608.40,607.90 609.40,607.90 610.40,607.90 611.40,607.90 612.40,607.90 613.40,607.90 614.40,607.90 615.40,607.90 616.40,607.90 617.40,607.90 618.40,607.90 619.40,607.90 620.40,607.90 621.40,607.90 622.40,607.90 623.40,607.90 624.40,607.90 625.40,607.90 626.40,607.90 627.40,607.90 628.40,607.90 629.40,607.90 630.40,607.90 631.40,607.90 632.40,607.90 633.40,607.90 634.40,607.90 635.40,607.90 636.40,607.90 637.40,607.90 638.40,607.90 639.40,607.90 640.40,607.90 641.40,607.90 642.40,607.90 643.40,607.90 644.40,607.90 645.40,607.90 646.40,607.90 647.40,607.90 648.40,607.90 649.40,607.90 650.40,607.90 651.40,607.90 652.40,607.90 653.40,607.90 654.40,607.90 655.40,607.90 656.40,607.90 657.40,607.90 658.40,607.90 659.40,607.90 660.30,607.90" fill="#8a8a8a" stroke="none"/>
<polyline points="400.40,607.90 401.40,607.90 402.40,607.90 403.40,607.90 404.40,607.90 405.40,607.90 406.40,607.90 407.40,607.90 408.40,607.90 409.40,607.90 410.40,607.90 411.40,607.90 412.40,607.90 413.40,607.90 414.40,607.90 415.40,607.90 416.40,607.90 417.40,607.90 418.40,607.90 419.40,607.90 420.40,607.90 421.40,607.90 422.40,607.90 423.40,607.90 424.40,607.90 425.40,607.90 426.40,607.90 427.40,607.90 428.40,607.90 429.40,607.90 430.40,607.90 431.40,607.90 432.40,607.90 433.40,607.90 434.40,607.90 435.40,607.90 436.40,607.90 437.40,607.90 438.40,607.90 439.40,607.90 440.40,607.90 441.40,607.90 442.40,607.90 443.40,607.90 444.40,607.90 445.40,607.89 446.40,607.89 447.40,607.89 448.40,607.90 449.40,607.88 450.40,607.79 451.40,607.76 452.40,607.78 453.40,607.73 454.40,607.66 455.40,607.72 456.40,607.70 457.40,607.58 458.40,607.40 459.40,607.32 460.40,607.27 461.40,606.90 462.40,606.91 463.40,607.10 464.40,606.93 465.40,606.74 466.40,606.80 467.40,606.51 468.40,605.65 469.40,605.38 470.40,605.42 471.40,605.14 472.40,604.50 473.40,604.03 474.40,603.92 475.40,602.56 476.40,601.80 477.40,601.09 478.40,599.27 479.40,598.64 480.40,598.10 481.40,596.37 482.40,595.78 483.40,596.13 484.40,595.86 485.40,594.66 486.40,592.22 487.40,590.72 488.40,591.10 489.40,591.14 490.40,589.78 491.40,587.87 492.40,586.38 493.40,585.05 494.40,583.23 495.40,582.04 496.40,580.68 497.40,578.55 498.40,576.62 499.40,574.09 500.40,569.47 501.40,565.87 502.40,563.92 503.40,562.77 504.40,559.29 505.40,556.40 506.40,555.08 507.40,548.63 508.40,542.44 509.40,539.53 510.40,538.42 511.40,535.05 512.40,530.56 513.40,526.20 514.40,519.03 515.40,515.63 516.40,514.38 517.40,509.15 518.40,500.58 519.40,492.74 520.40,490.69 521.40,487.86 522.40,485.93 523.40,482.77 524.40,477.78 525.40,475.18 526.40,471.67 527.40,466.96 528.40,465.49 529.40,470.05 530.40,473.76 531.40,475.06 532.40,469.28 533.40,458.37 534.40,448.83 535.40,443.87 536.40,442.17 537.40,446.69 538.40,455.01 539.40,455.86 540.40,457.90 541.40,459.18 542.40,453.59 543.40,452.19 544.40,463.97 545.40,472.09 546.40,472.59 547.40,474.63 548.40,483.96 549.40,487.79 550.40,489.58 551.40,496.53 552.40,503.22 553.40,507.12 554.40,510.52 555.40,514.36 556.40,521.99 557.40,528.67 558.40,533.48 559.40,539.73 560.40,545.81 561.40,551.42 562.40,553.62 563.40,559.64 564.40,564.68 565.40,568.32 566.40,575.30 567.40,580.61 568.40,583.94 569.40,586.99 570.40,589.94 571.40,592.77 572.40,594.76 573.40,596.77 574.40,598.87 575.40,599.80 576.40,600.03 577.40,601.59 578.40,602.76 579.40,603.23 580.40,604.18 581.40,604.29 582.40,604.62 583.40,604.86 584.40,605.28 585.40,605.84 586.40,606.01 587.40,606.47 588.40,606.53 589.40,606.62 590.40,606.79 591.40,606.94 592.40,607.31 593.40,607.45 594.40,607.46 595.40,607.50 596.40,607.69 597.40,607.83 598.40,607.90 599.40,607.90 600.40,607.90 601.40,607.90 602.40,607.90 603.40,607.90 604.40,607.90 605.40,607.90 606.40,607.90 607.40,607.90 608.40,607.90 609.40,607.90 610.40,607.90 611.40,607.90 612.40,607.90 613.40,607.90 614.40,607.90 615.40,607.90 616.40,607.90 617.40,607.90 618.40,607.90 619.40,607.90 620.40,607.90 621.40,607.90 622.40,607.90 623.40,607.90 624.40,607.90 625.40,607.90 626.40,607.90 627.40,607.90 628.40,607.90 629.40,607.90 630.40,607.90 631.40,607.90 632.40,607.90 633.40,607.90 634.40,607.90 635.40,607.90 636.40,607.90 637.40,607.90 638.40,607.90 639.40,607.90 640.40,607.90 641.40,607.90 642.40,607.90 643.40,607.90 644.40,607.90 645.40,607.90 646.40,607.90 647.40,607.90 648.40,607.90 649.40,607.90 650.40,607.90 651.40,607.90 652.40,607.90 653.40,607.90 654.40,607.90 655.40,607.90 656.40,607.90 657.40,607.90 658.40,607.90 659.40,607.90" fill="none" stroke="#1a3cff" stroke-width="2.2" stroke-linejoin="round" />
<polyline points="400.40,607.90 401.40,607.90 402.40,607.90 403.40,607.90 404.40,607.90 405.40,607.90 406.40,607.90 407.40,607.90 408.40,607.90 409.40,607.90 410.40,607.90 411.40,607.90 412.40,607.90 413.40,607.90 414.40,607.90 415.40,607.90 416.40,607.90 417.40,607.90 418.40,607.90 419.40,607.90 420.40,607.90 421.40,607.90 422.40,607.90 423.40,607.90 424.40,607.90 425.40,607.90 426.40,607.90 427.40,607.90 428.40,607.90 429.40,607.90 430.40,607.90 431.40,607.90 432.40,607.90 433.40,607.90 434.40,607.90 435.40,607.90 436.40,607.90 437.40,607.90 438.40,607.90 439.40,607.90 440.40,607.90 441.40,607.82 442.40,607.71 443.40,607.65 444.40,607.70 445.40,607.59 446.40,607.21 447.40,607.01 448.40,606.96 449.40,607.16 450.40,606.91 451.40,606.53 452.40,606.94 453.40,606.70 454.40,606.35 455.40,606.50 456.40,606.16 457.40,605.42 458.40,605.16 459.40,605.19 460.40,604.46 461.40,603.90 462.40,604.12 463.40,604.36 464.40,604.42 465.40,604.27 466.40,603.47 467.40,602.78 468.40,602.51 469.40,601.90 470.40,601.75 471.40,601.59 472.40,600.37 473.40,599.38 474.40,598.42 475.40,597.66 476.40,597.43 477.40,596.55 478.40,595.94 479.40,595.96 480.40,594.05 481.40,591.98 482.40,590.89 483.40,590.53 484.40,589.43 485.40,586.88 486.40,584.76 487.40,582.76 488.40,578.70 489.40,572.13 490.40,566.84 491.40,563.19 492.40,558.57 493.40,552.03 494.40,549.77 495.40,545.79 496.40,537.32 497.40,532.06 498.40,526.52 499.40,521.86 500.40,519.91 501.40,517.18 502.40,511.88 503.40,507.29 504.40,502.29 505.40,493.45 506.40,483.21 507.40,476.97 508.40,475.83 509.40,473.16 510.40,469.06 511.40,466.60 512.40,462.01 513.40,458.58 514.40,456.45 515.40,448.84 516.40,442.03 517.40,439.70 518.40,445.84 519.40,453.68 520.40,458.51 521.40,465.00 522.40,472.43 523.40,472.76 524.40,471.52 525.40,473.67 526.40,476.22 527.40,476.56 528.40,478.44 529.40,483.21 530.40,490.16 531.40,498.00 532.40,500.71 533.40,504.65 534.40,507.70 535.40,509.41 536.40,513.98 537.40,516.42 538.40,518.36 539.40,521.57 540.40,529.23 541.40,537.99 542.40,540.74 543.40,542.01 544.40,545.62 545.40,552.86 546.40,559.67 547.40,563.15 548.40,568.04 549.40,574.51 550.40,578.32 551.40,580.96 552.40,585.24 553.40,589.95 554.40,593.13 555.40,593.99 556.40,595.41 557.40,597.32 558.40,598.26 559.40,599.34 560.40,601.09 561.40,602.67 562.40,604.11 563.40,605.13 564.40,605.75 565.40,605.94 566.40,606.18 567.40,606.78 568.40,607.00 569.40,607.08 570.40,607.10 571.40,607.40 572.40,607.68 573.40,607.66 574.40,607.48 575.40,607.51 576.40,607.75 577.40,607.82 578.40,607.82 579.40,607.88 580.40,607.90 581.40,607.90 582.40,607.90 583.40,607.90 584.40,607.90 585.40,607.90 586.40,607.90 587.40,607.90 588.40,607.90 589.40,607.90 590.40,607.90 591.40,607.90 592.40,607.90 593.40,607.90 594.40,607.90 595.40,607.90 596.40,607.90 597.40,607.90 598.40,607.90 599.40,607.90 600.40,607.90 601.40,607.90 602.40,607.90 603.40,607.90 604.40,607.90 605.40,607.90 606.40,607.90 607.40,607.90 608.40,607.90 609.40,607.90 610.40,607.90 611.40,607.90 612.40,607.90 613.40,607.90 614.40,607.90 615.40,607.90 616.40,607.90 617.40,607.90 618.40,607.90 619.40,607.90 620.40,607.90 621.40,607.90 622.40,607.90 623.40,607.90 624.40,607.90 625.40,607.90 626.40,607.90 627.40,607.90 628.40,607.90 629.40,607.90 630.40,607.90 631.40,607.90 632.40,607.90 633.40,607.90 634.40,607.90 635.40,607.90 636.40,607.90 637.40,607.90 638.40,607.90 639.40,607.90 640.40,607.90 641.40,607.90 642.40,607.90 643.40,607.90 644.40,607.90 645.40,607.90 646.40,607.90 647.40,607.90 648.40,607.90 649.40,607.90 650.40,607.90 651.40,607.90 652.40,607.90 653.40,607.90 654.40,607.90 655.40,607.90 656.40,607.90 657.40,607.90 658.40,607.90 659.40,607.90" fill="none" stroke="#000" stroke-width="2.2" stroke-linejoin="round" />
<polyline points="400.40,607.90 401.40,607.90 402.40,607.90 403.40,607.90 404.40,607.90 405.40,607.90 406.40,607.90 407.40,607.90 408.40,607.90 409.40,607.90 410.40,607.90 411.40,607.90 412.40,607.90 413.40,607.90 414.40,607.90 415.40,607.90 416.40,607.90 417.40,607.90 418.40,607.90 419.40,607.90 420.40,607.88 421.40,607.84 422.40,607.78 423.40,607.70 424.40,607.64 425.40,607.53 426.40,607.41 427.40,607.40 428.40,607.31 429.40,607.43 430.40,607.41 431.40,607.19 432.40,607.05 433.40,607.10 434.40,606.80 435.40,606.48 436.40,606.82 437.40,607.02 438.40,606.77 439.40,606.37 440.40,606.32 441.40,606.15 442.40,605.98 443.40,605.72 444.40,605.54 445.40,605.46 446.40,604.79 447.40,603.78 448.40,603.88 449.40,604.29 450.40,603.78 451.40,602.87 452.40,602.40 453.40,602.16 454.40,600.94 455.40,600.22 456.40,599.61 457.40,598.32 458.40,597.72 459.40,596.90 460.40,594.54 461.40,592.01 462.40,590.14 463.40,589.60 464.40,588.08 465.40,584.56 466.40,581.88 467.40,580.35 468.40,579.07 469.40,575.84 470.40,572.60 471.40,570.86 472.40,567.45 473.40,560.68 474.40,554.44 475.40,549.13 476.40,544.38 477.40,538.82 478.40,533.15 479.40,529.28 480.40,520.70 481.40,515.17 482.40,515.38 483.40,513.17 484.40,508.41 485.40,503.63 486.40,503.84 487.40,514.29 488.40,515.31 489.40,502.99 490.40,491.82 491.40,483.30 492.40,477.32 493.40,472.66 494.40,469.67 495.40,464.60 496.40,454.56 497.40,450.48 498.40,449.94 499.40,447.75 500.40,441.54 501.40,440.98 502.40,445.01 503.40,451.36 504.40,460.39 505.40,470.42 506.40,477.97 507.40,478.17 508.40,477.30 509.40,477.15 510.40,482.98 511.40,488.78 512.40,496.24 513.40,507.44 514.40,517.93 515.40,519.51 516.40,521.90 517.40,523.43 518.40,524.78 519.40,526.09 520.40,525.48 521.40,528.97 522.40,537.13 523.40,545.09 524.40,552.49 525.40,559.54 526.40,563.65 527.40,569.81 528.40,574.40 529.40,577.19 530.40,580.42 531.40,583.34 532.40,587.33 533.40,589.53 534.40,590.71 535.40,592.69 536.40,594.49 537.40,596.37 538.40,599.08 539.40,599.81 540.40,599.91 541.40,601.24 542.40,602.21 543.40,602.54 544.40,603.25 545.40,604.22 546.40,604.54 547.40,604.41 548.40,605.06 549.40,605.38 550.40,605.54 551.40,606.32 552.40,606.25 553.40,606.37 554.40,607.04 555.40,607.29 556.40,607.24 557.40,607.32 558.40,607.63 559.40,607.83 560.40,607.90 561.40,607.90 562.40,607.90 563.40,607.90 564.40,607.90 565.40,607.90 566.40,607.90 567.40,607.90 568.40,607.90 569.40,607.90 570.40,607.90 571.40,607.90 572.40,607.90 573.40,607.90 574.40,607.90 575.40,607.90 576.40,607.90 577.40,607.90 578.40,607.90 579.40,607.90 580.40,607.90 581.40,607.90 582.40,607.90 583.40,607.90 584.40,607.90 585.40,607.90 586.40,607.90 587.40,607.90 588.40,607.90 589.40,607.90 590.40,607.90 591.40,607.90 592.40,607.90 593.40,607.90 594.40,607.90 595.40,607.90 596.40,607.90 597.40,607.90 598.40,607.90 599.40,607.90 600.40,607.90 601.40,607.90 602.40,607.90 603.40,607.90 604.40,607.90 605.40,607.90 606.40,607.90 607.40,607.90 608.40,607.90 609.40,607.90 610.40,607.90 611.40,607.90 612.40,607.90 613.40,607.90 614.40,607.90 615.40,607.90 616.40,607.90 617.40,607.90 618.40,607.90 619.40,607.90 620.40,607.90 621.40,607.90 622.40,607.90 623.40,607.90 624.40,607.90 625.40,607.90 626.40,607.90 627.40,607.90 628.40,607.90 629.40,607.90 630.40,607.90 631.40,607.90 632.40,607.90 633.40,607.90 634.40,607.90 635.40,607.90 636.40,607.90 637.40,607.90 638.40,607.90 639.40,607.90 640.40,607.90 641.40,607.90 642.40,607.90 643.40,607.90 644.40,607.90 645.40,607.90 646.40,607.90 647.40,607.90 648.40,607.90 649.40,607.90 650.40,607.90 651.40,607.90 652.40,607.90 653.40,607.90 654.40,607.90 655.40,607.90 656.40,607.90 657.40,607.90 658.40,607.90 659.40,607.90" fill="none" stroke="#ff7f14" stroke-width="2.2" stroke-linejoin="round" />
<polyline points="400.40,607.90 401.40,607.90 402.40,607.90 403.40,607.90 404.40,607.90 405.40,607.90 406.40,607.90 407.40,607.90 408.40,607.90 409.40,607.90 410.40,607.90 411.40,607.90 412.40,607.90 413.40,607.90 414.40,607.90 415.40,607.90 416.40,607.90 417.40,607.90 418.40,607.90 419.40,607.90 420.40,607.89 421.40,607.89 422.40,607.87 423.40,607.71 424.40,607.60 425.40,607.17 426.40,606.59 427.40,606.25 428.40,605.31 429.40,604.64 430.40,604.81 431.40,604.12 432.40,602.32 433.40,601.47 434.40,600.71 435.40,598.70 436.40,597.06 437.40,594.13 438.40,592.29 439.40,591.04 440.40,585.99 441.40,580.89 442.40,575.53 443.40,569.73 444.40,564.57 445.40,558.28 446.40,555.10 447.40,551.51 448.40,545.07 449.40,539.99 450.40,533.88 451.40,530.17 452.40,526.27 453.40,518.96 454.40,512.49 455.40,509.35 456.40,501.46 457.40,491.51 458.40,491.63 459.40,490.24 460.40,479.87 461.40,475.21 462.40,475.35 463.40,473.76 464.40,472.17 465.40,469.51 466.40,466.83 467.40,462.60 468.40,459.79 469.40,459.25 470.40,457.88 471.40,453.90 472.40,448.61 473.40,444.88 474.40,441.51 475.40,449.40 476.40,461.24 477.40,466.45 478.40,469.78 479.40,472.53 480.40,474.77 481.40,474.96 482.40,477.74 483.40,478.06 484.40,477.50 485.40,482.31 486.40,484.97 487.40,487.65 488.40,490.72 489.40,495.26 490.40,497.74 491.40,501.30 492.40,509.74 493.40,513.66 494.40,518.62 495.40,524.61 496.40,528.40 497.40,535.27 498.40,544.67 499.40,551.44 500.40,552.91 501.40,556.24 502.40,561.86 503.40,564.38 504.40,564.85 505.40,567.05 506.40,571.34 507.40,574.53 508.40,576.75 509.40,580.15 510.40,583.99 511.40,586.08 512.40,588.65 513.40,591.32 514.40,593.14 515.40,594.00 516.40,596.41 517.40,599.13 518.40,600.05 519.40,600.85 520.40,601.32 521.40,602.44 522.40,603.71 523.40,604.64 524.40,605.22 525.40,605.23 526.40,605.55 527.40,606.32 528.40,606.73 529.40,606.79 530.40,606.85 531.40,607.11 532.40,607.35 533.40,607.61 534.40,607.79 535.40,607.61 536.40,607.77 537.40,607.90 538.40,607.87 539.40,607.90 540.40,607.90 541.40,607.90 542.40,607.90 543.40,607.90 544.40,607.90 545.40,607.90 546.40,607.90 547.40,607.90 548.40,607.90 549.40,607.90 550.40,607.90 551.40,607.90 552.40,607.90 553.40,607.90 554.40,607.90 555.40,607.90 556.40,607.90 557.40,607.90 558.40,607.90 559.40,607.90 560.40,607.90 561.40,607.90 562.40,607.90 563.40,607.90 564.40,607.90 565.40,607.90 566.40,607.90 567.40,607.90 568.40,607.90 569.40,607.90 570.40,607.90 571.40,607.90 572.40,607.90 573.40,607.90 574.40,607.90 575.40,607.90 576.40,607.90 577.40,607.90 578.40,607.90 579.40,607.90 580.40,607.90 581.40,607.90 582.40,607.90 583.40,607.90 584.40,607.90 585.40,607.90 586.40,607.90 587.40,607.90 588.40,607.90 589.40,607.90 590.40,607.90 591.40,607.90 592.40,607.90 593.40,607.90 594.40,607.90 595.40,607.90 596.40,607.90 597.40,607.90 598.40,607.90 599.40,607.90 600.40,607.90 601.40,607.90 602.40,607.90 603.40,607.90 604.40,607.90 605.40,607.90 606.40,607.90 607.40,607.90 608.40,607.90 609.40,607.90 610.40,607.90 611.40,607.90 612.40,607.90 613.40,607.90 614.40,607.90 615.40,607.90 616.40,607.90 617.40,607.90 618.40,607.90 619.40,607.90 620.40,607.90 621.40,607.90 622.40,607.90 623.40,607.90 624.40,607.90 625.40,607.90 626.40,607.90 627.40,607.90 628.40,607.90 629.40,607.90 630.40,607.90 631.40,607.90 632.40,607.90 633.40,607.90 634.40,607.90 635.40,607.90 636.40,607.90 637.40,607.90 638.40,607.90 639.40,607.90 640.40,607.90 641.40,607.90 642.40,607.90 643.40,607.90 644.40,607.90 645.40,607.90 646.40,607.90 647.40,607.90 648.40,607.90 649.40,607.90 650.40,607.90 651.40,607.90 652.40,607.90 653.40,607.90 654.40,607.90 655.40,607.90 656.40,607.90 657.40,607.90 658.40,607.90 659.40,607.90" fill="none" stroke="#1ef0f0" stroke-width="2.2" stroke-linejoin="round" />
<polyline points="400.40,607.90 401.40,607.90 402.40,607.90 403.40,607.90 404.40,607.90 405.40,607.90 406.40,607.90 407.40,607.90 408.40,607.90 409.40,607.90 410.40,607.90 411.40,607.90 412.40,607.87 413.40,607.79 414.40,607.74 415.40,607.61 416.40,607.77 417.40,607.78 418.40,607.39 419.40,606.97 420.40,606.77 421.40,606.76 422.40,606.78 423.40,605.83 424.40,603.67 425.40,602.08 426.40,600.46 427.40,598.51 428.40,594.98 429.40,589.13 430.40,585.14 431.40,579.70 432.40,571.27 433.40,563.39 434.40,551.99 435.40,541.57 436.40,531.90 437.40,516.34 438.40,502.33 439.40,494.01 440.40,489.69 441.40,485.58 442.40,480.86 443.40,471.62 444.40,462.74 445.40,455.60 446.40,448.81 447.40,446.24 448.40,457.75 449.40,464.74 450.40,465.84 451.40,464.36 452.40,462.86 453.40,462.90 454.40,469.99 455.40,478.70 456.40,479.87 457.40,485.01 458.40,493.23 459.40,496.77 460.40,503.13 461.40,513.04 462.40,519.66 463.40,522.80 464.40,525.69 465.40,532.57 466.40,538.46 467.40,540.26 468.40,542.41 469.40,547.53 470.40,551.09 471.40,553.27 472.40,559.03 473.40,562.98 474.40,563.78 475.40,566.82 476.40,571.75 477.40,573.99 478.40,574.08 479.40,575.10 480.40,579.76 481.40,581.14 482.40,582.32 483.40,585.25 484.40,585.36 485.40,586.97 486.40,589.16 487.40,591.83 488.40,592.84 489.40,593.80 490.40,596.56 491.40,595.82 492.40,595.32 493.40,596.79 494.40,598.41 495.40,599.35 496.40,599.05 497.40,599.71 498.40,600.95 499.40,602.50 500.40,603.07 501.40,603.86 502.40,604.73 503.40,604.43 504.40,604.58 505.40,604.95 506.40,605.02 507.40,604.80 508.40,604.77 509.40,605.46 510.40,605.72 511.40,606.07 512.40,606.54 513.40,606.41 514.40,606.70 515.40,607.00 516.40,607.12 517.40,607.17 518.40,606.90 519.40,607.13 520.40,607.39 521.40,607.50 522.40,607.70 523.40,607.79 524.40,607.67 525.40,607.54 526.40,607.68 527.40,607.86 528.40,607.88 529.40,607.89 530.40,607.90 531.40,607.90 532.40,607.90 533.40,607.90 534.40,607.90 535.40,607.90 536.40,607.90 537.40,607.90 538.40,607.90 539.40,607.90 540.40,607.90 541.40,607.90 542.40,607.90 543.40,607.90 544.40,607.90 545.40,607.90 546.40,607.90 547.40,607.90 548.40,607.90 549.40,607.90 550.40,607.90 551.40,607.90 552.40,607.90 553.40,607.90 554.40,607.90 555.40,607.90 556.40,607.90 557.40,607.90 558.40,607.90 559.40,607.90 560.40,607.90 561.40,607.90 562.40,607.90 563.40,607.90 564.40,607.90 565.40,607.90 566.40,607.90 567.40,607.90 568.40,607.90 569.40,607.90 570.40,607.90 571.40,607.90 572.40,607.90 573.40,607.90 574.40,607.90 575.40,607.90 576.40,607.90 577.40,607.90 578.40,607.90 579.40,607.90 580.40,607.90 581.40,607.90 582.40,607.90 583.40,607.90 584.40,607.90 585.40,607.90 586.40,607.90 587.40,607.90 588.40,607.90 589.40,607.90 590.40,607.90 591.40,607.90 592.40,607.90 593.40,607.90 594.40,607.90 595.40,607.90 596.40,607.90 597.40,607.90 598.40,607.90 599.40,607.90 600.40,607.90 601.40,607.90 602.40,607.90 603.40,607.90 604.40,607.90 605.40,607.90 606.40,607.90 607.40,607.90 608.40,607.90 609.40,607.90 610.40,607.90 611.40,607.90 612.40,607.90 613.40,607.90 614.40,607.90 615.40,607.90 616.40,607.90 617.40,607.90 618.40,607.90 619.40,607.90 620.40,607.90 621.40,607.90 622.40,607.90 623.40,607.90 624.40,607.90 625.40,607.90 626.40,607.90 627.40,607.90 628.40,607.90 629.40,607.90 630.40,607.90 631.40,607.90 632.40,607.90 633.40,607.90 634.40,607.90 635.40,607.90 636.40,607.90 637.40,607.90 638.40,607.90 639.40,607.90 640.40,607.90 641.40,607.90 642.40,607.90 643.40,607.90 644.40,607.90 645.40,607.90 646.40,607.90 647.40,607.90 648.40,607.90 649.40,607.90 650.40,607.90 651.40,607.90 652.40,607.90 653.40,607.90 654.40,607.90 655.40,607.90 656.40,607.90 657.40,607.90 658.40,607.90 659.40,607.90" fill="none" stroke="#ff3cff" stroke-width="2.2" stroke-linejoin="round" />
<rect x="583.30" y="442.20" width="9.00" height="9.50" fill="#0000ff" stroke="#7f93b0" stroke-width="0.8" />
<text x="598.30" y="451.80" font-size="11.9" text-anchor="start" font-weight="normal" fill="#000" >10 µM</text>
<rect x="583.30" y="460.15" width="9.00" height="9.50" fill="#000000" stroke="#7f93b0" stroke-width="0.8" />
<text x="598.30" y="469.75" font-size="11.9" text-anchor="start" font-weight="normal" fill="#000" >2 µM</text>
<rect x="583.30" y="478.10" width="9.00" height="9.50" fill="#e8701a" stroke="#7f93b0" stroke-width="0.8" />
<text x="598.30" y="487.70" font-size="11.9" text-anchor="start" font-weight="normal" fill="#000" >400 nM</text>
<rect x="583.30" y="496.05" width="9.00" height="9.50" fill="#00ffff" stroke="#7f93b0" stroke-width="0.8" />
<text x="598.30" y="505.65" font-size="11.9" text-anchor="start" font-weight="normal" fill="#000" >80 nM</text>
<rect x="583.30" y="514.00" width="9.00" height="9.50" fill="#ff00ff" stroke="#7f93b0" stroke-width="0.8" />
<text x="598.30" y="523.60" font-size="11.9" text-anchor="start" font-weight="normal" fill="#000" >16 nM</text>
<rect x="583.30" y="531.95" width="9.00" height="9.50" fill="#808080" stroke="#7f93b0" stroke-width="0.8" />
<text x="598.30" y="541.55" font-size="11.9" text-anchor="start" font-weight="normal" fill="#000" >Unpulsed</text>
</svg>
</body></html>
